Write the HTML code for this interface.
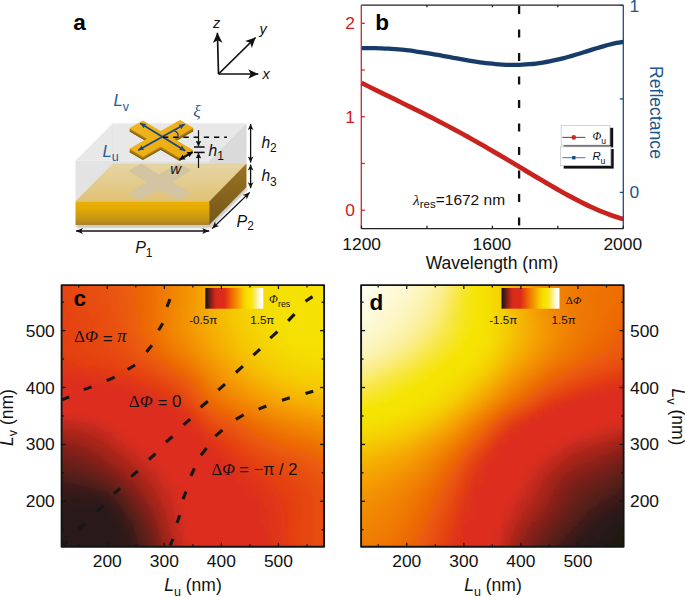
<!DOCTYPE html><html><head><meta charset="utf-8"><style>html,body{margin:0;padding:0;background:#fff;}svg{display:block;}</style></head><body><svg width="685" height="597" viewBox="0 0 685 597"><rect width="685" height="597" fill="#fff"/><defs><filter id="vblur" x="-0.05" y="-0.05" width="1.1" height="1.1"><feGaussianBlur stdDeviation="0.6 1.4"/></filter><linearGradient id="gc0" gradientUnits="userSpaceOnUse" x1="61.6" x2="324.1" y1="0" y2="0"><stop offset="0" stop-color="#e5440d"/><stop offset="0.043" stop-color="#e6470d"/><stop offset="0.087" stop-color="#e74a0c"/><stop offset="0.13" stop-color="#e74d0b"/><stop offset="0.174" stop-color="#e8510a"/><stop offset="0.217" stop-color="#ea5608"/><stop offset="0.261" stop-color="#eb5d07"/><stop offset="0.304" stop-color="#ec6405"/><stop offset="0.348" stop-color="#ee6e03"/><stop offset="0.391" stop-color="#f07901"/><stop offset="0.435" stop-color="#f18500"/><stop offset="0.478" stop-color="#f39100"/><stop offset="0.522" stop-color="#f59f00"/><stop offset="0.565" stop-color="#f5b000"/><stop offset="0.609" stop-color="#f5be00"/><stop offset="0.652" stop-color="#f5ca00"/><stop offset="0.696" stop-color="#f5d300"/><stop offset="0.739" stop-color="#f5da00"/><stop offset="0.783" stop-color="#f5df00"/><stop offset="0.826" stop-color="#f5e000"/><stop offset="0.87" stop-color="#f5e100"/><stop offset="0.913" stop-color="#f5e100"/><stop offset="0.957" stop-color="#f5e100"/><stop offset="1" stop-color="#f5e100"/></linearGradient><linearGradient id="gc1" gradientUnits="userSpaceOnUse" x1="61.6" x2="324.1" y1="0" y2="0"><stop offset="0" stop-color="#e5440d"/><stop offset="0.043" stop-color="#e6470d"/><stop offset="0.087" stop-color="#e74a0c"/><stop offset="0.13" stop-color="#e74d0b"/><stop offset="0.174" stop-color="#e8510a"/><stop offset="0.217" stop-color="#ea5608"/><stop offset="0.261" stop-color="#eb5d07"/><stop offset="0.304" stop-color="#ec6405"/><stop offset="0.348" stop-color="#ee6e03"/><stop offset="0.391" stop-color="#f07901"/><stop offset="0.435" stop-color="#f18500"/><stop offset="0.478" stop-color="#f39100"/><stop offset="0.522" stop-color="#f59f00"/><stop offset="0.565" stop-color="#f5b000"/><stop offset="0.609" stop-color="#f5be00"/><stop offset="0.652" stop-color="#f5ca00"/><stop offset="0.696" stop-color="#f5d300"/><stop offset="0.739" stop-color="#f5da00"/><stop offset="0.783" stop-color="#f5df00"/><stop offset="0.826" stop-color="#f5e000"/><stop offset="0.87" stop-color="#f5e100"/><stop offset="0.913" stop-color="#f5e100"/><stop offset="0.957" stop-color="#f5e100"/><stop offset="1" stop-color="#f5e100"/></linearGradient><linearGradient id="gc2" gradientUnits="userSpaceOnUse" x1="61.6" x2="324.1" y1="0" y2="0"><stop offset="0" stop-color="#e5440e"/><stop offset="0.043" stop-color="#e6470d"/><stop offset="0.087" stop-color="#e74a0c"/><stop offset="0.13" stop-color="#e74d0b"/><stop offset="0.174" stop-color="#e8510a"/><stop offset="0.217" stop-color="#ea5609"/><stop offset="0.261" stop-color="#eb5c07"/><stop offset="0.304" stop-color="#ec6405"/><stop offset="0.348" stop-color="#ee6e03"/><stop offset="0.391" stop-color="#f07901"/><stop offset="0.435" stop-color="#f18500"/><stop offset="0.478" stop-color="#f39100"/><stop offset="0.522" stop-color="#f59f00"/><stop offset="0.565" stop-color="#f5af00"/><stop offset="0.609" stop-color="#f5be00"/><stop offset="0.652" stop-color="#f5ca00"/><stop offset="0.696" stop-color="#f5d300"/><stop offset="0.739" stop-color="#f5da00"/><stop offset="0.783" stop-color="#f5df00"/><stop offset="0.826" stop-color="#f5e000"/><stop offset="0.87" stop-color="#f5e100"/><stop offset="0.913" stop-color="#f5e100"/><stop offset="0.957" stop-color="#f5e100"/><stop offset="1" stop-color="#f5e100"/></linearGradient><linearGradient id="gc3" gradientUnits="userSpaceOnUse" x1="61.6" x2="324.1" y1="0" y2="0"><stop offset="0" stop-color="#e5440e"/><stop offset="0.043" stop-color="#e6460d"/><stop offset="0.087" stop-color="#e6490c"/><stop offset="0.13" stop-color="#e74c0b"/><stop offset="0.174" stop-color="#e8500a"/><stop offset="0.217" stop-color="#e95609"/><stop offset="0.261" stop-color="#eb5c07"/><stop offset="0.304" stop-color="#ec6405"/><stop offset="0.348" stop-color="#ee6e03"/><stop offset="0.391" stop-color="#f07901"/><stop offset="0.435" stop-color="#f18500"/><stop offset="0.478" stop-color="#f39100"/><stop offset="0.522" stop-color="#f59f00"/><stop offset="0.565" stop-color="#f5af00"/><stop offset="0.609" stop-color="#f5bd00"/><stop offset="0.652" stop-color="#f5ca00"/><stop offset="0.696" stop-color="#f5d200"/><stop offset="0.739" stop-color="#f5da00"/><stop offset="0.783" stop-color="#f5df00"/><stop offset="0.826" stop-color="#f5e000"/><stop offset="0.87" stop-color="#f5e100"/><stop offset="0.913" stop-color="#f5e100"/><stop offset="0.957" stop-color="#f5e100"/><stop offset="1" stop-color="#f5e100"/></linearGradient><linearGradient id="gc4" gradientUnits="userSpaceOnUse" x1="61.6" x2="324.1" y1="0" y2="0"><stop offset="0" stop-color="#e5430e"/><stop offset="0.043" stop-color="#e6460d"/><stop offset="0.087" stop-color="#e6490c"/><stop offset="0.13" stop-color="#e74c0b"/><stop offset="0.174" stop-color="#e8500a"/><stop offset="0.217" stop-color="#e95509"/><stop offset="0.261" stop-color="#eb5c07"/><stop offset="0.304" stop-color="#ec6405"/><stop offset="0.348" stop-color="#ee6e03"/><stop offset="0.391" stop-color="#f07901"/><stop offset="0.435" stop-color="#f18500"/><stop offset="0.478" stop-color="#f39100"/><stop offset="0.522" stop-color="#f59f00"/><stop offset="0.565" stop-color="#f5af00"/><stop offset="0.609" stop-color="#f5bd00"/><stop offset="0.652" stop-color="#f5c900"/><stop offset="0.696" stop-color="#f5d200"/><stop offset="0.739" stop-color="#f5d900"/><stop offset="0.783" stop-color="#f5de00"/><stop offset="0.826" stop-color="#f5e000"/><stop offset="0.87" stop-color="#f5e100"/><stop offset="0.913" stop-color="#f5e100"/><stop offset="0.957" stop-color="#f5e100"/><stop offset="1" stop-color="#f5e100"/></linearGradient><linearGradient id="gc5" gradientUnits="userSpaceOnUse" x1="61.6" x2="324.1" y1="0" y2="0"><stop offset="0" stop-color="#e5430e"/><stop offset="0.043" stop-color="#e5450d"/><stop offset="0.087" stop-color="#e6480c"/><stop offset="0.13" stop-color="#e74c0b"/><stop offset="0.174" stop-color="#e84f0a"/><stop offset="0.217" stop-color="#e95509"/><stop offset="0.261" stop-color="#eb5b07"/><stop offset="0.304" stop-color="#ec6405"/><stop offset="0.348" stop-color="#ee6e03"/><stop offset="0.391" stop-color="#f07a01"/><stop offset="0.435" stop-color="#f18600"/><stop offset="0.478" stop-color="#f39100"/><stop offset="0.522" stop-color="#f59e00"/><stop offset="0.565" stop-color="#f5ae00"/><stop offset="0.609" stop-color="#f5bc00"/><stop offset="0.652" stop-color="#f5c900"/><stop offset="0.696" stop-color="#f5d200"/><stop offset="0.739" stop-color="#f5d900"/><stop offset="0.783" stop-color="#f5de00"/><stop offset="0.826" stop-color="#f5e000"/><stop offset="0.87" stop-color="#f5e100"/><stop offset="0.913" stop-color="#f5e100"/><stop offset="0.957" stop-color="#f5e100"/><stop offset="1" stop-color="#f5e100"/></linearGradient><linearGradient id="gc6" gradientUnits="userSpaceOnUse" x1="61.6" x2="324.1" y1="0" y2="0"><stop offset="0" stop-color="#e5420e"/><stop offset="0.043" stop-color="#e5450d"/><stop offset="0.087" stop-color="#e6480c"/><stop offset="0.13" stop-color="#e74b0c"/><stop offset="0.174" stop-color="#e84f0a"/><stop offset="0.217" stop-color="#e95409"/><stop offset="0.261" stop-color="#eb5b07"/><stop offset="0.304" stop-color="#ec6305"/><stop offset="0.348" stop-color="#ee6e03"/><stop offset="0.391" stop-color="#f07a01"/><stop offset="0.435" stop-color="#f18600"/><stop offset="0.478" stop-color="#f39100"/><stop offset="0.522" stop-color="#f59e00"/><stop offset="0.565" stop-color="#f5ae00"/><stop offset="0.609" stop-color="#f5bc00"/><stop offset="0.652" stop-color="#f5c900"/><stop offset="0.696" stop-color="#f5d100"/><stop offset="0.739" stop-color="#f5d900"/><stop offset="0.783" stop-color="#f5de00"/><stop offset="0.826" stop-color="#f5e000"/><stop offset="0.87" stop-color="#f5e100"/><stop offset="0.913" stop-color="#f5e100"/><stop offset="0.957" stop-color="#f5e100"/><stop offset="1" stop-color="#f5e100"/></linearGradient><linearGradient id="gc7" gradientUnits="userSpaceOnUse" x1="61.6" x2="324.1" y1="0" y2="0"><stop offset="0" stop-color="#e5420e"/><stop offset="0.043" stop-color="#e5440d"/><stop offset="0.087" stop-color="#e6470d"/><stop offset="0.13" stop-color="#e74b0c"/><stop offset="0.174" stop-color="#e84f0b"/><stop offset="0.217" stop-color="#e95409"/><stop offset="0.261" stop-color="#ea5b07"/><stop offset="0.304" stop-color="#ec6305"/><stop offset="0.348" stop-color="#ee6e03"/><stop offset="0.391" stop-color="#f07a00"/><stop offset="0.435" stop-color="#f18600"/><stop offset="0.478" stop-color="#f39100"/><stop offset="0.522" stop-color="#f59e00"/><stop offset="0.565" stop-color="#f5ae00"/><stop offset="0.609" stop-color="#f5bc00"/><stop offset="0.652" stop-color="#f5c800"/><stop offset="0.696" stop-color="#f5d100"/><stop offset="0.739" stop-color="#f5d800"/><stop offset="0.783" stop-color="#f5de00"/><stop offset="0.826" stop-color="#f5e000"/><stop offset="0.87" stop-color="#f5e100"/><stop offset="0.913" stop-color="#f5e100"/><stop offset="0.957" stop-color="#f5e100"/><stop offset="1" stop-color="#f5e100"/></linearGradient><linearGradient id="gc8" gradientUnits="userSpaceOnUse" x1="61.6" x2="324.1" y1="0" y2="0"><stop offset="0" stop-color="#e5410e"/><stop offset="0.043" stop-color="#e5440e"/><stop offset="0.087" stop-color="#e6470d"/><stop offset="0.13" stop-color="#e74a0c"/><stop offset="0.174" stop-color="#e84e0b"/><stop offset="0.217" stop-color="#e95409"/><stop offset="0.261" stop-color="#ea5b07"/><stop offset="0.304" stop-color="#ec6305"/><stop offset="0.348" stop-color="#ee6e03"/><stop offset="0.391" stop-color="#f07a00"/><stop offset="0.435" stop-color="#f18600"/><stop offset="0.478" stop-color="#f39100"/><stop offset="0.522" stop-color="#f59f00"/><stop offset="0.565" stop-color="#f5ae00"/><stop offset="0.609" stop-color="#f5bb00"/><stop offset="0.652" stop-color="#f5c800"/><stop offset="0.696" stop-color="#f5d100"/><stop offset="0.739" stop-color="#f5d800"/><stop offset="0.783" stop-color="#f5dd00"/><stop offset="0.826" stop-color="#f5e000"/><stop offset="0.87" stop-color="#f5e100"/><stop offset="0.913" stop-color="#f5e100"/><stop offset="0.957" stop-color="#f5e100"/><stop offset="1" stop-color="#f5e100"/></linearGradient><linearGradient id="gc9" gradientUnits="userSpaceOnUse" x1="61.6" x2="324.1" y1="0" y2="0"><stop offset="0" stop-color="#e4410e"/><stop offset="0.043" stop-color="#e5440e"/><stop offset="0.087" stop-color="#e6470d"/><stop offset="0.13" stop-color="#e74a0c"/><stop offset="0.174" stop-color="#e84e0b"/><stop offset="0.217" stop-color="#e95409"/><stop offset="0.261" stop-color="#ea5b07"/><stop offset="0.304" stop-color="#ec6305"/><stop offset="0.348" stop-color="#ee6e03"/><stop offset="0.391" stop-color="#f07a00"/><stop offset="0.435" stop-color="#f18700"/><stop offset="0.478" stop-color="#f39200"/><stop offset="0.522" stop-color="#f59f00"/><stop offset="0.565" stop-color="#f5ae00"/><stop offset="0.609" stop-color="#f5bb00"/><stop offset="0.652" stop-color="#f5c800"/><stop offset="0.696" stop-color="#f5d000"/><stop offset="0.739" stop-color="#f5d700"/><stop offset="0.783" stop-color="#f5dd00"/><stop offset="0.826" stop-color="#f5e000"/><stop offset="0.87" stop-color="#f5e100"/><stop offset="0.913" stop-color="#f5e100"/><stop offset="0.957" stop-color="#f5e100"/><stop offset="1" stop-color="#f5e100"/></linearGradient><linearGradient id="gc10" gradientUnits="userSpaceOnUse" x1="61.6" x2="324.1" y1="0" y2="0"><stop offset="0" stop-color="#e4410e"/><stop offset="0.043" stop-color="#e5430e"/><stop offset="0.087" stop-color="#e6460d"/><stop offset="0.13" stop-color="#e74a0c"/><stop offset="0.174" stop-color="#e84e0b"/><stop offset="0.217" stop-color="#e95309"/><stop offset="0.261" stop-color="#ea5a07"/><stop offset="0.304" stop-color="#ec6305"/><stop offset="0.348" stop-color="#ee6e03"/><stop offset="0.391" stop-color="#f07b00"/><stop offset="0.435" stop-color="#f28700"/><stop offset="0.478" stop-color="#f39200"/><stop offset="0.522" stop-color="#f59f00"/><stop offset="0.565" stop-color="#f5ae00"/><stop offset="0.609" stop-color="#f5bb00"/><stop offset="0.652" stop-color="#f5c700"/><stop offset="0.696" stop-color="#f5d000"/><stop offset="0.739" stop-color="#f5d700"/><stop offset="0.783" stop-color="#f5dd00"/><stop offset="0.826" stop-color="#f5e000"/><stop offset="0.87" stop-color="#f5e000"/><stop offset="0.913" stop-color="#f5e100"/><stop offset="0.957" stop-color="#f5e100"/><stop offset="1" stop-color="#f5e100"/></linearGradient><linearGradient id="gc11" gradientUnits="userSpaceOnUse" x1="61.6" x2="324.1" y1="0" y2="0"><stop offset="0" stop-color="#e4400f"/><stop offset="0.043" stop-color="#e5430e"/><stop offset="0.087" stop-color="#e6460d"/><stop offset="0.13" stop-color="#e6490c"/><stop offset="0.174" stop-color="#e74d0b"/><stop offset="0.217" stop-color="#e95309"/><stop offset="0.261" stop-color="#ea5a08"/><stop offset="0.304" stop-color="#ec6306"/><stop offset="0.348" stop-color="#ee6e03"/><stop offset="0.391" stop-color="#f07b00"/><stop offset="0.435" stop-color="#f28700"/><stop offset="0.478" stop-color="#f39200"/><stop offset="0.522" stop-color="#f59f00"/><stop offset="0.565" stop-color="#f5ad00"/><stop offset="0.609" stop-color="#f5ba00"/><stop offset="0.652" stop-color="#f5c600"/><stop offset="0.696" stop-color="#f5cf00"/><stop offset="0.739" stop-color="#f5d600"/><stop offset="0.783" stop-color="#f5dc00"/><stop offset="0.826" stop-color="#f5e000"/><stop offset="0.87" stop-color="#f5e000"/><stop offset="0.913" stop-color="#f5e100"/><stop offset="0.957" stop-color="#f5e100"/><stop offset="1" stop-color="#f5e100"/></linearGradient><linearGradient id="gc12" gradientUnits="userSpaceOnUse" x1="61.6" x2="324.1" y1="0" y2="0"><stop offset="0" stop-color="#e4400f"/><stop offset="0.043" stop-color="#e5430e"/><stop offset="0.087" stop-color="#e6460d"/><stop offset="0.13" stop-color="#e6490c"/><stop offset="0.174" stop-color="#e74d0b"/><stop offset="0.217" stop-color="#e95309"/><stop offset="0.261" stop-color="#ea5a08"/><stop offset="0.304" stop-color="#ec6306"/><stop offset="0.348" stop-color="#ee6e03"/><stop offset="0.391" stop-color="#f07b00"/><stop offset="0.435" stop-color="#f28700"/><stop offset="0.478" stop-color="#f39200"/><stop offset="0.522" stop-color="#f59f00"/><stop offset="0.565" stop-color="#f5ad00"/><stop offset="0.609" stop-color="#f5ba00"/><stop offset="0.652" stop-color="#f5c600"/><stop offset="0.696" stop-color="#f5cf00"/><stop offset="0.739" stop-color="#f5d600"/><stop offset="0.783" stop-color="#f5db00"/><stop offset="0.826" stop-color="#f5e000"/><stop offset="0.87" stop-color="#f5e000"/><stop offset="0.913" stop-color="#f5e100"/><stop offset="0.957" stop-color="#f5e100"/><stop offset="1" stop-color="#f5e100"/></linearGradient><linearGradient id="gc13" gradientUnits="userSpaceOnUse" x1="61.6" x2="324.1" y1="0" y2="0"><stop offset="0" stop-color="#e4400f"/><stop offset="0.043" stop-color="#e5420e"/><stop offset="0.087" stop-color="#e6450d"/><stop offset="0.13" stop-color="#e6490c"/><stop offset="0.174" stop-color="#e74d0b"/><stop offset="0.217" stop-color="#e9520a"/><stop offset="0.261" stop-color="#ea5a08"/><stop offset="0.304" stop-color="#ec6306"/><stop offset="0.348" stop-color="#ee6e03"/><stop offset="0.391" stop-color="#f07b00"/><stop offset="0.435" stop-color="#f28800"/><stop offset="0.478" stop-color="#f39200"/><stop offset="0.522" stop-color="#f59f00"/><stop offset="0.565" stop-color="#f5ad00"/><stop offset="0.609" stop-color="#f5b900"/><stop offset="0.652" stop-color="#f5c500"/><stop offset="0.696" stop-color="#f5ce00"/><stop offset="0.739" stop-color="#f5d500"/><stop offset="0.783" stop-color="#f5db00"/><stop offset="0.826" stop-color="#f5df00"/><stop offset="0.87" stop-color="#f5e000"/><stop offset="0.913" stop-color="#f5e100"/><stop offset="0.957" stop-color="#f5e100"/><stop offset="1" stop-color="#f5e100"/></linearGradient><linearGradient id="gc14" gradientUnits="userSpaceOnUse" x1="61.6" x2="324.1" y1="0" y2="0"><stop offset="0" stop-color="#e43f0f"/><stop offset="0.043" stop-color="#e5420e"/><stop offset="0.087" stop-color="#e5450d"/><stop offset="0.13" stop-color="#e6480c"/><stop offset="0.174" stop-color="#e74c0b"/><stop offset="0.217" stop-color="#e9520a"/><stop offset="0.261" stop-color="#ea5908"/><stop offset="0.304" stop-color="#ec6206"/><stop offset="0.348" stop-color="#ee6e03"/><stop offset="0.391" stop-color="#f07b00"/><stop offset="0.435" stop-color="#f28800"/><stop offset="0.478" stop-color="#f39200"/><stop offset="0.522" stop-color="#f59f00"/><stop offset="0.565" stop-color="#f5ac00"/><stop offset="0.609" stop-color="#f5b900"/><stop offset="0.652" stop-color="#f5c400"/><stop offset="0.696" stop-color="#f5cd00"/><stop offset="0.739" stop-color="#f5d400"/><stop offset="0.783" stop-color="#f5da00"/><stop offset="0.826" stop-color="#f5df00"/><stop offset="0.87" stop-color="#f5e000"/><stop offset="0.913" stop-color="#f5e100"/><stop offset="0.957" stop-color="#f5e100"/><stop offset="1" stop-color="#f5e100"/></linearGradient><linearGradient id="gc15" gradientUnits="userSpaceOnUse" x1="61.6" x2="324.1" y1="0" y2="0"><stop offset="0" stop-color="#e43f0f"/><stop offset="0.043" stop-color="#e5420e"/><stop offset="0.087" stop-color="#e5450d"/><stop offset="0.13" stop-color="#e6480c"/><stop offset="0.174" stop-color="#e74c0b"/><stop offset="0.217" stop-color="#e8510a"/><stop offset="0.261" stop-color="#ea5908"/><stop offset="0.304" stop-color="#ec6206"/><stop offset="0.348" stop-color="#ee6d03"/><stop offset="0.391" stop-color="#f07b00"/><stop offset="0.435" stop-color="#f28700"/><stop offset="0.478" stop-color="#f39200"/><stop offset="0.522" stop-color="#f59e00"/><stop offset="0.565" stop-color="#f5ac00"/><stop offset="0.609" stop-color="#f5b800"/><stop offset="0.652" stop-color="#f5c300"/><stop offset="0.696" stop-color="#f5cd00"/><stop offset="0.739" stop-color="#f5d300"/><stop offset="0.783" stop-color="#f5d900"/><stop offset="0.826" stop-color="#f5de00"/><stop offset="0.87" stop-color="#f5e000"/><stop offset="0.913" stop-color="#f5e100"/><stop offset="0.957" stop-color="#f5e100"/><stop offset="1" stop-color="#f5e100"/></linearGradient><linearGradient id="gc16" gradientUnits="userSpaceOnUse" x1="61.6" x2="324.1" y1="0" y2="0"><stop offset="0" stop-color="#e43f0f"/><stop offset="0.043" stop-color="#e5410e"/><stop offset="0.087" stop-color="#e5440d"/><stop offset="0.13" stop-color="#e6480d"/><stop offset="0.174" stop-color="#e74c0b"/><stop offset="0.217" stop-color="#e8510a"/><stop offset="0.261" stop-color="#ea5808"/><stop offset="0.304" stop-color="#ec6106"/><stop offset="0.348" stop-color="#ed6d03"/><stop offset="0.391" stop-color="#f07a00"/><stop offset="0.435" stop-color="#f28700"/><stop offset="0.478" stop-color="#f39200"/><stop offset="0.522" stop-color="#f59e00"/><stop offset="0.565" stop-color="#f5ab00"/><stop offset="0.609" stop-color="#f5b700"/><stop offset="0.652" stop-color="#f5c200"/><stop offset="0.696" stop-color="#f5cc00"/><stop offset="0.739" stop-color="#f5d300"/><stop offset="0.783" stop-color="#f5d900"/><stop offset="0.826" stop-color="#f5de00"/><stop offset="0.87" stop-color="#f5e000"/><stop offset="0.913" stop-color="#f5e100"/><stop offset="0.957" stop-color="#f5e100"/><stop offset="1" stop-color="#f5e100"/></linearGradient><linearGradient id="gc17" gradientUnits="userSpaceOnUse" x1="61.6" x2="324.1" y1="0" y2="0"><stop offset="0" stop-color="#e43e0f"/><stop offset="0.043" stop-color="#e4410e"/><stop offset="0.087" stop-color="#e5440d"/><stop offset="0.13" stop-color="#e6470d"/><stop offset="0.174" stop-color="#e74b0c"/><stop offset="0.217" stop-color="#e8500a"/><stop offset="0.261" stop-color="#ea5808"/><stop offset="0.304" stop-color="#eb6106"/><stop offset="0.348" stop-color="#ed6c04"/><stop offset="0.391" stop-color="#f07a01"/><stop offset="0.435" stop-color="#f18700"/><stop offset="0.478" stop-color="#f39100"/><stop offset="0.522" stop-color="#f59d00"/><stop offset="0.565" stop-color="#f5aa00"/><stop offset="0.609" stop-color="#f5b600"/><stop offset="0.652" stop-color="#f5c100"/><stop offset="0.696" stop-color="#f5cb00"/><stop offset="0.739" stop-color="#f5d200"/><stop offset="0.783" stop-color="#f5d800"/><stop offset="0.826" stop-color="#f5dd00"/><stop offset="0.87" stop-color="#f5e000"/><stop offset="0.913" stop-color="#f5e000"/><stop offset="0.957" stop-color="#f5e100"/><stop offset="1" stop-color="#f5e100"/></linearGradient><linearGradient id="gc18" gradientUnits="userSpaceOnUse" x1="61.6" x2="324.1" y1="0" y2="0"><stop offset="0" stop-color="#e43e0f"/><stop offset="0.043" stop-color="#e4410e"/><stop offset="0.087" stop-color="#e5440e"/><stop offset="0.13" stop-color="#e6470d"/><stop offset="0.174" stop-color="#e74a0c"/><stop offset="0.217" stop-color="#e8500a"/><stop offset="0.261" stop-color="#ea5708"/><stop offset="0.304" stop-color="#eb6006"/><stop offset="0.348" stop-color="#ed6b04"/><stop offset="0.391" stop-color="#ef7901"/><stop offset="0.435" stop-color="#f18600"/><stop offset="0.478" stop-color="#f39000"/><stop offset="0.522" stop-color="#f49c00"/><stop offset="0.565" stop-color="#f5a900"/><stop offset="0.609" stop-color="#f5b500"/><stop offset="0.652" stop-color="#f5c000"/><stop offset="0.696" stop-color="#f5ca00"/><stop offset="0.739" stop-color="#f5d100"/><stop offset="0.783" stop-color="#f5d700"/><stop offset="0.826" stop-color="#f5dc00"/><stop offset="0.87" stop-color="#f5e000"/><stop offset="0.913" stop-color="#f5e000"/><stop offset="0.957" stop-color="#f5e100"/><stop offset="1" stop-color="#f5e100"/></linearGradient><linearGradient id="gc19" gradientUnits="userSpaceOnUse" x1="61.6" x2="324.1" y1="0" y2="0"><stop offset="0" stop-color="#e43d0f"/><stop offset="0.043" stop-color="#e4400f"/><stop offset="0.087" stop-color="#e5430e"/><stop offset="0.13" stop-color="#e6460d"/><stop offset="0.174" stop-color="#e74a0c"/><stop offset="0.217" stop-color="#e84f0b"/><stop offset="0.261" stop-color="#e95609"/><stop offset="0.304" stop-color="#eb5e07"/><stop offset="0.348" stop-color="#ed6a04"/><stop offset="0.391" stop-color="#ef7701"/><stop offset="0.435" stop-color="#f18400"/><stop offset="0.478" stop-color="#f38e00"/><stop offset="0.522" stop-color="#f49a00"/><stop offset="0.565" stop-color="#f5a700"/><stop offset="0.609" stop-color="#f5b300"/><stop offset="0.652" stop-color="#f5be00"/><stop offset="0.696" stop-color="#f5c900"/><stop offset="0.739" stop-color="#f5d000"/><stop offset="0.783" stop-color="#f5d600"/><stop offset="0.826" stop-color="#f5db00"/><stop offset="0.87" stop-color="#f5df00"/><stop offset="0.913" stop-color="#f5e000"/><stop offset="0.957" stop-color="#f5e000"/><stop offset="1" stop-color="#f5e100"/></linearGradient><linearGradient id="gc20" gradientUnits="userSpaceOnUse" x1="61.6" x2="324.1" y1="0" y2="0"><stop offset="0" stop-color="#e43d0f"/><stop offset="0.043" stop-color="#e4400f"/><stop offset="0.087" stop-color="#e5430e"/><stop offset="0.13" stop-color="#e6460d"/><stop offset="0.174" stop-color="#e6490c"/><stop offset="0.217" stop-color="#e84e0b"/><stop offset="0.261" stop-color="#e95509"/><stop offset="0.304" stop-color="#eb5d07"/><stop offset="0.348" stop-color="#ed6804"/><stop offset="0.391" stop-color="#ef7501"/><stop offset="0.435" stop-color="#f18300"/><stop offset="0.478" stop-color="#f28d00"/><stop offset="0.522" stop-color="#f49900"/><stop offset="0.565" stop-color="#f5a600"/><stop offset="0.609" stop-color="#f5b200"/><stop offset="0.652" stop-color="#f5bd00"/><stop offset="0.696" stop-color="#f5c800"/><stop offset="0.739" stop-color="#f5cf00"/><stop offset="0.783" stop-color="#f5d500"/><stop offset="0.826" stop-color="#f5db00"/><stop offset="0.87" stop-color="#f5df00"/><stop offset="0.913" stop-color="#f5e000"/><stop offset="0.957" stop-color="#f5e000"/><stop offset="1" stop-color="#f5e100"/></linearGradient><linearGradient id="gc21" gradientUnits="userSpaceOnUse" x1="61.6" x2="324.1" y1="0" y2="0"><stop offset="0" stop-color="#e33d10"/><stop offset="0.043" stop-color="#e4400f"/><stop offset="0.087" stop-color="#e5420e"/><stop offset="0.13" stop-color="#e5450d"/><stop offset="0.174" stop-color="#e6480c"/><stop offset="0.217" stop-color="#e74d0b"/><stop offset="0.261" stop-color="#e95309"/><stop offset="0.304" stop-color="#eb5c07"/><stop offset="0.348" stop-color="#ec6605"/><stop offset="0.391" stop-color="#ef7302"/><stop offset="0.435" stop-color="#f18000"/><stop offset="0.478" stop-color="#f28b00"/><stop offset="0.522" stop-color="#f49700"/><stop offset="0.565" stop-color="#f5a400"/><stop offset="0.609" stop-color="#f5b000"/><stop offset="0.652" stop-color="#f5bb00"/><stop offset="0.696" stop-color="#f5c600"/><stop offset="0.739" stop-color="#f5ce00"/><stop offset="0.783" stop-color="#f5d400"/><stop offset="0.826" stop-color="#f5da00"/><stop offset="0.87" stop-color="#f5de00"/><stop offset="0.913" stop-color="#f5e000"/><stop offset="0.957" stop-color="#f5e000"/><stop offset="1" stop-color="#f5e000"/></linearGradient><linearGradient id="gc22" gradientUnits="userSpaceOnUse" x1="61.6" x2="324.1" y1="0" y2="0"><stop offset="0" stop-color="#e33c10"/><stop offset="0.043" stop-color="#e43f0f"/><stop offset="0.087" stop-color="#e5420e"/><stop offset="0.13" stop-color="#e5440d"/><stop offset="0.174" stop-color="#e6470d"/><stop offset="0.217" stop-color="#e74c0b"/><stop offset="0.261" stop-color="#e9520a"/><stop offset="0.304" stop-color="#ea5a08"/><stop offset="0.348" stop-color="#ec6405"/><stop offset="0.391" stop-color="#ee7103"/><stop offset="0.435" stop-color="#f07e00"/><stop offset="0.478" stop-color="#f28800"/><stop offset="0.522" stop-color="#f39500"/><stop offset="0.565" stop-color="#f5a200"/><stop offset="0.609" stop-color="#f5ae00"/><stop offset="0.652" stop-color="#f5ba00"/><stop offset="0.696" stop-color="#f5c500"/><stop offset="0.739" stop-color="#f5cd00"/><stop offset="0.783" stop-color="#f5d300"/><stop offset="0.826" stop-color="#f5d800"/><stop offset="0.87" stop-color="#f5dd00"/><stop offset="0.913" stop-color="#f5df00"/><stop offset="0.957" stop-color="#f5e000"/><stop offset="1" stop-color="#f5e000"/></linearGradient><linearGradient id="gc23" gradientUnits="userSpaceOnUse" x1="61.6" x2="324.1" y1="0" y2="0"><stop offset="0" stop-color="#e33c10"/><stop offset="0.043" stop-color="#e43f0f"/><stop offset="0.087" stop-color="#e4410e"/><stop offset="0.13" stop-color="#e5440e"/><stop offset="0.174" stop-color="#e6460d"/><stop offset="0.217" stop-color="#e74b0c"/><stop offset="0.261" stop-color="#e8500a"/><stop offset="0.304" stop-color="#ea5808"/><stop offset="0.348" stop-color="#ec6206"/><stop offset="0.391" stop-color="#ee6e03"/><stop offset="0.435" stop-color="#f07b00"/><stop offset="0.478" stop-color="#f18500"/><stop offset="0.522" stop-color="#f39200"/><stop offset="0.565" stop-color="#f59f00"/><stop offset="0.609" stop-color="#f5ac00"/><stop offset="0.652" stop-color="#f5b800"/><stop offset="0.696" stop-color="#f5c300"/><stop offset="0.739" stop-color="#f5cb00"/><stop offset="0.783" stop-color="#f5d200"/><stop offset="0.826" stop-color="#f5d700"/><stop offset="0.87" stop-color="#f5db00"/><stop offset="0.913" stop-color="#f5de00"/><stop offset="0.957" stop-color="#f5df00"/><stop offset="1" stop-color="#f5e000"/></linearGradient><linearGradient id="gc24" gradientUnits="userSpaceOnUse" x1="61.6" x2="324.1" y1="0" y2="0"><stop offset="0" stop-color="#e33b10"/><stop offset="0.043" stop-color="#e43e0f"/><stop offset="0.087" stop-color="#e4400f"/><stop offset="0.13" stop-color="#e5430e"/><stop offset="0.174" stop-color="#e6450d"/><stop offset="0.217" stop-color="#e6490c"/><stop offset="0.261" stop-color="#e84f0b"/><stop offset="0.304" stop-color="#ea5608"/><stop offset="0.348" stop-color="#eb6006"/><stop offset="0.391" stop-color="#ed6b04"/><stop offset="0.435" stop-color="#ef7701"/><stop offset="0.478" stop-color="#f18200"/><stop offset="0.522" stop-color="#f39000"/><stop offset="0.565" stop-color="#f59d00"/><stop offset="0.609" stop-color="#f5aa00"/><stop offset="0.652" stop-color="#f5b600"/><stop offset="0.696" stop-color="#f5c100"/><stop offset="0.739" stop-color="#f5ca00"/><stop offset="0.783" stop-color="#f5d100"/><stop offset="0.826" stop-color="#f5d600"/><stop offset="0.87" stop-color="#f5da00"/><stop offset="0.913" stop-color="#f5dd00"/><stop offset="0.957" stop-color="#f5de00"/><stop offset="1" stop-color="#f5e000"/></linearGradient><linearGradient id="gc25" gradientUnits="userSpaceOnUse" x1="61.6" x2="324.1" y1="0" y2="0"><stop offset="0" stop-color="#e33a10"/><stop offset="0.043" stop-color="#e33d0f"/><stop offset="0.087" stop-color="#e43f0f"/><stop offset="0.13" stop-color="#e5410e"/><stop offset="0.174" stop-color="#e5440e"/><stop offset="0.217" stop-color="#e6480d"/><stop offset="0.261" stop-color="#e74d0b"/><stop offset="0.304" stop-color="#e95409"/><stop offset="0.348" stop-color="#eb5d07"/><stop offset="0.391" stop-color="#ed6805"/><stop offset="0.435" stop-color="#ef7402"/><stop offset="0.478" stop-color="#f07f00"/><stop offset="0.522" stop-color="#f28d00"/><stop offset="0.565" stop-color="#f49a00"/><stop offset="0.609" stop-color="#f5a700"/><stop offset="0.652" stop-color="#f5b300"/><stop offset="0.696" stop-color="#f5bf00"/><stop offset="0.739" stop-color="#f5c900"/><stop offset="0.783" stop-color="#f5cf00"/><stop offset="0.826" stop-color="#f5d400"/><stop offset="0.87" stop-color="#f5d900"/><stop offset="0.913" stop-color="#f5db00"/><stop offset="0.957" stop-color="#f5dd00"/><stop offset="1" stop-color="#f5de00"/></linearGradient><linearGradient id="gc26" gradientUnits="userSpaceOnUse" x1="61.6" x2="324.1" y1="0" y2="0"><stop offset="0" stop-color="#e23911"/><stop offset="0.043" stop-color="#e33c10"/><stop offset="0.087" stop-color="#e43e0f"/><stop offset="0.13" stop-color="#e4400f"/><stop offset="0.174" stop-color="#e5420e"/><stop offset="0.217" stop-color="#e6460d"/><stop offset="0.261" stop-color="#e74a0c"/><stop offset="0.304" stop-color="#e8510a"/><stop offset="0.348" stop-color="#ea5a08"/><stop offset="0.391" stop-color="#ec6405"/><stop offset="0.435" stop-color="#ee7003"/><stop offset="0.478" stop-color="#f07b00"/><stop offset="0.522" stop-color="#f28900"/><stop offset="0.565" stop-color="#f49800"/><stop offset="0.609" stop-color="#f5a500"/><stop offset="0.652" stop-color="#f5b100"/><stop offset="0.696" stop-color="#f5bc00"/><stop offset="0.739" stop-color="#f5c600"/><stop offset="0.783" stop-color="#f5cd00"/><stop offset="0.826" stop-color="#f5d300"/><stop offset="0.87" stop-color="#f5d700"/><stop offset="0.913" stop-color="#f5da00"/><stop offset="0.957" stop-color="#f5db00"/><stop offset="1" stop-color="#f5dd00"/></linearGradient><linearGradient id="gc27" gradientUnits="userSpaceOnUse" x1="61.6" x2="324.1" y1="0" y2="0"><stop offset="0" stop-color="#e23812"/><stop offset="0.043" stop-color="#e33a10"/><stop offset="0.087" stop-color="#e33c10"/><stop offset="0.13" stop-color="#e43e0f"/><stop offset="0.174" stop-color="#e4400e"/><stop offset="0.217" stop-color="#e5440e"/><stop offset="0.261" stop-color="#e6480c"/><stop offset="0.304" stop-color="#e84e0b"/><stop offset="0.348" stop-color="#ea5708"/><stop offset="0.391" stop-color="#eb6006"/><stop offset="0.435" stop-color="#ed6c04"/><stop offset="0.478" stop-color="#ef7701"/><stop offset="0.522" stop-color="#f18600"/><stop offset="0.565" stop-color="#f39500"/><stop offset="0.609" stop-color="#f5a200"/><stop offset="0.652" stop-color="#f5ae00"/><stop offset="0.696" stop-color="#f5ba00"/><stop offset="0.739" stop-color="#f5c400"/><stop offset="0.783" stop-color="#f5cc00"/><stop offset="0.826" stop-color="#f5d100"/><stop offset="0.87" stop-color="#f5d500"/><stop offset="0.913" stop-color="#f5d800"/><stop offset="0.957" stop-color="#f5da00"/><stop offset="1" stop-color="#f5db00"/></linearGradient><linearGradient id="gc28" gradientUnits="userSpaceOnUse" x1="61.6" x2="324.1" y1="0" y2="0"><stop offset="0" stop-color="#e13712"/><stop offset="0.043" stop-color="#e23911"/><stop offset="0.087" stop-color="#e33b10"/><stop offset="0.13" stop-color="#e33d10"/><stop offset="0.174" stop-color="#e43f0f"/><stop offset="0.217" stop-color="#e5420e"/><stop offset="0.261" stop-color="#e6460d"/><stop offset="0.304" stop-color="#e74c0b"/><stop offset="0.348" stop-color="#e95309"/><stop offset="0.391" stop-color="#eb5d07"/><stop offset="0.435" stop-color="#ed6805"/><stop offset="0.478" stop-color="#ef7302"/><stop offset="0.522" stop-color="#f18300"/><stop offset="0.565" stop-color="#f39200"/><stop offset="0.609" stop-color="#f59f00"/><stop offset="0.652" stop-color="#f5ac00"/><stop offset="0.696" stop-color="#f5b700"/><stop offset="0.739" stop-color="#f5c200"/><stop offset="0.783" stop-color="#f5ca00"/><stop offset="0.826" stop-color="#f5cf00"/><stop offset="0.87" stop-color="#f5d400"/><stop offset="0.913" stop-color="#f5d600"/><stop offset="0.957" stop-color="#f5d800"/><stop offset="1" stop-color="#f5da00"/></linearGradient><linearGradient id="gc29" gradientUnits="userSpaceOnUse" x1="61.6" x2="324.1" y1="0" y2="0"><stop offset="0" stop-color="#e03514"/><stop offset="0.043" stop-color="#e13712"/><stop offset="0.087" stop-color="#e23912"/><stop offset="0.13" stop-color="#e33a11"/><stop offset="0.174" stop-color="#e33c10"/><stop offset="0.217" stop-color="#e43f0f"/><stop offset="0.261" stop-color="#e5430e"/><stop offset="0.304" stop-color="#e6480c"/><stop offset="0.348" stop-color="#e84f0a"/><stop offset="0.391" stop-color="#ea5908"/><stop offset="0.435" stop-color="#ec6305"/><stop offset="0.478" stop-color="#ee6f03"/><stop offset="0.522" stop-color="#f07f00"/><stop offset="0.565" stop-color="#f38f00"/><stop offset="0.609" stop-color="#f49c00"/><stop offset="0.652" stop-color="#f5a800"/><stop offset="0.696" stop-color="#f5b400"/><stop offset="0.739" stop-color="#f5be00"/><stop offset="0.783" stop-color="#f5c700"/><stop offset="0.826" stop-color="#f5cd00"/><stop offset="0.87" stop-color="#f5d200"/><stop offset="0.913" stop-color="#f5d400"/><stop offset="0.957" stop-color="#f5d600"/><stop offset="1" stop-color="#f5d800"/></linearGradient><linearGradient id="gc30" gradientUnits="userSpaceOnUse" x1="61.6" x2="324.1" y1="0" y2="0"><stop offset="0" stop-color="#e03415"/><stop offset="0.043" stop-color="#e03514"/><stop offset="0.087" stop-color="#e13713"/><stop offset="0.13" stop-color="#e23812"/><stop offset="0.174" stop-color="#e23a11"/><stop offset="0.217" stop-color="#e33c10"/><stop offset="0.261" stop-color="#e4400f"/><stop offset="0.304" stop-color="#e5450d"/><stop offset="0.348" stop-color="#e74c0b"/><stop offset="0.391" stop-color="#e95509"/><stop offset="0.435" stop-color="#eb5f06"/><stop offset="0.478" stop-color="#ed6a04"/><stop offset="0.522" stop-color="#f07b00"/><stop offset="0.565" stop-color="#f28b00"/><stop offset="0.609" stop-color="#f49900"/><stop offset="0.652" stop-color="#f5a500"/><stop offset="0.696" stop-color="#f5b100"/><stop offset="0.739" stop-color="#f5bb00"/><stop offset="0.783" stop-color="#f5c400"/><stop offset="0.826" stop-color="#f5cb00"/><stop offset="0.87" stop-color="#f5cf00"/><stop offset="0.913" stop-color="#f5d200"/><stop offset="0.957" stop-color="#f5d400"/><stop offset="1" stop-color="#f5d500"/></linearGradient><linearGradient id="gc31" gradientUnits="userSpaceOnUse" x1="61.6" x2="324.1" y1="0" y2="0"><stop offset="0" stop-color="#de3116"/><stop offset="0.043" stop-color="#df3315"/><stop offset="0.087" stop-color="#e03415"/><stop offset="0.13" stop-color="#e03614"/><stop offset="0.174" stop-color="#e13713"/><stop offset="0.217" stop-color="#e23911"/><stop offset="0.261" stop-color="#e33d10"/><stop offset="0.304" stop-color="#e5420e"/><stop offset="0.348" stop-color="#e6480c"/><stop offset="0.391" stop-color="#e8510a"/><stop offset="0.435" stop-color="#ea5b07"/><stop offset="0.478" stop-color="#ec6605"/><stop offset="0.522" stop-color="#ef7601"/><stop offset="0.565" stop-color="#f28800"/><stop offset="0.609" stop-color="#f49600"/><stop offset="0.652" stop-color="#f5a200"/><stop offset="0.696" stop-color="#f5ad00"/><stop offset="0.739" stop-color="#f5b800"/><stop offset="0.783" stop-color="#f5c100"/><stop offset="0.826" stop-color="#f5c900"/><stop offset="0.87" stop-color="#f5cd00"/><stop offset="0.913" stop-color="#f5d000"/><stop offset="0.957" stop-color="#f5d200"/><stop offset="1" stop-color="#f5d300"/></linearGradient><linearGradient id="gc32" gradientUnits="userSpaceOnUse" x1="61.6" x2="324.1" y1="0" y2="0"><stop offset="0" stop-color="#dd2f18"/><stop offset="0.043" stop-color="#de3017"/><stop offset="0.087" stop-color="#df3116"/><stop offset="0.13" stop-color="#df3315"/><stop offset="0.174" stop-color="#e03514"/><stop offset="0.217" stop-color="#e13713"/><stop offset="0.261" stop-color="#e23a11"/><stop offset="0.304" stop-color="#e43e0f"/><stop offset="0.348" stop-color="#e5440d"/><stop offset="0.391" stop-color="#e74d0b"/><stop offset="0.435" stop-color="#ea5708"/><stop offset="0.478" stop-color="#ec6206"/><stop offset="0.522" stop-color="#ee7202"/><stop offset="0.565" stop-color="#f18500"/><stop offset="0.609" stop-color="#f39300"/><stop offset="0.652" stop-color="#f59e00"/><stop offset="0.696" stop-color="#f5aa00"/><stop offset="0.739" stop-color="#f5b400"/><stop offset="0.783" stop-color="#f5bd00"/><stop offset="0.826" stop-color="#f5c500"/><stop offset="0.87" stop-color="#f5cb00"/><stop offset="0.913" stop-color="#f5ce00"/><stop offset="0.957" stop-color="#f5d000"/><stop offset="1" stop-color="#f5d100"/></linearGradient><linearGradient id="gc33" gradientUnits="userSpaceOnUse" x1="61.6" x2="324.1" y1="0" y2="0"><stop offset="0" stop-color="#dc2c1a"/><stop offset="0.043" stop-color="#dd2d19"/><stop offset="0.087" stop-color="#dd2e19"/><stop offset="0.13" stop-color="#de3017"/><stop offset="0.174" stop-color="#df3216"/><stop offset="0.217" stop-color="#e03415"/><stop offset="0.261" stop-color="#e13713"/><stop offset="0.304" stop-color="#e33b10"/><stop offset="0.348" stop-color="#e4410e"/><stop offset="0.391" stop-color="#e6490c"/><stop offset="0.435" stop-color="#e9520a"/><stop offset="0.478" stop-color="#eb5d07"/><stop offset="0.522" stop-color="#ee6e03"/><stop offset="0.565" stop-color="#f18100"/><stop offset="0.609" stop-color="#f39000"/><stop offset="0.652" stop-color="#f49b00"/><stop offset="0.696" stop-color="#f5a600"/><stop offset="0.739" stop-color="#f5b000"/><stop offset="0.783" stop-color="#f5ba00"/><stop offset="0.826" stop-color="#f5c200"/><stop offset="0.87" stop-color="#f5c800"/><stop offset="0.913" stop-color="#f5cb00"/><stop offset="0.957" stop-color="#f5cd00"/><stop offset="1" stop-color="#f5cf00"/></linearGradient><linearGradient id="gc34" gradientUnits="userSpaceOnUse" x1="61.6" x2="324.1" y1="0" y2="0"><stop offset="0" stop-color="#dc2c1a"/><stop offset="0.043" stop-color="#dc2c1a"/><stop offset="0.087" stop-color="#dc2c1a"/><stop offset="0.13" stop-color="#dc2d1a"/><stop offset="0.174" stop-color="#dd2f18"/><stop offset="0.217" stop-color="#de3117"/><stop offset="0.261" stop-color="#e03415"/><stop offset="0.304" stop-color="#e23812"/><stop offset="0.348" stop-color="#e43d0f"/><stop offset="0.391" stop-color="#e5450d"/><stop offset="0.435" stop-color="#e84e0b"/><stop offset="0.478" stop-color="#ea5908"/><stop offset="0.522" stop-color="#ed6a04"/><stop offset="0.565" stop-color="#f07e00"/><stop offset="0.609" stop-color="#f28c00"/><stop offset="0.652" stop-color="#f49700"/><stop offset="0.696" stop-color="#f5a200"/><stop offset="0.739" stop-color="#f5ac00"/><stop offset="0.783" stop-color="#f5b600"/><stop offset="0.826" stop-color="#f5be00"/><stop offset="0.87" stop-color="#f5c500"/><stop offset="0.913" stop-color="#f5c900"/><stop offset="0.957" stop-color="#f5cb00"/><stop offset="1" stop-color="#f5cc00"/></linearGradient><linearGradient id="gc35" gradientUnits="userSpaceOnUse" x1="61.6" x2="324.1" y1="0" y2="0"><stop offset="0" stop-color="#dc2c1a"/><stop offset="0.043" stop-color="#dc2c1a"/><stop offset="0.087" stop-color="#dc2c1a"/><stop offset="0.13" stop-color="#dc2c1a"/><stop offset="0.174" stop-color="#dc2c1a"/><stop offset="0.217" stop-color="#dd2e19"/><stop offset="0.261" stop-color="#df3216"/><stop offset="0.304" stop-color="#e03614"/><stop offset="0.348" stop-color="#e33a11"/><stop offset="0.391" stop-color="#e4410e"/><stop offset="0.435" stop-color="#e74b0c"/><stop offset="0.478" stop-color="#e95609"/><stop offset="0.522" stop-color="#ec6705"/><stop offset="0.565" stop-color="#f07a00"/><stop offset="0.609" stop-color="#f28900"/><stop offset="0.652" stop-color="#f39400"/><stop offset="0.696" stop-color="#f59e00"/><stop offset="0.739" stop-color="#f5a800"/><stop offset="0.783" stop-color="#f5b200"/><stop offset="0.826" stop-color="#f5ba00"/><stop offset="0.87" stop-color="#f5c100"/><stop offset="0.913" stop-color="#f5c500"/><stop offset="0.957" stop-color="#f5c800"/><stop offset="1" stop-color="#f5ca00"/></linearGradient><linearGradient id="gc36" gradientUnits="userSpaceOnUse" x1="61.6" x2="324.1" y1="0" y2="0"><stop offset="0" stop-color="#dc2c1a"/><stop offset="0.043" stop-color="#dc2c1a"/><stop offset="0.087" stop-color="#dc2c1a"/><stop offset="0.13" stop-color="#dc2c1a"/><stop offset="0.174" stop-color="#dc2c1a"/><stop offset="0.217" stop-color="#dc2c1a"/><stop offset="0.261" stop-color="#dd2f18"/><stop offset="0.304" stop-color="#df3315"/><stop offset="0.348" stop-color="#e13712"/><stop offset="0.391" stop-color="#e43e0f"/><stop offset="0.435" stop-color="#e6470d"/><stop offset="0.478" stop-color="#e9520a"/><stop offset="0.522" stop-color="#ec6305"/><stop offset="0.565" stop-color="#ef7601"/><stop offset="0.609" stop-color="#f18500"/><stop offset="0.652" stop-color="#f39000"/><stop offset="0.696" stop-color="#f49a00"/><stop offset="0.739" stop-color="#f5a400"/><stop offset="0.783" stop-color="#f5ad00"/><stop offset="0.826" stop-color="#f5b600"/><stop offset="0.87" stop-color="#f5bd00"/><stop offset="0.913" stop-color="#f5c100"/><stop offset="0.957" stop-color="#f5c500"/><stop offset="1" stop-color="#f5c800"/></linearGradient><linearGradient id="gc37" gradientUnits="userSpaceOnUse" x1="61.6" x2="324.1" y1="0" y2="0"><stop offset="0" stop-color="#dc2b1b"/><stop offset="0.043" stop-color="#dc2b1b"/><stop offset="0.087" stop-color="#dc2b1b"/><stop offset="0.13" stop-color="#dc2c1a"/><stop offset="0.174" stop-color="#dc2c1a"/><stop offset="0.217" stop-color="#dc2c1a"/><stop offset="0.261" stop-color="#dc2c1a"/><stop offset="0.304" stop-color="#de3017"/><stop offset="0.348" stop-color="#e03514"/><stop offset="0.391" stop-color="#e33a11"/><stop offset="0.435" stop-color="#e5430e"/><stop offset="0.478" stop-color="#e84e0b"/><stop offset="0.522" stop-color="#eb6006"/><stop offset="0.565" stop-color="#ee7302"/><stop offset="0.609" stop-color="#f18100"/><stop offset="0.652" stop-color="#f28c00"/><stop offset="0.696" stop-color="#f49600"/><stop offset="0.739" stop-color="#f5a000"/><stop offset="0.783" stop-color="#f5a900"/><stop offset="0.826" stop-color="#f5b100"/><stop offset="0.87" stop-color="#f5b800"/><stop offset="0.913" stop-color="#f5bd00"/><stop offset="0.957" stop-color="#f5c100"/><stop offset="1" stop-color="#f5c400"/></linearGradient><linearGradient id="gc38" gradientUnits="userSpaceOnUse" x1="61.6" x2="324.1" y1="0" y2="0"><stop offset="0" stop-color="#dc2b1b"/><stop offset="0.043" stop-color="#dc2b1b"/><stop offset="0.087" stop-color="#dc2b1b"/><stop offset="0.13" stop-color="#dc2b1b"/><stop offset="0.174" stop-color="#dc2c1a"/><stop offset="0.217" stop-color="#dc2c1a"/><stop offset="0.261" stop-color="#dc2c1a"/><stop offset="0.304" stop-color="#dd2e19"/><stop offset="0.348" stop-color="#df3216"/><stop offset="0.391" stop-color="#e13712"/><stop offset="0.435" stop-color="#e43f0f"/><stop offset="0.478" stop-color="#e74b0c"/><stop offset="0.522" stop-color="#eb5d07"/><stop offset="0.565" stop-color="#ee6f03"/><stop offset="0.609" stop-color="#f07d00"/><stop offset="0.652" stop-color="#f28800"/><stop offset="0.696" stop-color="#f39200"/><stop offset="0.739" stop-color="#f49b00"/><stop offset="0.783" stop-color="#f5a400"/><stop offset="0.826" stop-color="#f5ad00"/><stop offset="0.87" stop-color="#f5b400"/><stop offset="0.913" stop-color="#f5b900"/><stop offset="0.957" stop-color="#f5bd00"/><stop offset="1" stop-color="#f5c000"/></linearGradient><linearGradient id="gc39" gradientUnits="userSpaceOnUse" x1="61.6" x2="324.1" y1="0" y2="0"><stop offset="0" stop-color="#dc2b1b"/><stop offset="0.043" stop-color="#dc2b1b"/><stop offset="0.087" stop-color="#dc2b1b"/><stop offset="0.13" stop-color="#dc2b1b"/><stop offset="0.174" stop-color="#dc2b1b"/><stop offset="0.217" stop-color="#dc2c1a"/><stop offset="0.261" stop-color="#dc2c1a"/><stop offset="0.304" stop-color="#dc2c1a"/><stop offset="0.348" stop-color="#de2f18"/><stop offset="0.391" stop-color="#e03514"/><stop offset="0.435" stop-color="#e33c10"/><stop offset="0.478" stop-color="#e6480d"/><stop offset="0.522" stop-color="#ea5908"/><stop offset="0.565" stop-color="#ed6b04"/><stop offset="0.609" stop-color="#f07901"/><stop offset="0.652" stop-color="#f18400"/><stop offset="0.696" stop-color="#f38e00"/><stop offset="0.739" stop-color="#f49700"/><stop offset="0.783" stop-color="#f5a000"/><stop offset="0.826" stop-color="#f5a800"/><stop offset="0.87" stop-color="#f5af00"/><stop offset="0.913" stop-color="#f5b500"/><stop offset="0.957" stop-color="#f5b900"/><stop offset="1" stop-color="#f5bd00"/></linearGradient><linearGradient id="gc40" gradientUnits="userSpaceOnUse" x1="61.6" x2="324.1" y1="0" y2="0"><stop offset="0" stop-color="#dc2b1b"/><stop offset="0.043" stop-color="#dc2b1b"/><stop offset="0.087" stop-color="#dc2b1b"/><stop offset="0.13" stop-color="#dc2b1b"/><stop offset="0.174" stop-color="#dc2b1b"/><stop offset="0.217" stop-color="#dc2b1b"/><stop offset="0.261" stop-color="#dc2c1a"/><stop offset="0.304" stop-color="#dc2c1a"/><stop offset="0.348" stop-color="#dc2d1a"/><stop offset="0.391" stop-color="#df3216"/><stop offset="0.435" stop-color="#e23911"/><stop offset="0.478" stop-color="#e5440e"/><stop offset="0.522" stop-color="#e95609"/><stop offset="0.565" stop-color="#ed6705"/><stop offset="0.609" stop-color="#ef7402"/><stop offset="0.652" stop-color="#f07f00"/><stop offset="0.696" stop-color="#f28900"/><stop offset="0.739" stop-color="#f39300"/><stop offset="0.783" stop-color="#f49b00"/><stop offset="0.826" stop-color="#f5a300"/><stop offset="0.87" stop-color="#f5aa00"/><stop offset="0.913" stop-color="#f5b000"/><stop offset="0.957" stop-color="#f5b400"/><stop offset="1" stop-color="#f5b800"/></linearGradient><linearGradient id="gc41" gradientUnits="userSpaceOnUse" x1="61.6" x2="324.1" y1="0" y2="0"><stop offset="0" stop-color="#dc2b1b"/><stop offset="0.043" stop-color="#dc2b1b"/><stop offset="0.087" stop-color="#dc2b1b"/><stop offset="0.13" stop-color="#dc2b1b"/><stop offset="0.174" stop-color="#dc2b1b"/><stop offset="0.217" stop-color="#dc2b1b"/><stop offset="0.261" stop-color="#dc2c1a"/><stop offset="0.304" stop-color="#dc2c1a"/><stop offset="0.348" stop-color="#dc2c1a"/><stop offset="0.391" stop-color="#dd2f18"/><stop offset="0.435" stop-color="#e03514"/><stop offset="0.478" stop-color="#e4400f"/><stop offset="0.522" stop-color="#e8520a"/><stop offset="0.565" stop-color="#ec6306"/><stop offset="0.609" stop-color="#ee7003"/><stop offset="0.652" stop-color="#f07a00"/><stop offset="0.696" stop-color="#f18500"/><stop offset="0.739" stop-color="#f38e00"/><stop offset="0.783" stop-color="#f49700"/><stop offset="0.826" stop-color="#f59e00"/><stop offset="0.87" stop-color="#f5a500"/><stop offset="0.913" stop-color="#f5ab00"/><stop offset="0.957" stop-color="#f5af00"/><stop offset="1" stop-color="#f5b400"/></linearGradient><linearGradient id="gc42" gradientUnits="userSpaceOnUse" x1="61.6" x2="324.1" y1="0" y2="0"><stop offset="0" stop-color="#dc2a1c"/><stop offset="0.043" stop-color="#dc2a1c"/><stop offset="0.087" stop-color="#dc2b1b"/><stop offset="0.13" stop-color="#dc2b1b"/><stop offset="0.174" stop-color="#dc2b1b"/><stop offset="0.217" stop-color="#dc2b1b"/><stop offset="0.261" stop-color="#dc2b1b"/><stop offset="0.304" stop-color="#dc2c1a"/><stop offset="0.348" stop-color="#dc2c1a"/><stop offset="0.391" stop-color="#dc2c1a"/><stop offset="0.435" stop-color="#df3216"/><stop offset="0.478" stop-color="#e33c10"/><stop offset="0.522" stop-color="#e84e0b"/><stop offset="0.565" stop-color="#eb5f06"/><stop offset="0.609" stop-color="#ed6b04"/><stop offset="0.652" stop-color="#ef7502"/><stop offset="0.696" stop-color="#f18000"/><stop offset="0.739" stop-color="#f28900"/><stop offset="0.783" stop-color="#f39200"/><stop offset="0.826" stop-color="#f49900"/><stop offset="0.87" stop-color="#f5a000"/><stop offset="0.913" stop-color="#f5a500"/><stop offset="0.957" stop-color="#f5ab00"/><stop offset="1" stop-color="#f5af00"/></linearGradient><linearGradient id="gc43" gradientUnits="userSpaceOnUse" x1="61.6" x2="324.1" y1="0" y2="0"><stop offset="0" stop-color="#dc2a1c"/><stop offset="0.043" stop-color="#dc2a1c"/><stop offset="0.087" stop-color="#dc2a1c"/><stop offset="0.13" stop-color="#dc2a1c"/><stop offset="0.174" stop-color="#dc2b1b"/><stop offset="0.217" stop-color="#dc2b1b"/><stop offset="0.261" stop-color="#dc2b1b"/><stop offset="0.304" stop-color="#dc2c1a"/><stop offset="0.348" stop-color="#dc2c1a"/><stop offset="0.391" stop-color="#dc2c1a"/><stop offset="0.435" stop-color="#dd2f18"/><stop offset="0.478" stop-color="#e23812"/><stop offset="0.522" stop-color="#e74a0c"/><stop offset="0.565" stop-color="#ea5b07"/><stop offset="0.609" stop-color="#ec6605"/><stop offset="0.652" stop-color="#ee7003"/><stop offset="0.696" stop-color="#f07b00"/><stop offset="0.739" stop-color="#f18500"/><stop offset="0.783" stop-color="#f28d00"/><stop offset="0.826" stop-color="#f39400"/><stop offset="0.87" stop-color="#f49b00"/><stop offset="0.913" stop-color="#f5a000"/><stop offset="0.957" stop-color="#f5a600"/><stop offset="1" stop-color="#f5aa00"/></linearGradient><linearGradient id="gc44" gradientUnits="userSpaceOnUse" x1="61.6" x2="324.1" y1="0" y2="0"><stop offset="0" stop-color="#dc2a1c"/><stop offset="0.043" stop-color="#dc2a1c"/><stop offset="0.087" stop-color="#dc2a1c"/><stop offset="0.13" stop-color="#dc2a1c"/><stop offset="0.174" stop-color="#dc2a1c"/><stop offset="0.217" stop-color="#dc2b1b"/><stop offset="0.261" stop-color="#dc2b1b"/><stop offset="0.304" stop-color="#dc2b1b"/><stop offset="0.348" stop-color="#dc2c1a"/><stop offset="0.391" stop-color="#dc2c1a"/><stop offset="0.435" stop-color="#dc2c1a"/><stop offset="0.478" stop-color="#e03514"/><stop offset="0.522" stop-color="#e6460d"/><stop offset="0.565" stop-color="#ea5708"/><stop offset="0.609" stop-color="#ec6106"/><stop offset="0.652" stop-color="#ed6b04"/><stop offset="0.696" stop-color="#ef7501"/><stop offset="0.739" stop-color="#f18000"/><stop offset="0.783" stop-color="#f28800"/><stop offset="0.826" stop-color="#f39000"/><stop offset="0.87" stop-color="#f49600"/><stop offset="0.913" stop-color="#f49b00"/><stop offset="0.957" stop-color="#f5a000"/><stop offset="1" stop-color="#f5a500"/></linearGradient><linearGradient id="gc45" gradientUnits="userSpaceOnUse" x1="61.6" x2="324.1" y1="0" y2="0"><stop offset="0" stop-color="#d52a1c"/><stop offset="0.043" stop-color="#d72a1c"/><stop offset="0.087" stop-color="#da2a1c"/><stop offset="0.13" stop-color="#dc2a1c"/><stop offset="0.174" stop-color="#dc2a1c"/><stop offset="0.217" stop-color="#dc2b1b"/><stop offset="0.261" stop-color="#dc2b1b"/><stop offset="0.304" stop-color="#dc2b1b"/><stop offset="0.348" stop-color="#dc2b1b"/><stop offset="0.391" stop-color="#dc2c1a"/><stop offset="0.435" stop-color="#dc2c1a"/><stop offset="0.478" stop-color="#df3116"/><stop offset="0.522" stop-color="#e5420e"/><stop offset="0.565" stop-color="#e9520a"/><stop offset="0.609" stop-color="#eb5d07"/><stop offset="0.652" stop-color="#ec6505"/><stop offset="0.696" stop-color="#ee7003"/><stop offset="0.739" stop-color="#f07b00"/><stop offset="0.783" stop-color="#f18300"/><stop offset="0.826" stop-color="#f28b00"/><stop offset="0.87" stop-color="#f39100"/><stop offset="0.913" stop-color="#f49600"/><stop offset="0.957" stop-color="#f49c00"/><stop offset="1" stop-color="#f5a000"/></linearGradient><linearGradient id="gc46" gradientUnits="userSpaceOnUse" x1="61.6" x2="324.1" y1="0" y2="0"><stop offset="0" stop-color="#cf2a1c"/><stop offset="0.043" stop-color="#d12a1c"/><stop offset="0.087" stop-color="#d42a1c"/><stop offset="0.13" stop-color="#d72a1c"/><stop offset="0.174" stop-color="#dc2a1c"/><stop offset="0.217" stop-color="#dc2a1c"/><stop offset="0.261" stop-color="#dc2b1b"/><stop offset="0.304" stop-color="#dc2b1b"/><stop offset="0.348" stop-color="#dc2b1b"/><stop offset="0.391" stop-color="#dc2b1b"/><stop offset="0.435" stop-color="#dc2c1a"/><stop offset="0.478" stop-color="#dd2e19"/><stop offset="0.522" stop-color="#e43d0f"/><stop offset="0.565" stop-color="#e84e0b"/><stop offset="0.609" stop-color="#ea5808"/><stop offset="0.652" stop-color="#eb6006"/><stop offset="0.696" stop-color="#ed6b04"/><stop offset="0.739" stop-color="#ef7501"/><stop offset="0.783" stop-color="#f07e00"/><stop offset="0.826" stop-color="#f18600"/><stop offset="0.87" stop-color="#f28c00"/><stop offset="0.913" stop-color="#f39100"/><stop offset="0.957" stop-color="#f49700"/><stop offset="1" stop-color="#f49b00"/></linearGradient><linearGradient id="gc47" gradientUnits="userSpaceOnUse" x1="61.6" x2="324.1" y1="0" y2="0"><stop offset="0" stop-color="#c5281b"/><stop offset="0.043" stop-color="#c8281b"/><stop offset="0.087" stop-color="#cc291c"/><stop offset="0.13" stop-color="#d22a1c"/><stop offset="0.174" stop-color="#da2a1c"/><stop offset="0.217" stop-color="#dc2a1c"/><stop offset="0.261" stop-color="#dc2b1b"/><stop offset="0.304" stop-color="#dc2b1b"/><stop offset="0.348" stop-color="#dc2b1b"/><stop offset="0.391" stop-color="#dc2b1b"/><stop offset="0.435" stop-color="#dc2c1a"/><stop offset="0.478" stop-color="#dc2c1a"/><stop offset="0.522" stop-color="#e23a11"/><stop offset="0.565" stop-color="#e74a0c"/><stop offset="0.609" stop-color="#e95309"/><stop offset="0.652" stop-color="#eb5b07"/><stop offset="0.696" stop-color="#ec6605"/><stop offset="0.739" stop-color="#ee7003"/><stop offset="0.783" stop-color="#f07901"/><stop offset="0.826" stop-color="#f18100"/><stop offset="0.87" stop-color="#f18700"/><stop offset="0.913" stop-color="#f28c00"/><stop offset="0.957" stop-color="#f39200"/><stop offset="1" stop-color="#f49700"/></linearGradient><linearGradient id="gc48" gradientUnits="userSpaceOnUse" x1="61.6" x2="324.1" y1="0" y2="0"><stop offset="0" stop-color="#bd261a"/><stop offset="0.043" stop-color="#c0271a"/><stop offset="0.087" stop-color="#c5281b"/><stop offset="0.13" stop-color="#cc291b"/><stop offset="0.174" stop-color="#d62a1c"/><stop offset="0.217" stop-color="#dc2a1c"/><stop offset="0.261" stop-color="#dc2b1b"/><stop offset="0.304" stop-color="#dc2b1b"/><stop offset="0.348" stop-color="#dc2b1b"/><stop offset="0.391" stop-color="#dc2b1b"/><stop offset="0.435" stop-color="#dc2c1a"/><stop offset="0.478" stop-color="#dc2c1a"/><stop offset="0.522" stop-color="#e13713"/><stop offset="0.565" stop-color="#e6460d"/><stop offset="0.609" stop-color="#e84f0a"/><stop offset="0.652" stop-color="#ea5708"/><stop offset="0.696" stop-color="#ec6206"/><stop offset="0.739" stop-color="#ed6c04"/><stop offset="0.783" stop-color="#ef7502"/><stop offset="0.826" stop-color="#f07c00"/><stop offset="0.87" stop-color="#f18200"/><stop offset="0.913" stop-color="#f28800"/><stop offset="0.957" stop-color="#f28d00"/><stop offset="1" stop-color="#f39200"/></linearGradient><linearGradient id="gc49" gradientUnits="userSpaceOnUse" x1="61.6" x2="324.1" y1="0" y2="0"><stop offset="0" stop-color="#b62519"/><stop offset="0.043" stop-color="#b92619"/><stop offset="0.087" stop-color="#be271a"/><stop offset="0.13" stop-color="#c5281b"/><stop offset="0.174" stop-color="#d22a1c"/><stop offset="0.217" stop-color="#dc2a1c"/><stop offset="0.261" stop-color="#dc2a1c"/><stop offset="0.304" stop-color="#dc2b1b"/><stop offset="0.348" stop-color="#dc2b1b"/><stop offset="0.391" stop-color="#dc2b1b"/><stop offset="0.435" stop-color="#dc2b1b"/><stop offset="0.478" stop-color="#dc2c1a"/><stop offset="0.522" stop-color="#e03415"/><stop offset="0.565" stop-color="#e5420e"/><stop offset="0.609" stop-color="#e74b0c"/><stop offset="0.652" stop-color="#e95309"/><stop offset="0.696" stop-color="#eb5e07"/><stop offset="0.739" stop-color="#ed6705"/><stop offset="0.783" stop-color="#ee7003"/><stop offset="0.826" stop-color="#ef7801"/><stop offset="0.87" stop-color="#f07e00"/><stop offset="0.913" stop-color="#f18400"/><stop offset="0.957" stop-color="#f28900"/><stop offset="1" stop-color="#f38e00"/></linearGradient><linearGradient id="gc50" gradientUnits="userSpaceOnUse" x1="61.6" x2="324.1" y1="0" y2="0"><stop offset="0" stop-color="#af2418"/><stop offset="0.043" stop-color="#b22418"/><stop offset="0.087" stop-color="#b72519"/><stop offset="0.13" stop-color="#bf271a"/><stop offset="0.174" stop-color="#cc291c"/><stop offset="0.217" stop-color="#d92a1c"/><stop offset="0.261" stop-color="#dc2a1c"/><stop offset="0.304" stop-color="#dc2b1b"/><stop offset="0.348" stop-color="#dc2b1b"/><stop offset="0.391" stop-color="#dc2b1b"/><stop offset="0.435" stop-color="#dc2b1b"/><stop offset="0.478" stop-color="#dc2c1a"/><stop offset="0.522" stop-color="#de3117"/><stop offset="0.565" stop-color="#e43e0f"/><stop offset="0.609" stop-color="#e6470d"/><stop offset="0.652" stop-color="#e8500a"/><stop offset="0.696" stop-color="#ea5a08"/><stop offset="0.739" stop-color="#ec6306"/><stop offset="0.783" stop-color="#ed6c04"/><stop offset="0.826" stop-color="#ee7302"/><stop offset="0.87" stop-color="#f07901"/><stop offset="0.913" stop-color="#f07f00"/><stop offset="0.957" stop-color="#f18500"/><stop offset="1" stop-color="#f28a00"/></linearGradient><linearGradient id="gc51" gradientUnits="userSpaceOnUse" x1="61.6" x2="324.1" y1="0" y2="0"><stop offset="0" stop-color="#a72318"/><stop offset="0.043" stop-color="#aa2318"/><stop offset="0.087" stop-color="#b02418"/><stop offset="0.13" stop-color="#b92619"/><stop offset="0.174" stop-color="#c6281b"/><stop offset="0.217" stop-color="#d52a1c"/><stop offset="0.261" stop-color="#dc2a1c"/><stop offset="0.304" stop-color="#dc2a1c"/><stop offset="0.348" stop-color="#dc2b1b"/><stop offset="0.391" stop-color="#dc2b1b"/><stop offset="0.435" stop-color="#dc2b1b"/><stop offset="0.478" stop-color="#dc2c1a"/><stop offset="0.522" stop-color="#dd2e19"/><stop offset="0.565" stop-color="#e33a11"/><stop offset="0.609" stop-color="#e5430e"/><stop offset="0.652" stop-color="#e74c0b"/><stop offset="0.696" stop-color="#e95609"/><stop offset="0.739" stop-color="#eb5f06"/><stop offset="0.783" stop-color="#ed6705"/><stop offset="0.826" stop-color="#ee6e03"/><stop offset="0.87" stop-color="#ef7502"/><stop offset="0.913" stop-color="#f07b00"/><stop offset="0.957" stop-color="#f18000"/><stop offset="1" stop-color="#f18500"/></linearGradient><linearGradient id="gc52" gradientUnits="userSpaceOnUse" x1="61.6" x2="324.1" y1="0" y2="0"><stop offset="0" stop-color="#a02117"/><stop offset="0.043" stop-color="#a32217"/><stop offset="0.087" stop-color="#aa2318"/><stop offset="0.13" stop-color="#b42518"/><stop offset="0.174" stop-color="#c1271a"/><stop offset="0.217" stop-color="#d22a1c"/><stop offset="0.261" stop-color="#dc2a1c"/><stop offset="0.304" stop-color="#dc2a1c"/><stop offset="0.348" stop-color="#dc2b1b"/><stop offset="0.391" stop-color="#dc2b1b"/><stop offset="0.435" stop-color="#dc2b1b"/><stop offset="0.478" stop-color="#dc2b1b"/><stop offset="0.522" stop-color="#dc2c1a"/><stop offset="0.565" stop-color="#e13713"/><stop offset="0.609" stop-color="#e4400f"/><stop offset="0.652" stop-color="#e6490c"/><stop offset="0.696" stop-color="#e9520a"/><stop offset="0.739" stop-color="#eb5b07"/><stop offset="0.783" stop-color="#ec6306"/><stop offset="0.826" stop-color="#ed6a04"/><stop offset="0.87" stop-color="#ee7003"/><stop offset="0.913" stop-color="#ef7601"/><stop offset="0.957" stop-color="#f07c00"/><stop offset="1" stop-color="#f18100"/></linearGradient><linearGradient id="gc53" gradientUnits="userSpaceOnUse" x1="61.6" x2="324.1" y1="0" y2="0"><stop offset="0" stop-color="#982017"/><stop offset="0.043" stop-color="#9c2117"/><stop offset="0.087" stop-color="#a32217"/><stop offset="0.13" stop-color="#ae2418"/><stop offset="0.174" stop-color="#bb2619"/><stop offset="0.217" stop-color="#cd291c"/><stop offset="0.261" stop-color="#d92a1c"/><stop offset="0.304" stop-color="#dc2a1c"/><stop offset="0.348" stop-color="#dc2a1c"/><stop offset="0.391" stop-color="#dc2b1b"/><stop offset="0.435" stop-color="#dc2b1b"/><stop offset="0.478" stop-color="#dc2b1b"/><stop offset="0.522" stop-color="#dc2c1a"/><stop offset="0.565" stop-color="#e03415"/><stop offset="0.609" stop-color="#e33c10"/><stop offset="0.652" stop-color="#e5450d"/><stop offset="0.696" stop-color="#e84f0b"/><stop offset="0.739" stop-color="#ea5708"/><stop offset="0.783" stop-color="#eb5f06"/><stop offset="0.826" stop-color="#ec6605"/><stop offset="0.87" stop-color="#ed6c04"/><stop offset="0.913" stop-color="#ee7102"/><stop offset="0.957" stop-color="#ef7701"/><stop offset="1" stop-color="#f07d00"/></linearGradient><linearGradient id="gc54" gradientUnits="userSpaceOnUse" x1="61.6" x2="324.1" y1="0" y2="0"><stop offset="0" stop-color="#921f16"/><stop offset="0.043" stop-color="#962017"/><stop offset="0.087" stop-color="#9d2117"/><stop offset="0.13" stop-color="#a82318"/><stop offset="0.174" stop-color="#b62519"/><stop offset="0.217" stop-color="#c7281b"/><stop offset="0.261" stop-color="#d52a1c"/><stop offset="0.304" stop-color="#dc2a1c"/><stop offset="0.348" stop-color="#dc2a1c"/><stop offset="0.391" stop-color="#dc2b1b"/><stop offset="0.435" stop-color="#dc2b1b"/><stop offset="0.478" stop-color="#dc2b1b"/><stop offset="0.522" stop-color="#dc2c1a"/><stop offset="0.565" stop-color="#de3117"/><stop offset="0.609" stop-color="#e23911"/><stop offset="0.652" stop-color="#e5420e"/><stop offset="0.696" stop-color="#e74b0c"/><stop offset="0.739" stop-color="#e95409"/><stop offset="0.783" stop-color="#ea5b07"/><stop offset="0.826" stop-color="#ec6106"/><stop offset="0.87" stop-color="#ed6705"/><stop offset="0.913" stop-color="#ed6d03"/><stop offset="0.957" stop-color="#ee7202"/><stop offset="1" stop-color="#ef7801"/></linearGradient><linearGradient id="gc55" gradientUnits="userSpaceOnUse" x1="61.6" x2="324.1" y1="0" y2="0"><stop offset="0" stop-color="#8b1e16"/><stop offset="0.043" stop-color="#8f1f16"/><stop offset="0.087" stop-color="#972017"/><stop offset="0.13" stop-color="#a22217"/><stop offset="0.174" stop-color="#b12418"/><stop offset="0.217" stop-color="#c1271a"/><stop offset="0.261" stop-color="#d12a1c"/><stop offset="0.304" stop-color="#dc2a1c"/><stop offset="0.348" stop-color="#dc2a1c"/><stop offset="0.391" stop-color="#dc2b1b"/><stop offset="0.435" stop-color="#dc2b1b"/><stop offset="0.478" stop-color="#dc2b1b"/><stop offset="0.522" stop-color="#dc2c1a"/><stop offset="0.565" stop-color="#dd2e18"/><stop offset="0.609" stop-color="#e13713"/><stop offset="0.652" stop-color="#e43e0f"/><stop offset="0.696" stop-color="#e6480d"/><stop offset="0.739" stop-color="#e8500a"/><stop offset="0.783" stop-color="#ea5708"/><stop offset="0.826" stop-color="#eb5d07"/><stop offset="0.87" stop-color="#ec6306"/><stop offset="0.913" stop-color="#ed6804"/><stop offset="0.957" stop-color="#ee6e03"/><stop offset="1" stop-color="#ef7402"/></linearGradient><linearGradient id="gc56" gradientUnits="userSpaceOnUse" x1="61.6" x2="324.1" y1="0" y2="0"><stop offset="0" stop-color="#851e16"/><stop offset="0.043" stop-color="#8a1e16"/><stop offset="0.087" stop-color="#911f16"/><stop offset="0.13" stop-color="#9d2117"/><stop offset="0.174" stop-color="#ab2318"/><stop offset="0.217" stop-color="#bc2619"/><stop offset="0.261" stop-color="#cd291c"/><stop offset="0.304" stop-color="#d82a1c"/><stop offset="0.348" stop-color="#dc2a1c"/><stop offset="0.391" stop-color="#dc2a1c"/><stop offset="0.435" stop-color="#dc2b1b"/><stop offset="0.478" stop-color="#dc2b1b"/><stop offset="0.522" stop-color="#dc2c1a"/><stop offset="0.565" stop-color="#dc2c1a"/><stop offset="0.609" stop-color="#e03414"/><stop offset="0.652" stop-color="#e33c10"/><stop offset="0.696" stop-color="#e5450d"/><stop offset="0.739" stop-color="#e74d0b"/><stop offset="0.783" stop-color="#e95409"/><stop offset="0.826" stop-color="#ea5a08"/><stop offset="0.87" stop-color="#eb5f06"/><stop offset="0.913" stop-color="#ec6405"/><stop offset="0.957" stop-color="#ed6a04"/><stop offset="1" stop-color="#ee7003"/></linearGradient><linearGradient id="gc57" gradientUnits="userSpaceOnUse" x1="61.6" x2="324.1" y1="0" y2="0"><stop offset="0" stop-color="#7e1d16"/><stop offset="0.043" stop-color="#831e16"/><stop offset="0.087" stop-color="#8c1e16"/><stop offset="0.13" stop-color="#972017"/><stop offset="0.174" stop-color="#a62217"/><stop offset="0.217" stop-color="#b62519"/><stop offset="0.261" stop-color="#c7281b"/><stop offset="0.304" stop-color="#d52a1c"/><stop offset="0.348" stop-color="#dc2a1c"/><stop offset="0.391" stop-color="#dc2a1c"/><stop offset="0.435" stop-color="#dc2b1b"/><stop offset="0.478" stop-color="#dc2b1b"/><stop offset="0.522" stop-color="#dc2b1b"/><stop offset="0.565" stop-color="#dc2c1a"/><stop offset="0.609" stop-color="#df3216"/><stop offset="0.652" stop-color="#e23911"/><stop offset="0.696" stop-color="#e5420e"/><stop offset="0.739" stop-color="#e74a0c"/><stop offset="0.783" stop-color="#e8500a"/><stop offset="0.826" stop-color="#ea5609"/><stop offset="0.87" stop-color="#eb5b07"/><stop offset="0.913" stop-color="#eb6006"/><stop offset="0.957" stop-color="#ec6605"/><stop offset="1" stop-color="#ed6c04"/></linearGradient><linearGradient id="gc58" gradientUnits="userSpaceOnUse" x1="61.6" x2="324.1" y1="0" y2="0"><stop offset="0" stop-color="#771d16"/><stop offset="0.043" stop-color="#7c1d16"/><stop offset="0.087" stop-color="#861e16"/><stop offset="0.13" stop-color="#921f16"/><stop offset="0.174" stop-color="#a02117"/><stop offset="0.217" stop-color="#b12418"/><stop offset="0.261" stop-color="#c1271a"/><stop offset="0.304" stop-color="#d12a1c"/><stop offset="0.348" stop-color="#da2a1c"/><stop offset="0.391" stop-color="#dc2a1c"/><stop offset="0.435" stop-color="#dc2b1b"/><stop offset="0.478" stop-color="#dc2b1b"/><stop offset="0.522" stop-color="#dc2b1b"/><stop offset="0.565" stop-color="#dc2c1a"/><stop offset="0.609" stop-color="#de3018"/><stop offset="0.652" stop-color="#e13713"/><stop offset="0.696" stop-color="#e43f0f"/><stop offset="0.739" stop-color="#e6460d"/><stop offset="0.783" stop-color="#e74d0b"/><stop offset="0.826" stop-color="#e9520a"/><stop offset="0.87" stop-color="#ea5808"/><stop offset="0.913" stop-color="#eb5d07"/><stop offset="0.957" stop-color="#ec6206"/><stop offset="1" stop-color="#ed6805"/></linearGradient><linearGradient id="gc59" gradientUnits="userSpaceOnUse" x1="61.6" x2="324.1" y1="0" y2="0"><stop offset="0" stop-color="#711d16"/><stop offset="0.043" stop-color="#761d16"/><stop offset="0.087" stop-color="#7f1e16"/><stop offset="0.13" stop-color="#8d1e16"/><stop offset="0.174" stop-color="#9a2117"/><stop offset="0.217" stop-color="#ab2318"/><stop offset="0.261" stop-color="#bc2619"/><stop offset="0.304" stop-color="#cd291c"/><stop offset="0.348" stop-color="#d82a1c"/><stop offset="0.391" stop-color="#dc2a1c"/><stop offset="0.435" stop-color="#dc2b1b"/><stop offset="0.478" stop-color="#dc2b1b"/><stop offset="0.522" stop-color="#dc2b1b"/><stop offset="0.565" stop-color="#dc2c1a"/><stop offset="0.609" stop-color="#dd2e19"/><stop offset="0.652" stop-color="#e03514"/><stop offset="0.696" stop-color="#e33c10"/><stop offset="0.739" stop-color="#e5440e"/><stop offset="0.783" stop-color="#e74a0c"/><stop offset="0.826" stop-color="#e84f0a"/><stop offset="0.87" stop-color="#e95409"/><stop offset="0.913" stop-color="#ea5908"/><stop offset="0.957" stop-color="#eb5f07"/><stop offset="1" stop-color="#ec6405"/></linearGradient><linearGradient id="gc60" gradientUnits="userSpaceOnUse" x1="61.6" x2="324.1" y1="0" y2="0"><stop offset="0" stop-color="#6b1d16"/><stop offset="0.043" stop-color="#701d16"/><stop offset="0.087" stop-color="#791d16"/><stop offset="0.13" stop-color="#871e16"/><stop offset="0.174" stop-color="#952017"/><stop offset="0.217" stop-color="#a52217"/><stop offset="0.261" stop-color="#b72519"/><stop offset="0.304" stop-color="#c8281b"/><stop offset="0.348" stop-color="#d52a1c"/><stop offset="0.391" stop-color="#dc2a1c"/><stop offset="0.435" stop-color="#dc2a1c"/><stop offset="0.478" stop-color="#dc2b1b"/><stop offset="0.522" stop-color="#dc2b1b"/><stop offset="0.565" stop-color="#dc2c1a"/><stop offset="0.609" stop-color="#dc2c1a"/><stop offset="0.652" stop-color="#df3315"/><stop offset="0.696" stop-color="#e33a11"/><stop offset="0.739" stop-color="#e4410e"/><stop offset="0.783" stop-color="#e6470d"/><stop offset="0.826" stop-color="#e74c0b"/><stop offset="0.87" stop-color="#e8510a"/><stop offset="0.913" stop-color="#ea5708"/><stop offset="0.957" stop-color="#eb5c07"/><stop offset="1" stop-color="#ec6106"/></linearGradient><linearGradient id="gc61" gradientUnits="userSpaceOnUse" x1="61.6" x2="324.1" y1="0" y2="0"><stop offset="0" stop-color="#661c16"/><stop offset="0.043" stop-color="#6a1d16"/><stop offset="0.087" stop-color="#731d16"/><stop offset="0.13" stop-color="#801e16"/><stop offset="0.174" stop-color="#8f1f16"/><stop offset="0.217" stop-color="#9f2117"/><stop offset="0.261" stop-color="#b22418"/><stop offset="0.304" stop-color="#c3281a"/><stop offset="0.348" stop-color="#d22a1c"/><stop offset="0.391" stop-color="#dc2a1c"/><stop offset="0.435" stop-color="#dc2a1c"/><stop offset="0.478" stop-color="#dc2b1b"/><stop offset="0.522" stop-color="#dc2b1b"/><stop offset="0.565" stop-color="#dc2c1a"/><stop offset="0.609" stop-color="#dc2c1a"/><stop offset="0.652" stop-color="#de3117"/><stop offset="0.696" stop-color="#e23812"/><stop offset="0.739" stop-color="#e43f0f"/><stop offset="0.783" stop-color="#e5440d"/><stop offset="0.826" stop-color="#e74a0c"/><stop offset="0.87" stop-color="#e84f0b"/><stop offset="0.913" stop-color="#e95409"/><stop offset="0.957" stop-color="#ea5908"/><stop offset="1" stop-color="#eb5f07"/></linearGradient><linearGradient id="gc62" gradientUnits="userSpaceOnUse" x1="61.6" x2="324.1" y1="0" y2="0"><stop offset="0" stop-color="#601c16"/><stop offset="0.043" stop-color="#651c16"/><stop offset="0.087" stop-color="#6d1d16"/><stop offset="0.13" stop-color="#791d16"/><stop offset="0.174" stop-color="#891e16"/><stop offset="0.217" stop-color="#992017"/><stop offset="0.261" stop-color="#ac2318"/><stop offset="0.304" stop-color="#be271a"/><stop offset="0.348" stop-color="#cf2a1c"/><stop offset="0.391" stop-color="#da2a1c"/><stop offset="0.435" stop-color="#dc2a1c"/><stop offset="0.478" stop-color="#dc2b1b"/><stop offset="0.522" stop-color="#dc2b1b"/><stop offset="0.565" stop-color="#dc2c1a"/><stop offset="0.609" stop-color="#dc2c1a"/><stop offset="0.652" stop-color="#de2f18"/><stop offset="0.696" stop-color="#e13613"/><stop offset="0.739" stop-color="#e33c10"/><stop offset="0.783" stop-color="#e5420e"/><stop offset="0.826" stop-color="#e6470d"/><stop offset="0.87" stop-color="#e74c0b"/><stop offset="0.913" stop-color="#e8510a"/><stop offset="0.957" stop-color="#ea5608"/><stop offset="1" stop-color="#eb5c07"/></linearGradient><linearGradient id="gc63" gradientUnits="userSpaceOnUse" x1="61.6" x2="324.1" y1="0" y2="0"><stop offset="0" stop-color="#5b1c16"/><stop offset="0.043" stop-color="#5f1c16"/><stop offset="0.087" stop-color="#671d16"/><stop offset="0.13" stop-color="#721d16"/><stop offset="0.174" stop-color="#821e16"/><stop offset="0.217" stop-color="#931f16"/><stop offset="0.261" stop-color="#a62217"/><stop offset="0.304" stop-color="#b92619"/><stop offset="0.348" stop-color="#ca291b"/><stop offset="0.391" stop-color="#d82a1c"/><stop offset="0.435" stop-color="#dc2a1c"/><stop offset="0.478" stop-color="#dc2b1b"/><stop offset="0.522" stop-color="#dc2b1b"/><stop offset="0.565" stop-color="#dc2b1b"/><stop offset="0.609" stop-color="#dc2c1a"/><stop offset="0.652" stop-color="#dd2e19"/><stop offset="0.696" stop-color="#e03414"/><stop offset="0.739" stop-color="#e33a11"/><stop offset="0.783" stop-color="#e4400f"/><stop offset="0.826" stop-color="#e5450d"/><stop offset="0.87" stop-color="#e74a0c"/><stop offset="0.913" stop-color="#e84f0b"/><stop offset="0.957" stop-color="#e95409"/><stop offset="1" stop-color="#ea5a08"/></linearGradient><linearGradient id="gc64" gradientUnits="userSpaceOnUse" x1="61.6" x2="324.1" y1="0" y2="0"><stop offset="0" stop-color="#551b16"/><stop offset="0.043" stop-color="#5a1c16"/><stop offset="0.087" stop-color="#611c16"/><stop offset="0.13" stop-color="#6c1d16"/><stop offset="0.174" stop-color="#7a1d16"/><stop offset="0.217" stop-color="#8d1e16"/><stop offset="0.261" stop-color="#a02117"/><stop offset="0.304" stop-color="#b42519"/><stop offset="0.348" stop-color="#c6281b"/><stop offset="0.391" stop-color="#d62a1c"/><stop offset="0.435" stop-color="#dc2a1c"/><stop offset="0.478" stop-color="#dc2b1b"/><stop offset="0.522" stop-color="#dc2b1b"/><stop offset="0.565" stop-color="#dc2b1b"/><stop offset="0.609" stop-color="#dc2c1a"/><stop offset="0.652" stop-color="#dc2c1a"/><stop offset="0.696" stop-color="#df3315"/><stop offset="0.739" stop-color="#e23812"/><stop offset="0.783" stop-color="#e43e0f"/><stop offset="0.826" stop-color="#e5430e"/><stop offset="0.87" stop-color="#e6480d"/><stop offset="0.913" stop-color="#e74d0b"/><stop offset="0.957" stop-color="#e9520a"/><stop offset="1" stop-color="#ea5808"/></linearGradient><linearGradient id="gc65" gradientUnits="userSpaceOnUse" x1="61.6" x2="324.1" y1="0" y2="0"><stop offset="0" stop-color="#501b16"/><stop offset="0.043" stop-color="#541b16"/><stop offset="0.087" stop-color="#5b1c16"/><stop offset="0.13" stop-color="#651c16"/><stop offset="0.174" stop-color="#731d16"/><stop offset="0.217" stop-color="#861e16"/><stop offset="0.261" stop-color="#9a2117"/><stop offset="0.304" stop-color="#af2418"/><stop offset="0.348" stop-color="#c2271a"/><stop offset="0.391" stop-color="#d42a1c"/><stop offset="0.435" stop-color="#dc2a1c"/><stop offset="0.478" stop-color="#dc2b1b"/><stop offset="0.522" stop-color="#dc2b1b"/><stop offset="0.565" stop-color="#dc2b1b"/><stop offset="0.609" stop-color="#dc2c1a"/><stop offset="0.652" stop-color="#dc2c1a"/><stop offset="0.696" stop-color="#de3117"/><stop offset="0.739" stop-color="#e13713"/><stop offset="0.783" stop-color="#e33c10"/><stop offset="0.826" stop-color="#e4410e"/><stop offset="0.87" stop-color="#e6460d"/><stop offset="0.913" stop-color="#e74b0c"/><stop offset="0.957" stop-color="#e8500a"/><stop offset="1" stop-color="#ea5609"/></linearGradient><linearGradient id="gc66" gradientUnits="userSpaceOnUse" x1="61.6" x2="324.1" y1="0" y2="0"><stop offset="0" stop-color="#4a1a16"/><stop offset="0.043" stop-color="#4d1a16"/><stop offset="0.087" stop-color="#541b16"/><stop offset="0.13" stop-color="#5e1c16"/><stop offset="0.174" stop-color="#6b1d16"/><stop offset="0.217" stop-color="#7e1e16"/><stop offset="0.261" stop-color="#942017"/><stop offset="0.304" stop-color="#aa2318"/><stop offset="0.348" stop-color="#be271a"/><stop offset="0.391" stop-color="#d12a1c"/><stop offset="0.435" stop-color="#dc2a1c"/><stop offset="0.478" stop-color="#dc2a1c"/><stop offset="0.522" stop-color="#dc2b1b"/><stop offset="0.565" stop-color="#dc2b1b"/><stop offset="0.609" stop-color="#dc2c1a"/><stop offset="0.652" stop-color="#dc2c1a"/><stop offset="0.696" stop-color="#de2f18"/><stop offset="0.739" stop-color="#e03514"/><stop offset="0.783" stop-color="#e23a11"/><stop offset="0.826" stop-color="#e43f0f"/><stop offset="0.87" stop-color="#e5440e"/><stop offset="0.913" stop-color="#e6490c"/><stop offset="0.957" stop-color="#e84e0b"/><stop offset="1" stop-color="#e95409"/></linearGradient><linearGradient id="gc67" gradientUnits="userSpaceOnUse" x1="61.6" x2="324.1" y1="0" y2="0"><stop offset="0" stop-color="#451916"/><stop offset="0.043" stop-color="#481a16"/><stop offset="0.087" stop-color="#4d1a16"/><stop offset="0.13" stop-color="#571c16"/><stop offset="0.174" stop-color="#641c16"/><stop offset="0.217" stop-color="#771d16"/><stop offset="0.261" stop-color="#8e1f16"/><stop offset="0.304" stop-color="#a52217"/><stop offset="0.348" stop-color="#ba2619"/><stop offset="0.391" stop-color="#cf2a1c"/><stop offset="0.435" stop-color="#dc2a1c"/><stop offset="0.478" stop-color="#dc2a1c"/><stop offset="0.522" stop-color="#dc2b1b"/><stop offset="0.565" stop-color="#dc2b1b"/><stop offset="0.609" stop-color="#dc2c1a"/><stop offset="0.652" stop-color="#dc2c1a"/><stop offset="0.696" stop-color="#dd2e19"/><stop offset="0.739" stop-color="#e03415"/><stop offset="0.783" stop-color="#e23812"/><stop offset="0.826" stop-color="#e43d0f"/><stop offset="0.87" stop-color="#e5420e"/><stop offset="0.913" stop-color="#e6480d"/><stop offset="0.957" stop-color="#e74d0b"/><stop offset="1" stop-color="#e95309"/></linearGradient><linearGradient id="gc68" gradientUnits="userSpaceOnUse" x1="61.6" x2="324.1" y1="0" y2="0"><stop offset="0" stop-color="#401916"/><stop offset="0.043" stop-color="#421916"/><stop offset="0.087" stop-color="#461a16"/><stop offset="0.13" stop-color="#4f1b16"/><stop offset="0.174" stop-color="#5d1c16"/><stop offset="0.217" stop-color="#6f1d16"/><stop offset="0.261" stop-color="#891e16"/><stop offset="0.304" stop-color="#a02117"/><stop offset="0.348" stop-color="#b62519"/><stop offset="0.391" stop-color="#cc291b"/><stop offset="0.435" stop-color="#db2a1c"/><stop offset="0.478" stop-color="#dc2a1c"/><stop offset="0.522" stop-color="#dc2b1b"/><stop offset="0.565" stop-color="#dc2b1b"/><stop offset="0.609" stop-color="#dc2c1a"/><stop offset="0.652" stop-color="#dc2c1a"/><stop offset="0.696" stop-color="#dc2d1a"/><stop offset="0.739" stop-color="#df3216"/><stop offset="0.783" stop-color="#e13713"/><stop offset="0.826" stop-color="#e33c10"/><stop offset="0.87" stop-color="#e4410e"/><stop offset="0.913" stop-color="#e6460d"/><stop offset="0.957" stop-color="#e74c0b"/><stop offset="1" stop-color="#e8520a"/></linearGradient><linearGradient id="gc69" gradientUnits="userSpaceOnUse" x1="61.6" x2="324.1" y1="0" y2="0"><stop offset="0" stop-color="#3c1816"/><stop offset="0.043" stop-color="#3d1816"/><stop offset="0.087" stop-color="#401916"/><stop offset="0.13" stop-color="#471a16"/><stop offset="0.174" stop-color="#551b16"/><stop offset="0.217" stop-color="#681d16"/><stop offset="0.261" stop-color="#811e16"/><stop offset="0.304" stop-color="#9a2117"/><stop offset="0.348" stop-color="#b32418"/><stop offset="0.391" stop-color="#c9291b"/><stop offset="0.435" stop-color="#d92a1c"/><stop offset="0.478" stop-color="#dc2a1c"/><stop offset="0.522" stop-color="#dc2b1b"/><stop offset="0.565" stop-color="#dc2b1b"/><stop offset="0.609" stop-color="#dc2b1b"/><stop offset="0.652" stop-color="#dc2c1a"/><stop offset="0.696" stop-color="#dc2c1a"/><stop offset="0.739" stop-color="#de3117"/><stop offset="0.783" stop-color="#e13613"/><stop offset="0.826" stop-color="#e33b10"/><stop offset="0.87" stop-color="#e4400f"/><stop offset="0.913" stop-color="#e5450d"/><stop offset="0.957" stop-color="#e74a0c"/><stop offset="1" stop-color="#e8500a"/></linearGradient><linearGradient id="gc70" gradientUnits="userSpaceOnUse" x1="61.6" x2="324.1" y1="0" y2="0"><stop offset="0" stop-color="#371816"/><stop offset="0.043" stop-color="#381816"/><stop offset="0.087" stop-color="#3a1816"/><stop offset="0.13" stop-color="#3f1916"/><stop offset="0.174" stop-color="#4c1a16"/><stop offset="0.217" stop-color="#611c16"/><stop offset="0.261" stop-color="#7b1d16"/><stop offset="0.304" stop-color="#952017"/><stop offset="0.348" stop-color="#af2418"/><stop offset="0.391" stop-color="#c6281b"/><stop offset="0.435" stop-color="#d82a1c"/><stop offset="0.478" stop-color="#dc2a1c"/><stop offset="0.522" stop-color="#dc2b1b"/><stop offset="0.565" stop-color="#dc2b1b"/><stop offset="0.609" stop-color="#dc2b1b"/><stop offset="0.652" stop-color="#dc2c1a"/><stop offset="0.696" stop-color="#dc2c1a"/><stop offset="0.739" stop-color="#de3018"/><stop offset="0.783" stop-color="#e03514"/><stop offset="0.826" stop-color="#e23a11"/><stop offset="0.87" stop-color="#e43f0f"/><stop offset="0.913" stop-color="#e5440e"/><stop offset="0.957" stop-color="#e6490c"/><stop offset="1" stop-color="#e84f0a"/></linearGradient><linearGradient id="gc71" gradientUnits="userSpaceOnUse" x1="61.6" x2="324.1" y1="0" y2="0"><stop offset="0" stop-color="#341716"/><stop offset="0.043" stop-color="#341716"/><stop offset="0.087" stop-color="#351716"/><stop offset="0.13" stop-color="#391816"/><stop offset="0.174" stop-color="#451916"/><stop offset="0.217" stop-color="#5b1c16"/><stop offset="0.261" stop-color="#741d16"/><stop offset="0.304" stop-color="#911f16"/><stop offset="0.348" stop-color="#ab2318"/><stop offset="0.391" stop-color="#c3281a"/><stop offset="0.435" stop-color="#d62a1c"/><stop offset="0.478" stop-color="#dc2a1c"/><stop offset="0.522" stop-color="#dc2b1b"/><stop offset="0.565" stop-color="#dc2b1b"/><stop offset="0.609" stop-color="#dc2b1b"/><stop offset="0.652" stop-color="#dc2c1a"/><stop offset="0.696" stop-color="#dc2c1a"/><stop offset="0.739" stop-color="#dd2f18"/><stop offset="0.783" stop-color="#e03415"/><stop offset="0.826" stop-color="#e23911"/><stop offset="0.87" stop-color="#e43e0f"/><stop offset="0.913" stop-color="#e5430e"/><stop offset="0.957" stop-color="#e6490c"/><stop offset="1" stop-color="#e84f0b"/></linearGradient><linearGradient id="gc72" gradientUnits="userSpaceOnUse" x1="61.6" x2="324.1" y1="0" y2="0"><stop offset="0" stop-color="#311716"/><stop offset="0.043" stop-color="#301716"/><stop offset="0.087" stop-color="#301716"/><stop offset="0.13" stop-color="#331716"/><stop offset="0.174" stop-color="#3e1816"/><stop offset="0.217" stop-color="#531b16"/><stop offset="0.261" stop-color="#6e1d16"/><stop offset="0.304" stop-color="#8c1e16"/><stop offset="0.348" stop-color="#a72318"/><stop offset="0.391" stop-color="#c0271a"/><stop offset="0.435" stop-color="#d52a1c"/><stop offset="0.478" stop-color="#dc2a1c"/><stop offset="0.522" stop-color="#dc2b1b"/><stop offset="0.565" stop-color="#dc2b1b"/><stop offset="0.609" stop-color="#dc2b1b"/><stop offset="0.652" stop-color="#dc2c1a"/><stop offset="0.696" stop-color="#dc2c1a"/><stop offset="0.739" stop-color="#dd2e19"/><stop offset="0.783" stop-color="#df3315"/><stop offset="0.826" stop-color="#e23812"/><stop offset="0.87" stop-color="#e43d0f"/><stop offset="0.913" stop-color="#e5430e"/><stop offset="0.957" stop-color="#e6480c"/><stop offset="1" stop-color="#e84e0b"/></linearGradient><linearGradient id="gc73" gradientUnits="userSpaceOnUse" x1="61.6" x2="324.1" y1="0" y2="0"><stop offset="0" stop-color="#2e1616"/><stop offset="0.043" stop-color="#2c1616"/><stop offset="0.087" stop-color="#2c1616"/><stop offset="0.13" stop-color="#2e1616"/><stop offset="0.174" stop-color="#381816"/><stop offset="0.217" stop-color="#4c1a16"/><stop offset="0.261" stop-color="#681d16"/><stop offset="0.304" stop-color="#871e16"/><stop offset="0.348" stop-color="#a32217"/><stop offset="0.391" stop-color="#bd261a"/><stop offset="0.435" stop-color="#d32a1c"/><stop offset="0.478" stop-color="#dc2a1c"/><stop offset="0.522" stop-color="#dc2b1b"/><stop offset="0.565" stop-color="#dc2b1b"/><stop offset="0.609" stop-color="#dc2b1b"/><stop offset="0.652" stop-color="#dc2c1a"/><stop offset="0.696" stop-color="#dc2c1a"/><stop offset="0.739" stop-color="#dc2c1a"/><stop offset="0.783" stop-color="#df3216"/><stop offset="0.826" stop-color="#e13712"/><stop offset="0.87" stop-color="#e33d10"/><stop offset="0.913" stop-color="#e5420e"/><stop offset="0.957" stop-color="#e6470d"/><stop offset="1" stop-color="#e74d0b"/></linearGradient><linearGradient id="gc74" gradientUnits="userSpaceOnUse" x1="61.6" x2="324.1" y1="0" y2="0"><stop offset="0" stop-color="#2b1616"/><stop offset="0.043" stop-color="#2a1616"/><stop offset="0.087" stop-color="#291616"/><stop offset="0.13" stop-color="#2a1616"/><stop offset="0.174" stop-color="#321716"/><stop offset="0.217" stop-color="#461a16"/><stop offset="0.261" stop-color="#631c16"/><stop offset="0.304" stop-color="#821e16"/><stop offset="0.348" stop-color="#9f2117"/><stop offset="0.391" stop-color="#ba2619"/><stop offset="0.435" stop-color="#d22a1c"/><stop offset="0.478" stop-color="#dc2a1c"/><stop offset="0.522" stop-color="#dc2b1b"/><stop offset="0.565" stop-color="#dc2b1b"/><stop offset="0.609" stop-color="#dc2b1b"/><stop offset="0.652" stop-color="#dc2b1b"/><stop offset="0.696" stop-color="#dc2c1a"/><stop offset="0.739" stop-color="#dc2c1a"/><stop offset="0.783" stop-color="#de3117"/><stop offset="0.826" stop-color="#e13713"/><stop offset="0.87" stop-color="#e33c10"/><stop offset="0.913" stop-color="#e5420e"/><stop offset="0.957" stop-color="#e6470d"/><stop offset="1" stop-color="#e74d0b"/></linearGradient><linearGradient id="gc75" gradientUnits="userSpaceOnUse" x1="61.6" x2="324.1" y1="0" y2="0"><stop offset="0" stop-color="#2a1616"/><stop offset="0.043" stop-color="#291616"/><stop offset="0.087" stop-color="#291615"/><stop offset="0.13" stop-color="#291615"/><stop offset="0.174" stop-color="#2e1716"/><stop offset="0.217" stop-color="#411916"/><stop offset="0.261" stop-color="#5e1c16"/><stop offset="0.304" stop-color="#7d1d16"/><stop offset="0.348" stop-color="#9b2117"/><stop offset="0.391" stop-color="#b72519"/><stop offset="0.435" stop-color="#d12a1c"/><stop offset="0.478" stop-color="#dc2a1c"/><stop offset="0.522" stop-color="#dc2b1b"/><stop offset="0.565" stop-color="#dc2b1b"/><stop offset="0.609" stop-color="#dc2b1b"/><stop offset="0.652" stop-color="#dc2b1b"/><stop offset="0.696" stop-color="#dc2c1a"/><stop offset="0.739" stop-color="#dc2c1a"/><stop offset="0.783" stop-color="#de3117"/><stop offset="0.826" stop-color="#e13613"/><stop offset="0.87" stop-color="#e33c10"/><stop offset="0.913" stop-color="#e5420e"/><stop offset="0.957" stop-color="#e6470d"/><stop offset="1" stop-color="#e74d0b"/></linearGradient><linearGradient id="gc76" gradientUnits="userSpaceOnUse" x1="61.6" x2="324.1" y1="0" y2="0"><stop offset="0" stop-color="#291616"/><stop offset="0.043" stop-color="#291615"/><stop offset="0.087" stop-color="#281515"/><stop offset="0.13" stop-color="#281515"/><stop offset="0.174" stop-color="#2b1616"/><stop offset="0.217" stop-color="#3c1816"/><stop offset="0.261" stop-color="#591c16"/><stop offset="0.304" stop-color="#781d16"/><stop offset="0.348" stop-color="#972017"/><stop offset="0.391" stop-color="#b52519"/><stop offset="0.435" stop-color="#cf2a1c"/><stop offset="0.478" stop-color="#dc2a1c"/><stop offset="0.522" stop-color="#dc2b1b"/><stop offset="0.565" stop-color="#dc2b1b"/><stop offset="0.609" stop-color="#dc2b1b"/><stop offset="0.652" stop-color="#dc2b1b"/><stop offset="0.696" stop-color="#dc2c1a"/><stop offset="0.739" stop-color="#dc2c1a"/><stop offset="0.783" stop-color="#de3017"/><stop offset="0.826" stop-color="#e13613"/><stop offset="0.87" stop-color="#e33c10"/><stop offset="0.913" stop-color="#e5410e"/><stop offset="0.957" stop-color="#e6470d"/><stop offset="1" stop-color="#e74d0b"/></linearGradient><linearGradient id="gc77" gradientUnits="userSpaceOnUse" x1="61.6" x2="324.1" y1="0" y2="0"><stop offset="0" stop-color="#291615"/><stop offset="0.043" stop-color="#281515"/><stop offset="0.087" stop-color="#281515"/><stop offset="0.13" stop-color="#281515"/><stop offset="0.174" stop-color="#291616"/><stop offset="0.217" stop-color="#381816"/><stop offset="0.261" stop-color="#541b16"/><stop offset="0.304" stop-color="#731d16"/><stop offset="0.348" stop-color="#931f16"/><stop offset="0.391" stop-color="#b22418"/><stop offset="0.435" stop-color="#cd291c"/><stop offset="0.478" stop-color="#dc2a1c"/><stop offset="0.522" stop-color="#dc2b1b"/><stop offset="0.565" stop-color="#dc2b1b"/><stop offset="0.609" stop-color="#dc2b1b"/><stop offset="0.652" stop-color="#dc2b1b"/><stop offset="0.696" stop-color="#dc2c1a"/><stop offset="0.739" stop-color="#dc2c1a"/><stop offset="0.783" stop-color="#de2f18"/><stop offset="0.826" stop-color="#e03614"/><stop offset="0.87" stop-color="#e33b10"/><stop offset="0.913" stop-color="#e5410e"/><stop offset="0.957" stop-color="#e6470d"/><stop offset="1" stop-color="#e74c0b"/></linearGradient><linearGradient id="gc78" gradientUnits="userSpaceOnUse" x1="61.6" x2="324.1" y1="0" y2="0"><stop offset="0" stop-color="#281515"/><stop offset="0.043" stop-color="#281515"/><stop offset="0.087" stop-color="#271515"/><stop offset="0.13" stop-color="#271515"/><stop offset="0.174" stop-color="#291615"/><stop offset="0.217" stop-color="#341716"/><stop offset="0.261" stop-color="#4f1b16"/><stop offset="0.304" stop-color="#6e1d16"/><stop offset="0.348" stop-color="#8f1f16"/><stop offset="0.391" stop-color="#af2418"/><stop offset="0.435" stop-color="#cc291b"/><stop offset="0.478" stop-color="#dc2a1c"/><stop offset="0.522" stop-color="#dc2b1b"/><stop offset="0.565" stop-color="#dc2b1b"/><stop offset="0.609" stop-color="#dc2b1b"/><stop offset="0.652" stop-color="#dc2b1b"/><stop offset="0.696" stop-color="#dc2c1a"/><stop offset="0.739" stop-color="#dc2c1a"/><stop offset="0.783" stop-color="#dd2f18"/><stop offset="0.826" stop-color="#e03514"/><stop offset="0.87" stop-color="#e33b10"/><stop offset="0.913" stop-color="#e5410e"/><stop offset="0.957" stop-color="#e6470d"/><stop offset="1" stop-color="#e74c0b"/></linearGradient><linearGradient id="gc79" gradientUnits="userSpaceOnUse" x1="61.6" x2="324.1" y1="0" y2="0"><stop offset="0" stop-color="#281515"/><stop offset="0.043" stop-color="#271515"/><stop offset="0.087" stop-color="#271514"/><stop offset="0.13" stop-color="#271514"/><stop offset="0.174" stop-color="#281515"/><stop offset="0.217" stop-color="#301716"/><stop offset="0.261" stop-color="#4a1a16"/><stop offset="0.304" stop-color="#691d16"/><stop offset="0.348" stop-color="#8c1e16"/><stop offset="0.391" stop-color="#ac2318"/><stop offset="0.435" stop-color="#ca291b"/><stop offset="0.478" stop-color="#dc2a1c"/><stop offset="0.522" stop-color="#dc2a1c"/><stop offset="0.565" stop-color="#dc2b1b"/><stop offset="0.609" stop-color="#dc2b1b"/><stop offset="0.652" stop-color="#dc2b1b"/><stop offset="0.696" stop-color="#dc2c1a"/><stop offset="0.739" stop-color="#dc2c1a"/><stop offset="0.783" stop-color="#dd2e18"/><stop offset="0.826" stop-color="#e03514"/><stop offset="0.87" stop-color="#e33b10"/><stop offset="0.913" stop-color="#e5420e"/><stop offset="0.957" stop-color="#e6470d"/><stop offset="1" stop-color="#e74d0b"/></linearGradient><linearGradient id="gc80" gradientUnits="userSpaceOnUse" x1="61.6" x2="324.1" y1="0" y2="0"><stop offset="0" stop-color="#281515"/><stop offset="0.043" stop-color="#271515"/><stop offset="0.087" stop-color="#271514"/><stop offset="0.13" stop-color="#261514"/><stop offset="0.174" stop-color="#271515"/><stop offset="0.217" stop-color="#2d1616"/><stop offset="0.261" stop-color="#461916"/><stop offset="0.304" stop-color="#651c16"/><stop offset="0.348" stop-color="#881e16"/><stop offset="0.391" stop-color="#a92318"/><stop offset="0.435" stop-color="#c8291b"/><stop offset="0.478" stop-color="#db2a1c"/><stop offset="0.522" stop-color="#dc2a1c"/><stop offset="0.565" stop-color="#dc2b1b"/><stop offset="0.609" stop-color="#dc2b1b"/><stop offset="0.652" stop-color="#dc2b1b"/><stop offset="0.696" stop-color="#dc2c1a"/><stop offset="0.739" stop-color="#dc2c1a"/><stop offset="0.783" stop-color="#dd2e19"/><stop offset="0.826" stop-color="#e03514"/><stop offset="0.87" stop-color="#e33b10"/><stop offset="0.913" stop-color="#e5420e"/><stop offset="0.957" stop-color="#e6470d"/><stop offset="1" stop-color="#e74d0b"/></linearGradient><linearGradient id="gc81" gradientUnits="userSpaceOnUse" x1="61.6" x2="324.1" y1="0" y2="0"><stop offset="0" stop-color="#271515"/><stop offset="0.043" stop-color="#271514"/><stop offset="0.087" stop-color="#261514"/><stop offset="0.13" stop-color="#261514"/><stop offset="0.174" stop-color="#271514"/><stop offset="0.217" stop-color="#2a1616"/><stop offset="0.261" stop-color="#411916"/><stop offset="0.304" stop-color="#611c16"/><stop offset="0.348" stop-color="#831e16"/><stop offset="0.391" stop-color="#a62217"/><stop offset="0.435" stop-color="#c7281b"/><stop offset="0.478" stop-color="#db2a1c"/><stop offset="0.522" stop-color="#dc2a1c"/><stop offset="0.565" stop-color="#dc2b1b"/><stop offset="0.609" stop-color="#dc2b1b"/><stop offset="0.652" stop-color="#dc2b1b"/><stop offset="0.696" stop-color="#dc2c1a"/><stop offset="0.739" stop-color="#dc2c1a"/><stop offset="0.783" stop-color="#dd2e19"/><stop offset="0.826" stop-color="#e03514"/><stop offset="0.87" stop-color="#e33b10"/><stop offset="0.913" stop-color="#e5420e"/><stop offset="0.957" stop-color="#e6470d"/><stop offset="1" stop-color="#e74d0b"/></linearGradient><linearGradient id="gc82" gradientUnits="userSpaceOnUse" x1="61.6" x2="324.1" y1="0" y2="0"><stop offset="0" stop-color="#271515"/><stop offset="0.043" stop-color="#271514"/><stop offset="0.087" stop-color="#261514"/><stop offset="0.13" stop-color="#261514"/><stop offset="0.174" stop-color="#271514"/><stop offset="0.217" stop-color="#291616"/><stop offset="0.261" stop-color="#3e1816"/><stop offset="0.304" stop-color="#5e1c16"/><stop offset="0.348" stop-color="#7f1e16"/><stop offset="0.391" stop-color="#a32217"/><stop offset="0.435" stop-color="#c6281b"/><stop offset="0.478" stop-color="#da2a1c"/><stop offset="0.522" stop-color="#dc2a1c"/><stop offset="0.565" stop-color="#dc2b1b"/><stop offset="0.609" stop-color="#dc2b1b"/><stop offset="0.652" stop-color="#dc2b1b"/><stop offset="0.696" stop-color="#dc2c1a"/><stop offset="0.739" stop-color="#dc2c1a"/><stop offset="0.783" stop-color="#dd2d19"/><stop offset="0.826" stop-color="#e03514"/><stop offset="0.87" stop-color="#e33b10"/><stop offset="0.913" stop-color="#e5420e"/><stop offset="0.957" stop-color="#e6470d"/><stop offset="1" stop-color="#e74d0b"/></linearGradient><linearGradient id="gc83" gradientUnits="userSpaceOnUse" x1="61.6" x2="324.1" y1="0" y2="0"><stop offset="0" stop-color="#271514"/><stop offset="0.043" stop-color="#271514"/><stop offset="0.087" stop-color="#261514"/><stop offset="0.13" stop-color="#261514"/><stop offset="0.174" stop-color="#261514"/><stop offset="0.217" stop-color="#291615"/><stop offset="0.261" stop-color="#3a1816"/><stop offset="0.304" stop-color="#5a1c16"/><stop offset="0.348" stop-color="#7a1d16"/><stop offset="0.391" stop-color="#a12217"/><stop offset="0.435" stop-color="#c5281b"/><stop offset="0.478" stop-color="#d92a1c"/><stop offset="0.522" stop-color="#dc2a1c"/><stop offset="0.565" stop-color="#dc2b1b"/><stop offset="0.609" stop-color="#dc2b1b"/><stop offset="0.652" stop-color="#dc2b1b"/><stop offset="0.696" stop-color="#dc2b1b"/><stop offset="0.739" stop-color="#dc2c1a"/><stop offset="0.783" stop-color="#dc2d19"/><stop offset="0.826" stop-color="#e03514"/><stop offset="0.87" stop-color="#e33c10"/><stop offset="0.913" stop-color="#e5420e"/><stop offset="0.957" stop-color="#e6470d"/><stop offset="1" stop-color="#e74d0b"/></linearGradient><linearGradient id="gc84" gradientUnits="userSpaceOnUse" x1="61.6" x2="324.1" y1="0" y2="0"><stop offset="0" stop-color="#271514"/><stop offset="0.043" stop-color="#261514"/><stop offset="0.087" stop-color="#261514"/><stop offset="0.13" stop-color="#261514"/><stop offset="0.174" stop-color="#261514"/><stop offset="0.217" stop-color="#281515"/><stop offset="0.261" stop-color="#381816"/><stop offset="0.304" stop-color="#571c16"/><stop offset="0.348" stop-color="#771d16"/><stop offset="0.391" stop-color="#9e2117"/><stop offset="0.435" stop-color="#c3281a"/><stop offset="0.478" stop-color="#d92a1c"/><stop offset="0.522" stop-color="#dc2a1c"/><stop offset="0.565" stop-color="#dc2b1b"/><stop offset="0.609" stop-color="#dc2b1b"/><stop offset="0.652" stop-color="#dc2b1b"/><stop offset="0.696" stop-color="#dc2b1b"/><stop offset="0.739" stop-color="#dc2c1a"/><stop offset="0.783" stop-color="#dc2d1a"/><stop offset="0.826" stop-color="#e03414"/><stop offset="0.87" stop-color="#e33c10"/><stop offset="0.913" stop-color="#e5420e"/><stop offset="0.957" stop-color="#e6470d"/><stop offset="1" stop-color="#e74d0b"/></linearGradient><linearGradient id="gc85" gradientUnits="userSpaceOnUse" x1="61.6" x2="324.1" y1="0" y2="0"><stop offset="0" stop-color="#261514"/><stop offset="0.043" stop-color="#261514"/><stop offset="0.087" stop-color="#261514"/><stop offset="0.13" stop-color="#261514"/><stop offset="0.174" stop-color="#261514"/><stop offset="0.217" stop-color="#271515"/><stop offset="0.261" stop-color="#351716"/><stop offset="0.304" stop-color="#531b16"/><stop offset="0.348" stop-color="#731d16"/><stop offset="0.391" stop-color="#9c2117"/><stop offset="0.435" stop-color="#c2271a"/><stop offset="0.478" stop-color="#d82a1c"/><stop offset="0.522" stop-color="#dc2a1c"/><stop offset="0.565" stop-color="#dc2b1b"/><stop offset="0.609" stop-color="#dc2b1b"/><stop offset="0.652" stop-color="#dc2b1b"/><stop offset="0.696" stop-color="#dc2b1b"/><stop offset="0.739" stop-color="#dc2c1a"/><stop offset="0.783" stop-color="#dc2c1a"/><stop offset="0.826" stop-color="#e03414"/><stop offset="0.87" stop-color="#e33c10"/><stop offset="0.913" stop-color="#e5420e"/><stop offset="0.957" stop-color="#e6470d"/><stop offset="1" stop-color="#e74d0b"/></linearGradient><linearGradient id="gc86" gradientUnits="userSpaceOnUse" x1="61.6" x2="324.1" y1="0" y2="0"><stop offset="0" stop-color="#261514"/><stop offset="0.043" stop-color="#261514"/><stop offset="0.087" stop-color="#261514"/><stop offset="0.13" stop-color="#261514"/><stop offset="0.174" stop-color="#261514"/><stop offset="0.217" stop-color="#271515"/><stop offset="0.261" stop-color="#331716"/><stop offset="0.304" stop-color="#511b16"/><stop offset="0.348" stop-color="#711d16"/><stop offset="0.391" stop-color="#9a2017"/><stop offset="0.435" stop-color="#c0271a"/><stop offset="0.478" stop-color="#d72a1c"/><stop offset="0.522" stop-color="#dc2a1c"/><stop offset="0.565" stop-color="#dc2b1b"/><stop offset="0.609" stop-color="#dc2b1b"/><stop offset="0.652" stop-color="#dc2b1b"/><stop offset="0.696" stop-color="#dc2b1b"/><stop offset="0.739" stop-color="#dc2c1a"/><stop offset="0.783" stop-color="#dc2c1a"/><stop offset="0.826" stop-color="#e03415"/><stop offset="0.87" stop-color="#e33b10"/><stop offset="0.913" stop-color="#e5420e"/><stop offset="0.957" stop-color="#e6470d"/><stop offset="1" stop-color="#e74d0b"/></linearGradient><linearGradient id="gc87" gradientUnits="userSpaceOnUse" x1="61.6" x2="324.1" y1="0" y2="0"><stop offset="0" stop-color="#261514"/><stop offset="0.043" stop-color="#261514"/><stop offset="0.087" stop-color="#261514"/><stop offset="0.13" stop-color="#261514"/><stop offset="0.174" stop-color="#251414"/><stop offset="0.217" stop-color="#271514"/><stop offset="0.261" stop-color="#321716"/><stop offset="0.304" stop-color="#4f1b16"/><stop offset="0.348" stop-color="#6f1d16"/><stop offset="0.391" stop-color="#982017"/><stop offset="0.435" stop-color="#be271a"/><stop offset="0.478" stop-color="#d62a1c"/><stop offset="0.522" stop-color="#dc2a1c"/><stop offset="0.565" stop-color="#dc2b1b"/><stop offset="0.609" stop-color="#dc2b1b"/><stop offset="0.652" stop-color="#dc2b1b"/><stop offset="0.696" stop-color="#dc2b1b"/><stop offset="0.739" stop-color="#dc2c1a"/><stop offset="0.783" stop-color="#dc2c1a"/><stop offset="0.826" stop-color="#e03415"/><stop offset="0.87" stop-color="#e33b10"/><stop offset="0.913" stop-color="#e5420e"/><stop offset="0.957" stop-color="#e6470d"/><stop offset="1" stop-color="#e74d0b"/></linearGradient><linearGradient id="gc88" gradientUnits="userSpaceOnUse" x1="61.6" x2="324.1" y1="0" y2="0"><stop offset="0" stop-color="#251414"/><stop offset="0.043" stop-color="#251414"/><stop offset="0.087" stop-color="#251414"/><stop offset="0.13" stop-color="#251414"/><stop offset="0.174" stop-color="#251414"/><stop offset="0.217" stop-color="#271514"/><stop offset="0.261" stop-color="#311716"/><stop offset="0.304" stop-color="#4d1a16"/><stop offset="0.348" stop-color="#6e1d16"/><stop offset="0.391" stop-color="#962017"/><stop offset="0.435" stop-color="#bc2619"/><stop offset="0.478" stop-color="#d42a1c"/><stop offset="0.522" stop-color="#dc2a1c"/><stop offset="0.565" stop-color="#dc2b1b"/><stop offset="0.609" stop-color="#dc2b1b"/><stop offset="0.652" stop-color="#dc2b1b"/><stop offset="0.696" stop-color="#dc2b1b"/><stop offset="0.739" stop-color="#dc2c1a"/><stop offset="0.783" stop-color="#dc2c1a"/><stop offset="0.826" stop-color="#e03415"/><stop offset="0.87" stop-color="#e33b10"/><stop offset="0.913" stop-color="#e5410e"/><stop offset="0.957" stop-color="#e6470d"/><stop offset="1" stop-color="#e74c0b"/></linearGradient><linearGradient id="gc89" gradientUnits="userSpaceOnUse" x1="61.6" x2="324.1" y1="0" y2="0"><stop offset="0" stop-color="#251414"/><stop offset="0.043" stop-color="#251414"/><stop offset="0.087" stop-color="#251414"/><stop offset="0.13" stop-color="#251414"/><stop offset="0.174" stop-color="#251414"/><stop offset="0.217" stop-color="#271514"/><stop offset="0.261" stop-color="#301716"/><stop offset="0.304" stop-color="#4c1a16"/><stop offset="0.348" stop-color="#6d1d16"/><stop offset="0.391" stop-color="#952017"/><stop offset="0.435" stop-color="#ba2619"/><stop offset="0.478" stop-color="#d32a1c"/><stop offset="0.522" stop-color="#dc2a1c"/><stop offset="0.565" stop-color="#dc2b1b"/><stop offset="0.609" stop-color="#dc2b1b"/><stop offset="0.652" stop-color="#dc2b1b"/><stop offset="0.696" stop-color="#dc2b1b"/><stop offset="0.739" stop-color="#dc2c1a"/><stop offset="0.783" stop-color="#dc2c1a"/><stop offset="0.826" stop-color="#e03415"/><stop offset="0.87" stop-color="#e33b10"/><stop offset="0.913" stop-color="#e5410e"/><stop offset="0.957" stop-color="#e6470d"/><stop offset="1" stop-color="#e74c0b"/></linearGradient><linearGradient id="gc90" gradientUnits="userSpaceOnUse" x1="61.6" x2="324.1" y1="0" y2="0"><stop offset="0" stop-color="#251414"/><stop offset="0.043" stop-color="#251414"/><stop offset="0.087" stop-color="#251414"/><stop offset="0.13" stop-color="#251414"/><stop offset="0.174" stop-color="#251414"/><stop offset="0.217" stop-color="#271514"/><stop offset="0.261" stop-color="#301716"/><stop offset="0.304" stop-color="#4c1a16"/><stop offset="0.348" stop-color="#6d1d16"/><stop offset="0.391" stop-color="#952017"/><stop offset="0.435" stop-color="#ba2619"/><stop offset="0.478" stop-color="#d32a1c"/><stop offset="0.522" stop-color="#dc2a1c"/><stop offset="0.565" stop-color="#dc2b1b"/><stop offset="0.609" stop-color="#dc2b1b"/><stop offset="0.652" stop-color="#dc2b1b"/><stop offset="0.696" stop-color="#dc2b1b"/><stop offset="0.739" stop-color="#dc2c1a"/><stop offset="0.783" stop-color="#dc2c1a"/><stop offset="0.826" stop-color="#e03415"/><stop offset="0.87" stop-color="#e33b10"/><stop offset="0.913" stop-color="#e5410e"/><stop offset="0.957" stop-color="#e6470d"/><stop offset="1" stop-color="#e74c0b"/></linearGradient><linearGradient id="gc91" gradientUnits="userSpaceOnUse" x1="61.6" x2="324.1" y1="0" y2="0"><stop offset="0" stop-color="#251414"/><stop offset="0.043" stop-color="#251414"/><stop offset="0.087" stop-color="#251414"/><stop offset="0.13" stop-color="#251414"/><stop offset="0.174" stop-color="#251414"/><stop offset="0.217" stop-color="#271514"/><stop offset="0.261" stop-color="#301716"/><stop offset="0.304" stop-color="#4c1a16"/><stop offset="0.348" stop-color="#6d1d16"/><stop offset="0.391" stop-color="#952017"/><stop offset="0.435" stop-color="#ba2619"/><stop offset="0.478" stop-color="#d32a1c"/><stop offset="0.522" stop-color="#dc2a1c"/><stop offset="0.565" stop-color="#dc2b1b"/><stop offset="0.609" stop-color="#dc2b1b"/><stop offset="0.652" stop-color="#dc2b1b"/><stop offset="0.696" stop-color="#dc2b1b"/><stop offset="0.739" stop-color="#dc2c1a"/><stop offset="0.783" stop-color="#dc2c1a"/><stop offset="0.826" stop-color="#e03415"/><stop offset="0.87" stop-color="#e33b10"/><stop offset="0.913" stop-color="#e5410e"/><stop offset="0.957" stop-color="#e6470d"/><stop offset="1" stop-color="#e74c0b"/></linearGradient><clipPath id="gcclip"><rect x="61.60" y="285.10" width="262.50" height="261.70"/></clipPath><linearGradient id="gd0" gradientUnits="userSpaceOnUse" x1="361.1" x2="623.6" y1="0" y2="0"><stop offset="0" stop-color="#fffdf4"/><stop offset="0.043" stop-color="#fefcec"/><stop offset="0.087" stop-color="#fefbe4"/><stop offset="0.13" stop-color="#fdfadb"/><stop offset="0.174" stop-color="#fdf8d1"/><stop offset="0.217" stop-color="#fdf6c2"/><stop offset="0.261" stop-color="#fcf3af"/><stop offset="0.304" stop-color="#fbef94"/><stop offset="0.348" stop-color="#f9ea65"/><stop offset="0.391" stop-color="#f7e52d"/><stop offset="0.435" stop-color="#f5e400"/><stop offset="0.478" stop-color="#f5e100"/><stop offset="0.522" stop-color="#f5d300"/><stop offset="0.565" stop-color="#f5c100"/><stop offset="0.609" stop-color="#f5ae00"/><stop offset="0.652" stop-color="#f59d00"/><stop offset="0.696" stop-color="#f38e00"/><stop offset="0.739" stop-color="#f18300"/><stop offset="0.783" stop-color="#f07c00"/><stop offset="0.826" stop-color="#ef7701"/><stop offset="0.87" stop-color="#ef7402"/><stop offset="0.913" stop-color="#ee7202"/><stop offset="0.957" stop-color="#ee6f03"/><stop offset="1" stop-color="#ed6c04"/></linearGradient><linearGradient id="gd1" gradientUnits="userSpaceOnUse" x1="361.1" x2="623.6" y1="0" y2="0"><stop offset="0" stop-color="#fffdf4"/><stop offset="0.043" stop-color="#fefcec"/><stop offset="0.087" stop-color="#fefbe4"/><stop offset="0.13" stop-color="#fdfadb"/><stop offset="0.174" stop-color="#fdf8d1"/><stop offset="0.217" stop-color="#fdf6c2"/><stop offset="0.261" stop-color="#fcf3af"/><stop offset="0.304" stop-color="#fbef94"/><stop offset="0.348" stop-color="#f9ea65"/><stop offset="0.391" stop-color="#f7e52d"/><stop offset="0.435" stop-color="#f5e400"/><stop offset="0.478" stop-color="#f5e100"/><stop offset="0.522" stop-color="#f5d300"/><stop offset="0.565" stop-color="#f5c100"/><stop offset="0.609" stop-color="#f5ae00"/><stop offset="0.652" stop-color="#f59d00"/><stop offset="0.696" stop-color="#f38e00"/><stop offset="0.739" stop-color="#f18300"/><stop offset="0.783" stop-color="#f07c00"/><stop offset="0.826" stop-color="#ef7701"/><stop offset="0.87" stop-color="#ef7402"/><stop offset="0.913" stop-color="#ee7202"/><stop offset="0.957" stop-color="#ee6f03"/><stop offset="1" stop-color="#ed6c04"/></linearGradient><linearGradient id="gd2" gradientUnits="userSpaceOnUse" x1="361.1" x2="623.6" y1="0" y2="0"><stop offset="0" stop-color="#fefdf3"/><stop offset="0.043" stop-color="#fefceb"/><stop offset="0.087" stop-color="#fefbe3"/><stop offset="0.13" stop-color="#fdfada"/><stop offset="0.174" stop-color="#fdf8d0"/><stop offset="0.217" stop-color="#fdf6c1"/><stop offset="0.261" stop-color="#fcf3ae"/><stop offset="0.304" stop-color="#fbef93"/><stop offset="0.348" stop-color="#f9ea63"/><stop offset="0.391" stop-color="#f7e52c"/><stop offset="0.435" stop-color="#f5e400"/><stop offset="0.478" stop-color="#f5e100"/><stop offset="0.522" stop-color="#f5d300"/><stop offset="0.565" stop-color="#f5c100"/><stop offset="0.609" stop-color="#f5ae00"/><stop offset="0.652" stop-color="#f59d00"/><stop offset="0.696" stop-color="#f38e00"/><stop offset="0.739" stop-color="#f18300"/><stop offset="0.783" stop-color="#f07c00"/><stop offset="0.826" stop-color="#ef7701"/><stop offset="0.87" stop-color="#ef7402"/><stop offset="0.913" stop-color="#ee7202"/><stop offset="0.957" stop-color="#ee6f03"/><stop offset="1" stop-color="#ed6b04"/></linearGradient><linearGradient id="gd3" gradientUnits="userSpaceOnUse" x1="361.1" x2="623.6" y1="0" y2="0"><stop offset="0" stop-color="#fefdf1"/><stop offset="0.043" stop-color="#fefce9"/><stop offset="0.087" stop-color="#fefae1"/><stop offset="0.13" stop-color="#fdf9d8"/><stop offset="0.174" stop-color="#fdf8ce"/><stop offset="0.217" stop-color="#fcf5bf"/><stop offset="0.261" stop-color="#fcf2ab"/><stop offset="0.304" stop-color="#fbee91"/><stop offset="0.348" stop-color="#f9e960"/><stop offset="0.391" stop-color="#f7e529"/><stop offset="0.435" stop-color="#f5e400"/><stop offset="0.478" stop-color="#f5e100"/><stop offset="0.522" stop-color="#f5d300"/><stop offset="0.565" stop-color="#f5c100"/><stop offset="0.609" stop-color="#f5ae00"/><stop offset="0.652" stop-color="#f59d00"/><stop offset="0.696" stop-color="#f38e00"/><stop offset="0.739" stop-color="#f18300"/><stop offset="0.783" stop-color="#f07c00"/><stop offset="0.826" stop-color="#ef7701"/><stop offset="0.87" stop-color="#ef7402"/><stop offset="0.913" stop-color="#ee7102"/><stop offset="0.957" stop-color="#ee6e03"/><stop offset="1" stop-color="#ed6b04"/></linearGradient><linearGradient id="gd4" gradientUnits="userSpaceOnUse" x1="361.1" x2="623.6" y1="0" y2="0"><stop offset="0" stop-color="#fefdef"/><stop offset="0.043" stop-color="#fefbe6"/><stop offset="0.087" stop-color="#fefadf"/><stop offset="0.13" stop-color="#fdf9d6"/><stop offset="0.174" stop-color="#fdf7cc"/><stop offset="0.217" stop-color="#fcf5bd"/><stop offset="0.261" stop-color="#fcf2a9"/><stop offset="0.304" stop-color="#fbee8e"/><stop offset="0.348" stop-color="#f9e95d"/><stop offset="0.391" stop-color="#f7e527"/><stop offset="0.435" stop-color="#f5e300"/><stop offset="0.478" stop-color="#f5e100"/><stop offset="0.522" stop-color="#f5d300"/><stop offset="0.565" stop-color="#f5c100"/><stop offset="0.609" stop-color="#f5ae00"/><stop offset="0.652" stop-color="#f59d00"/><stop offset="0.696" stop-color="#f38f00"/><stop offset="0.739" stop-color="#f18300"/><stop offset="0.783" stop-color="#f07b00"/><stop offset="0.826" stop-color="#ef7601"/><stop offset="0.87" stop-color="#ef7302"/><stop offset="0.913" stop-color="#ee7103"/><stop offset="0.957" stop-color="#ee6e03"/><stop offset="1" stop-color="#ed6a04"/></linearGradient><linearGradient id="gd5" gradientUnits="userSpaceOnUse" x1="361.1" x2="623.6" y1="0" y2="0"><stop offset="0" stop-color="#fefcec"/><stop offset="0.043" stop-color="#fefbe4"/><stop offset="0.087" stop-color="#fefadd"/><stop offset="0.13" stop-color="#fdf9d4"/><stop offset="0.174" stop-color="#fdf7c9"/><stop offset="0.217" stop-color="#fcf5ba"/><stop offset="0.261" stop-color="#fcf1a6"/><stop offset="0.304" stop-color="#fbed8a"/><stop offset="0.348" stop-color="#f9e859"/><stop offset="0.391" stop-color="#f7e525"/><stop offset="0.435" stop-color="#f5e300"/><stop offset="0.478" stop-color="#f5e100"/><stop offset="0.522" stop-color="#f5d200"/><stop offset="0.565" stop-color="#f5c100"/><stop offset="0.609" stop-color="#f5ae00"/><stop offset="0.652" stop-color="#f59d00"/><stop offset="0.696" stop-color="#f38f00"/><stop offset="0.739" stop-color="#f18300"/><stop offset="0.783" stop-color="#f07b00"/><stop offset="0.826" stop-color="#ef7601"/><stop offset="0.87" stop-color="#ee7302"/><stop offset="0.913" stop-color="#ee7003"/><stop offset="0.957" stop-color="#ee6d03"/><stop offset="1" stop-color="#ed6a04"/></linearGradient><linearGradient id="gd6" gradientUnits="userSpaceOnUse" x1="361.1" x2="623.6" y1="0" y2="0"><stop offset="0" stop-color="#fefcea"/><stop offset="0.043" stop-color="#fefbe2"/><stop offset="0.087" stop-color="#fdfadb"/><stop offset="0.13" stop-color="#fdf8d2"/><stop offset="0.174" stop-color="#fdf7c7"/><stop offset="0.217" stop-color="#fcf4b8"/><stop offset="0.261" stop-color="#fcf1a3"/><stop offset="0.304" stop-color="#fbed86"/><stop offset="0.348" stop-color="#f9e855"/><stop offset="0.391" stop-color="#f7e523"/><stop offset="0.435" stop-color="#f5e300"/><stop offset="0.478" stop-color="#f5e100"/><stop offset="0.522" stop-color="#f5d300"/><stop offset="0.565" stop-color="#f5c100"/><stop offset="0.609" stop-color="#f5af00"/><stop offset="0.652" stop-color="#f59e00"/><stop offset="0.696" stop-color="#f38f00"/><stop offset="0.739" stop-color="#f18300"/><stop offset="0.783" stop-color="#f07b00"/><stop offset="0.826" stop-color="#ef7601"/><stop offset="0.87" stop-color="#ee7302"/><stop offset="0.913" stop-color="#ee7003"/><stop offset="0.957" stop-color="#ed6d03"/><stop offset="1" stop-color="#ed6904"/></linearGradient><linearGradient id="gd7" gradientUnits="userSpaceOnUse" x1="361.1" x2="623.6" y1="0" y2="0"><stop offset="0" stop-color="#fefce9"/><stop offset="0.043" stop-color="#fefae1"/><stop offset="0.087" stop-color="#fdf9d9"/><stop offset="0.13" stop-color="#fdf8d0"/><stop offset="0.174" stop-color="#fdf6c5"/><stop offset="0.217" stop-color="#fcf4b5"/><stop offset="0.261" stop-color="#fcf1a1"/><stop offset="0.304" stop-color="#faed82"/><stop offset="0.348" stop-color="#f9e852"/><stop offset="0.391" stop-color="#f7e521"/><stop offset="0.435" stop-color="#f5e300"/><stop offset="0.478" stop-color="#f5e100"/><stop offset="0.522" stop-color="#f5d300"/><stop offset="0.565" stop-color="#f5c200"/><stop offset="0.609" stop-color="#f5af00"/><stop offset="0.652" stop-color="#f59e00"/><stop offset="0.696" stop-color="#f39000"/><stop offset="0.739" stop-color="#f18400"/><stop offset="0.783" stop-color="#f07c00"/><stop offset="0.826" stop-color="#ef7601"/><stop offset="0.87" stop-color="#ee7302"/><stop offset="0.913" stop-color="#ee7003"/><stop offset="0.957" stop-color="#ed6d03"/><stop offset="1" stop-color="#ed6804"/></linearGradient><linearGradient id="gd8" gradientUnits="userSpaceOnUse" x1="361.1" x2="623.6" y1="0" y2="0"><stop offset="0" stop-color="#fefbe7"/><stop offset="0.043" stop-color="#fefadf"/><stop offset="0.087" stop-color="#fdf9d7"/><stop offset="0.13" stop-color="#fdf8ce"/><stop offset="0.174" stop-color="#fdf6c2"/><stop offset="0.217" stop-color="#fcf3b2"/><stop offset="0.261" stop-color="#fbf09e"/><stop offset="0.304" stop-color="#faec7e"/><stop offset="0.348" stop-color="#f9e74f"/><stop offset="0.391" stop-color="#f6e520"/><stop offset="0.435" stop-color="#f5e300"/><stop offset="0.478" stop-color="#f5e100"/><stop offset="0.522" stop-color="#f5d300"/><stop offset="0.565" stop-color="#f5c200"/><stop offset="0.609" stop-color="#f5b000"/><stop offset="0.652" stop-color="#f59f00"/><stop offset="0.696" stop-color="#f39100"/><stop offset="0.739" stop-color="#f18500"/><stop offset="0.783" stop-color="#f07c00"/><stop offset="0.826" stop-color="#ef7701"/><stop offset="0.87" stop-color="#ee7302"/><stop offset="0.913" stop-color="#ee6f03"/><stop offset="0.957" stop-color="#ed6c04"/><stop offset="1" stop-color="#ed6804"/></linearGradient><linearGradient id="gd9" gradientUnits="userSpaceOnUse" x1="361.1" x2="623.6" y1="0" y2="0"><stop offset="0" stop-color="#fefbe5"/><stop offset="0.043" stop-color="#fefadd"/><stop offset="0.087" stop-color="#fdf9d5"/><stop offset="0.13" stop-color="#fdf7cc"/><stop offset="0.174" stop-color="#fcf5c0"/><stop offset="0.217" stop-color="#fcf3b0"/><stop offset="0.261" stop-color="#fbf09b"/><stop offset="0.304" stop-color="#faec7a"/><stop offset="0.348" stop-color="#f8e74b"/><stop offset="0.391" stop-color="#f6e51f"/><stop offset="0.435" stop-color="#f5e300"/><stop offset="0.478" stop-color="#f5e100"/><stop offset="0.522" stop-color="#f5d300"/><stop offset="0.565" stop-color="#f5c300"/><stop offset="0.609" stop-color="#f5b100"/><stop offset="0.652" stop-color="#f5a000"/><stop offset="0.696" stop-color="#f39100"/><stop offset="0.739" stop-color="#f18500"/><stop offset="0.783" stop-color="#f07d00"/><stop offset="0.826" stop-color="#ef7701"/><stop offset="0.87" stop-color="#ee7302"/><stop offset="0.913" stop-color="#ee6f03"/><stop offset="0.957" stop-color="#ed6c04"/><stop offset="1" stop-color="#ed6705"/></linearGradient><linearGradient id="gd10" gradientUnits="userSpaceOnUse" x1="361.1" x2="623.6" y1="0" y2="0"><stop offset="0" stop-color="#fefbe4"/><stop offset="0.043" stop-color="#fdfadb"/><stop offset="0.087" stop-color="#fdf8d3"/><stop offset="0.13" stop-color="#fdf7c9"/><stop offset="0.174" stop-color="#fcf5bd"/><stop offset="0.217" stop-color="#fcf2ad"/><stop offset="0.261" stop-color="#fbef97"/><stop offset="0.304" stop-color="#faeb76"/><stop offset="0.348" stop-color="#f8e748"/><stop offset="0.391" stop-color="#f6e51d"/><stop offset="0.435" stop-color="#f5e300"/><stop offset="0.478" stop-color="#f5e100"/><stop offset="0.522" stop-color="#f5d400"/><stop offset="0.565" stop-color="#f5c300"/><stop offset="0.609" stop-color="#f5b200"/><stop offset="0.652" stop-color="#f5a100"/><stop offset="0.696" stop-color="#f39200"/><stop offset="0.739" stop-color="#f18600"/><stop offset="0.783" stop-color="#f07e00"/><stop offset="0.826" stop-color="#ef7701"/><stop offset="0.87" stop-color="#ee7302"/><stop offset="0.913" stop-color="#ee6f03"/><stop offset="0.957" stop-color="#ed6b04"/><stop offset="1" stop-color="#ec6605"/></linearGradient><linearGradient id="gd11" gradientUnits="userSpaceOnUse" x1="361.1" x2="623.6" y1="0" y2="0"><stop offset="0" stop-color="#fefbe2"/><stop offset="0.043" stop-color="#fdf9da"/><stop offset="0.087" stop-color="#fdf8d1"/><stop offset="0.13" stop-color="#fdf7c7"/><stop offset="0.174" stop-color="#fcf5ba"/><stop offset="0.217" stop-color="#fcf2aa"/><stop offset="0.261" stop-color="#fbef94"/><stop offset="0.304" stop-color="#faeb72"/><stop offset="0.348" stop-color="#f8e645"/><stop offset="0.391" stop-color="#f6e51c"/><stop offset="0.435" stop-color="#f5e300"/><stop offset="0.478" stop-color="#f5e100"/><stop offset="0.522" stop-color="#f5d400"/><stop offset="0.565" stop-color="#f5c400"/><stop offset="0.609" stop-color="#f5b300"/><stop offset="0.652" stop-color="#f5a200"/><stop offset="0.696" stop-color="#f39300"/><stop offset="0.739" stop-color="#f28700"/><stop offset="0.783" stop-color="#f07e00"/><stop offset="0.826" stop-color="#ef7801"/><stop offset="0.87" stop-color="#ee7302"/><stop offset="0.913" stop-color="#ee6f03"/><stop offset="0.957" stop-color="#ed6a04"/><stop offset="1" stop-color="#ec6505"/></linearGradient><linearGradient id="gd12" gradientUnits="userSpaceOnUse" x1="361.1" x2="623.6" y1="0" y2="0"><stop offset="0" stop-color="#fefae0"/><stop offset="0.043" stop-color="#fdf9d8"/><stop offset="0.087" stop-color="#fdf8cf"/><stop offset="0.13" stop-color="#fdf6c4"/><stop offset="0.174" stop-color="#fcf4b7"/><stop offset="0.217" stop-color="#fcf1a6"/><stop offset="0.261" stop-color="#fbee91"/><stop offset="0.304" stop-color="#faeb6d"/><stop offset="0.348" stop-color="#f8e641"/><stop offset="0.391" stop-color="#f6e51b"/><stop offset="0.435" stop-color="#f5e300"/><stop offset="0.478" stop-color="#f5e100"/><stop offset="0.522" stop-color="#f5d400"/><stop offset="0.565" stop-color="#f5c500"/><stop offset="0.609" stop-color="#f5b300"/><stop offset="0.652" stop-color="#f5a300"/><stop offset="0.696" stop-color="#f39400"/><stop offset="0.739" stop-color="#f28800"/><stop offset="0.783" stop-color="#f07f00"/><stop offset="0.826" stop-color="#ef7801"/><stop offset="0.87" stop-color="#ee7302"/><stop offset="0.913" stop-color="#ee6e03"/><stop offset="0.957" stop-color="#ed6a04"/><stop offset="1" stop-color="#ec6505"/></linearGradient><linearGradient id="gd13" gradientUnits="userSpaceOnUse" x1="361.1" x2="623.6" y1="0" y2="0"><stop offset="0" stop-color="#fefadf"/><stop offset="0.043" stop-color="#fdf9d6"/><stop offset="0.087" stop-color="#fdf7cc"/><stop offset="0.13" stop-color="#fdf6c1"/><stop offset="0.174" stop-color="#fcf4b4"/><stop offset="0.217" stop-color="#fcf1a3"/><stop offset="0.261" stop-color="#fbee8c"/><stop offset="0.304" stop-color="#faea69"/><stop offset="0.348" stop-color="#f8e63e"/><stop offset="0.391" stop-color="#f6e519"/><stop offset="0.435" stop-color="#f5e300"/><stop offset="0.478" stop-color="#f5e100"/><stop offset="0.522" stop-color="#f5d400"/><stop offset="0.565" stop-color="#f5c500"/><stop offset="0.609" stop-color="#f5b400"/><stop offset="0.652" stop-color="#f5a400"/><stop offset="0.696" stop-color="#f39500"/><stop offset="0.739" stop-color="#f28900"/><stop offset="0.783" stop-color="#f18000"/><stop offset="0.826" stop-color="#ef7801"/><stop offset="0.87" stop-color="#ee7302"/><stop offset="0.913" stop-color="#ee6e03"/><stop offset="0.957" stop-color="#ed6904"/><stop offset="1" stop-color="#ec6405"/></linearGradient><linearGradient id="gd14" gradientUnits="userSpaceOnUse" x1="361.1" x2="623.6" y1="0" y2="0"><stop offset="0" stop-color="#fefadd"/><stop offset="0.043" stop-color="#fdf9d4"/><stop offset="0.087" stop-color="#fdf7ca"/><stop offset="0.13" stop-color="#fcf5be"/><stop offset="0.174" stop-color="#fcf3b1"/><stop offset="0.217" stop-color="#fbf09f"/><stop offset="0.261" stop-color="#fbed87"/><stop offset="0.304" stop-color="#f9ea64"/><stop offset="0.348" stop-color="#f8e63c"/><stop offset="0.391" stop-color="#f6e517"/><stop offset="0.435" stop-color="#f5e300"/><stop offset="0.478" stop-color="#f5e100"/><stop offset="0.522" stop-color="#f5d500"/><stop offset="0.565" stop-color="#f5c600"/><stop offset="0.609" stop-color="#f5b500"/><stop offset="0.652" stop-color="#f5a400"/><stop offset="0.696" stop-color="#f49600"/><stop offset="0.739" stop-color="#f28a00"/><stop offset="0.783" stop-color="#f18000"/><stop offset="0.826" stop-color="#ef7901"/><stop offset="0.87" stop-color="#ee7202"/><stop offset="0.913" stop-color="#ee6d03"/><stop offset="0.957" stop-color="#ed6804"/><stop offset="1" stop-color="#ec6306"/></linearGradient><linearGradient id="gd15" gradientUnits="userSpaceOnUse" x1="361.1" x2="623.6" y1="0" y2="0"><stop offset="0" stop-color="#fdfadb"/><stop offset="0.043" stop-color="#fdf8d2"/><stop offset="0.087" stop-color="#fdf7c7"/><stop offset="0.13" stop-color="#fcf5bb"/><stop offset="0.174" stop-color="#fcf3ad"/><stop offset="0.217" stop-color="#fbf09b"/><stop offset="0.261" stop-color="#faed81"/><stop offset="0.304" stop-color="#f9e95f"/><stop offset="0.348" stop-color="#f8e639"/><stop offset="0.391" stop-color="#f6e515"/><stop offset="0.435" stop-color="#f5e300"/><stop offset="0.478" stop-color="#f5e100"/><stop offset="0.522" stop-color="#f5d500"/><stop offset="0.565" stop-color="#f5c600"/><stop offset="0.609" stop-color="#f5b500"/><stop offset="0.652" stop-color="#f5a500"/><stop offset="0.696" stop-color="#f49600"/><stop offset="0.739" stop-color="#f28a00"/><stop offset="0.783" stop-color="#f18000"/><stop offset="0.826" stop-color="#ef7901"/><stop offset="0.87" stop-color="#ee7202"/><stop offset="0.913" stop-color="#ed6d03"/><stop offset="0.957" stop-color="#ed6705"/><stop offset="1" stop-color="#ec6206"/></linearGradient><linearGradient id="gd16" gradientUnits="userSpaceOnUse" x1="361.1" x2="623.6" y1="0" y2="0"><stop offset="0" stop-color="#fdf9d9"/><stop offset="0.043" stop-color="#fdf8cf"/><stop offset="0.087" stop-color="#fdf6c4"/><stop offset="0.13" stop-color="#fcf4b8"/><stop offset="0.174" stop-color="#fcf2a9"/><stop offset="0.217" stop-color="#fbef97"/><stop offset="0.261" stop-color="#faec7c"/><stop offset="0.304" stop-color="#f9e959"/><stop offset="0.348" stop-color="#f8e635"/><stop offset="0.391" stop-color="#f6e513"/><stop offset="0.435" stop-color="#f5e300"/><stop offset="0.478" stop-color="#f5e100"/><stop offset="0.522" stop-color="#f5d500"/><stop offset="0.565" stop-color="#f5c600"/><stop offset="0.609" stop-color="#f5b500"/><stop offset="0.652" stop-color="#f5a500"/><stop offset="0.696" stop-color="#f49700"/><stop offset="0.739" stop-color="#f28a00"/><stop offset="0.783" stop-color="#f18000"/><stop offset="0.826" stop-color="#ef7801"/><stop offset="0.87" stop-color="#ee7202"/><stop offset="0.913" stop-color="#ed6c04"/><stop offset="0.957" stop-color="#ec6605"/><stop offset="1" stop-color="#eb6006"/></linearGradient><linearGradient id="gd17" gradientUnits="userSpaceOnUse" x1="361.1" x2="623.6" y1="0" y2="0"><stop offset="0" stop-color="#fdf9d7"/><stop offset="0.043" stop-color="#fdf7cd"/><stop offset="0.087" stop-color="#fdf6c1"/><stop offset="0.13" stop-color="#fcf4b4"/><stop offset="0.174" stop-color="#fcf1a5"/><stop offset="0.217" stop-color="#fbee92"/><stop offset="0.261" stop-color="#faeb75"/><stop offset="0.304" stop-color="#f9e853"/><stop offset="0.348" stop-color="#f7e632"/><stop offset="0.391" stop-color="#f6e410"/><stop offset="0.435" stop-color="#f5e300"/><stop offset="0.478" stop-color="#f5e100"/><stop offset="0.522" stop-color="#f5d400"/><stop offset="0.565" stop-color="#f5c600"/><stop offset="0.609" stop-color="#f5b500"/><stop offset="0.652" stop-color="#f5a500"/><stop offset="0.696" stop-color="#f49700"/><stop offset="0.739" stop-color="#f28b00"/><stop offset="0.783" stop-color="#f18000"/><stop offset="0.826" stop-color="#ef7801"/><stop offset="0.87" stop-color="#ee7102"/><stop offset="0.913" stop-color="#ed6b04"/><stop offset="0.957" stop-color="#ec6505"/><stop offset="1" stop-color="#eb5f06"/></linearGradient><linearGradient id="gd18" gradientUnits="userSpaceOnUse" x1="361.1" x2="623.6" y1="0" y2="0"><stop offset="0" stop-color="#fdf9d5"/><stop offset="0.043" stop-color="#fdf7ca"/><stop offset="0.087" stop-color="#fcf5bd"/><stop offset="0.13" stop-color="#fcf3b0"/><stop offset="0.174" stop-color="#fcf1a1"/><stop offset="0.217" stop-color="#fbee8d"/><stop offset="0.261" stop-color="#faeb6e"/><stop offset="0.304" stop-color="#f8e74c"/><stop offset="0.348" stop-color="#f7e52e"/><stop offset="0.391" stop-color="#f6e40d"/><stop offset="0.435" stop-color="#f5e300"/><stop offset="0.478" stop-color="#f5e000"/><stop offset="0.522" stop-color="#f5d400"/><stop offset="0.565" stop-color="#f5c500"/><stop offset="0.609" stop-color="#f5b500"/><stop offset="0.652" stop-color="#f5a500"/><stop offset="0.696" stop-color="#f49600"/><stop offset="0.739" stop-color="#f28a00"/><stop offset="0.783" stop-color="#f18000"/><stop offset="0.826" stop-color="#ef7701"/><stop offset="0.87" stop-color="#ee7003"/><stop offset="0.913" stop-color="#ed6a04"/><stop offset="0.957" stop-color="#ec6405"/><stop offset="1" stop-color="#eb5e07"/></linearGradient><linearGradient id="gd19" gradientUnits="userSpaceOnUse" x1="361.1" x2="623.6" y1="0" y2="0"><stop offset="0" stop-color="#fdf8d2"/><stop offset="0.043" stop-color="#fdf6c6"/><stop offset="0.087" stop-color="#fcf4b9"/><stop offset="0.13" stop-color="#fcf2ac"/><stop offset="0.174" stop-color="#fbf09c"/><stop offset="0.217" stop-color="#fbed86"/><stop offset="0.261" stop-color="#f9ea67"/><stop offset="0.304" stop-color="#f8e745"/><stop offset="0.348" stop-color="#f7e529"/><stop offset="0.391" stop-color="#f5e409"/><stop offset="0.435" stop-color="#f5e200"/><stop offset="0.478" stop-color="#f5e000"/><stop offset="0.522" stop-color="#f5d300"/><stop offset="0.565" stop-color="#f5c500"/><stop offset="0.609" stop-color="#f5b400"/><stop offset="0.652" stop-color="#f5a400"/><stop offset="0.696" stop-color="#f49600"/><stop offset="0.739" stop-color="#f28a00"/><stop offset="0.783" stop-color="#f07f00"/><stop offset="0.826" stop-color="#ef7601"/><stop offset="0.87" stop-color="#ee6f03"/><stop offset="0.913" stop-color="#ed6904"/><stop offset="0.957" stop-color="#ec6206"/><stop offset="1" stop-color="#eb5c07"/></linearGradient><linearGradient id="gd20" gradientUnits="userSpaceOnUse" x1="361.1" x2="623.6" y1="0" y2="0"><stop offset="0" stop-color="#fdf8cf"/><stop offset="0.043" stop-color="#fdf6c3"/><stop offset="0.087" stop-color="#fcf4b5"/><stop offset="0.13" stop-color="#fcf2a8"/><stop offset="0.174" stop-color="#fbef97"/><stop offset="0.217" stop-color="#faec7f"/><stop offset="0.261" stop-color="#f9e960"/><stop offset="0.304" stop-color="#f8e63f"/><stop offset="0.348" stop-color="#f7e525"/><stop offset="0.391" stop-color="#f5e405"/><stop offset="0.435" stop-color="#f5e200"/><stop offset="0.478" stop-color="#f5e000"/><stop offset="0.522" stop-color="#f5d300"/><stop offset="0.565" stop-color="#f5c400"/><stop offset="0.609" stop-color="#f5b300"/><stop offset="0.652" stop-color="#f5a300"/><stop offset="0.696" stop-color="#f39500"/><stop offset="0.739" stop-color="#f28900"/><stop offset="0.783" stop-color="#f07e00"/><stop offset="0.826" stop-color="#ef7502"/><stop offset="0.87" stop-color="#ee6e03"/><stop offset="0.913" stop-color="#ed6705"/><stop offset="0.957" stop-color="#ec6106"/><stop offset="1" stop-color="#ea5b07"/></linearGradient><linearGradient id="gd21" gradientUnits="userSpaceOnUse" x1="361.1" x2="623.6" y1="0" y2="0"><stop offset="0" stop-color="#fdf7cb"/><stop offset="0.043" stop-color="#fcf5be"/><stop offset="0.087" stop-color="#fcf3b1"/><stop offset="0.13" stop-color="#fcf1a2"/><stop offset="0.174" stop-color="#fbee92"/><stop offset="0.217" stop-color="#faec77"/><stop offset="0.261" stop-color="#f9e858"/><stop offset="0.304" stop-color="#f8e639"/><stop offset="0.348" stop-color="#f6e51f"/><stop offset="0.391" stop-color="#f5e401"/><stop offset="0.435" stop-color="#f5e200"/><stop offset="0.478" stop-color="#f5e000"/><stop offset="0.522" stop-color="#f5d100"/><stop offset="0.565" stop-color="#f5c200"/><stop offset="0.609" stop-color="#f5b100"/><stop offset="0.652" stop-color="#f5a200"/><stop offset="0.696" stop-color="#f39300"/><stop offset="0.739" stop-color="#f28700"/><stop offset="0.783" stop-color="#f07d00"/><stop offset="0.826" stop-color="#ef7402"/><stop offset="0.87" stop-color="#ed6c04"/><stop offset="0.913" stop-color="#ec6605"/><stop offset="0.957" stop-color="#eb5f06"/><stop offset="1" stop-color="#ea5908"/></linearGradient><linearGradient id="gd22" gradientUnits="userSpaceOnUse" x1="361.1" x2="623.6" y1="0" y2="0"><stop offset="0" stop-color="#fdf6c6"/><stop offset="0.043" stop-color="#fcf4b9"/><stop offset="0.087" stop-color="#fcf2ac"/><stop offset="0.13" stop-color="#fbf09d"/><stop offset="0.174" stop-color="#fbed8b"/><stop offset="0.217" stop-color="#faeb6f"/><stop offset="0.261" stop-color="#f9e84f"/><stop offset="0.304" stop-color="#f7e633"/><stop offset="0.348" stop-color="#f6e51a"/><stop offset="0.391" stop-color="#f5e400"/><stop offset="0.435" stop-color="#f5e200"/><stop offset="0.478" stop-color="#f5de00"/><stop offset="0.522" stop-color="#f5d000"/><stop offset="0.565" stop-color="#f5c000"/><stop offset="0.609" stop-color="#f5af00"/><stop offset="0.652" stop-color="#f5a000"/><stop offset="0.696" stop-color="#f39200"/><stop offset="0.739" stop-color="#f18600"/><stop offset="0.783" stop-color="#f07b00"/><stop offset="0.826" stop-color="#ee7202"/><stop offset="0.87" stop-color="#ed6a04"/><stop offset="0.913" stop-color="#ec6405"/><stop offset="0.957" stop-color="#eb5d07"/><stop offset="1" stop-color="#ea5708"/></linearGradient><linearGradient id="gd23" gradientUnits="userSpaceOnUse" x1="361.1" x2="623.6" y1="0" y2="0"><stop offset="0" stop-color="#fdf6c1"/><stop offset="0.043" stop-color="#fcf4b4"/><stop offset="0.087" stop-color="#fcf1a6"/><stop offset="0.13" stop-color="#fbef97"/><stop offset="0.174" stop-color="#faed83"/><stop offset="0.217" stop-color="#f9ea66"/><stop offset="0.261" stop-color="#f8e746"/><stop offset="0.304" stop-color="#f7e52d"/><stop offset="0.348" stop-color="#f6e514"/><stop offset="0.391" stop-color="#f5e300"/><stop offset="0.435" stop-color="#f5e100"/><stop offset="0.478" stop-color="#f5dd00"/><stop offset="0.522" stop-color="#f5cf00"/><stop offset="0.565" stop-color="#f5be00"/><stop offset="0.609" stop-color="#f5ad00"/><stop offset="0.652" stop-color="#f59d00"/><stop offset="0.696" stop-color="#f39000"/><stop offset="0.739" stop-color="#f18400"/><stop offset="0.783" stop-color="#f07901"/><stop offset="0.826" stop-color="#ee7003"/><stop offset="0.87" stop-color="#ed6804"/><stop offset="0.913" stop-color="#ec6206"/><stop offset="0.957" stop-color="#eb5b07"/><stop offset="1" stop-color="#e95509"/></linearGradient><linearGradient id="gd24" gradientUnits="userSpaceOnUse" x1="361.1" x2="623.6" y1="0" y2="0"><stop offset="0" stop-color="#fcf5bc"/><stop offset="0.043" stop-color="#fcf3af"/><stop offset="0.087" stop-color="#fcf1a1"/><stop offset="0.13" stop-color="#fbee91"/><stop offset="0.174" stop-color="#faec7b"/><stop offset="0.217" stop-color="#f9e95e"/><stop offset="0.261" stop-color="#f8e63e"/><stop offset="0.304" stop-color="#f7e527"/><stop offset="0.348" stop-color="#f6e40e"/><stop offset="0.391" stop-color="#f5e300"/><stop offset="0.435" stop-color="#f5e100"/><stop offset="0.478" stop-color="#f5db00"/><stop offset="0.522" stop-color="#f5cd00"/><stop offset="0.565" stop-color="#f5bb00"/><stop offset="0.609" stop-color="#f5ab00"/><stop offset="0.652" stop-color="#f49b00"/><stop offset="0.696" stop-color="#f28d00"/><stop offset="0.739" stop-color="#f18100"/><stop offset="0.783" stop-color="#ef7701"/><stop offset="0.826" stop-color="#ee6e03"/><stop offset="0.87" stop-color="#ec6605"/><stop offset="0.913" stop-color="#eb5f06"/><stop offset="0.957" stop-color="#ea5908"/><stop offset="1" stop-color="#e95309"/></linearGradient><linearGradient id="gd25" gradientUnits="userSpaceOnUse" x1="361.1" x2="623.6" y1="0" y2="0"><stop offset="0" stop-color="#fcf4b6"/><stop offset="0.043" stop-color="#fcf2a9"/><stop offset="0.087" stop-color="#fbf09a"/><stop offset="0.13" stop-color="#fbed88"/><stop offset="0.174" stop-color="#faeb71"/><stop offset="0.217" stop-color="#f9e854"/><stop offset="0.261" stop-color="#f8e637"/><stop offset="0.304" stop-color="#f6e51f"/><stop offset="0.348" stop-color="#f5e406"/><stop offset="0.391" stop-color="#f5e300"/><stop offset="0.435" stop-color="#f5e100"/><stop offset="0.478" stop-color="#f5d900"/><stop offset="0.522" stop-color="#f5cb00"/><stop offset="0.565" stop-color="#f5b800"/><stop offset="0.609" stop-color="#f5a700"/><stop offset="0.652" stop-color="#f49800"/><stop offset="0.696" stop-color="#f28a00"/><stop offset="0.739" stop-color="#f07e00"/><stop offset="0.783" stop-color="#ef7402"/><stop offset="0.826" stop-color="#ed6b04"/><stop offset="0.87" stop-color="#ec6306"/><stop offset="0.913" stop-color="#eb5d07"/><stop offset="0.957" stop-color="#ea5708"/><stop offset="1" stop-color="#e8500a"/></linearGradient><linearGradient id="gd26" gradientUnits="userSpaceOnUse" x1="361.1" x2="623.6" y1="0" y2="0"><stop offset="0" stop-color="#fcf3af"/><stop offset="0.043" stop-color="#fcf1a2"/><stop offset="0.087" stop-color="#fbee93"/><stop offset="0.13" stop-color="#faec7e"/><stop offset="0.174" stop-color="#f9ea67"/><stop offset="0.217" stop-color="#f8e749"/><stop offset="0.261" stop-color="#f7e52f"/><stop offset="0.304" stop-color="#f6e517"/><stop offset="0.348" stop-color="#f5e400"/><stop offset="0.391" stop-color="#f5e200"/><stop offset="0.435" stop-color="#f5e000"/><stop offset="0.478" stop-color="#f5d700"/><stop offset="0.522" stop-color="#f5c800"/><stop offset="0.565" stop-color="#f5b500"/><stop offset="0.609" stop-color="#f5a400"/><stop offset="0.652" stop-color="#f39500"/><stop offset="0.696" stop-color="#f28700"/><stop offset="0.739" stop-color="#f07b00"/><stop offset="0.783" stop-color="#ee7103"/><stop offset="0.826" stop-color="#ed6805"/><stop offset="0.87" stop-color="#eb6006"/><stop offset="0.913" stop-color="#ea5a08"/><stop offset="0.957" stop-color="#e95409"/><stop offset="1" stop-color="#e74d0b"/></linearGradient><linearGradient id="gd27" gradientUnits="userSpaceOnUse" x1="361.1" x2="623.6" y1="0" y2="0"><stop offset="0" stop-color="#fcf2a9"/><stop offset="0.043" stop-color="#fbf09b"/><stop offset="0.087" stop-color="#fbed8a"/><stop offset="0.13" stop-color="#faeb75"/><stop offset="0.174" stop-color="#f9e95d"/><stop offset="0.217" stop-color="#f8e63f"/><stop offset="0.261" stop-color="#f7e528"/><stop offset="0.304" stop-color="#f6e410"/><stop offset="0.348" stop-color="#f5e300"/><stop offset="0.391" stop-color="#f5e200"/><stop offset="0.435" stop-color="#f5df00"/><stop offset="0.478" stop-color="#f5d400"/><stop offset="0.522" stop-color="#f5c500"/><stop offset="0.565" stop-color="#f5b200"/><stop offset="0.609" stop-color="#f5a000"/><stop offset="0.652" stop-color="#f39200"/><stop offset="0.696" stop-color="#f18400"/><stop offset="0.739" stop-color="#ef7801"/><stop offset="0.783" stop-color="#ee6d03"/><stop offset="0.826" stop-color="#ec6405"/><stop offset="0.87" stop-color="#eb5d07"/><stop offset="0.913" stop-color="#ea5708"/><stop offset="0.957" stop-color="#e8510a"/><stop offset="1" stop-color="#e74a0c"/></linearGradient><linearGradient id="gd28" gradientUnits="userSpaceOnUse" x1="361.1" x2="623.6" y1="0" y2="0"><stop offset="0" stop-color="#fcf1a2"/><stop offset="0.043" stop-color="#fbef94"/><stop offset="0.087" stop-color="#faec81"/><stop offset="0.13" stop-color="#faea6b"/><stop offset="0.174" stop-color="#f9e853"/><stop offset="0.217" stop-color="#f8e638"/><stop offset="0.261" stop-color="#f7e520"/><stop offset="0.304" stop-color="#f5e408"/><stop offset="0.348" stop-color="#f5e300"/><stop offset="0.391" stop-color="#f5e100"/><stop offset="0.435" stop-color="#f5dd00"/><stop offset="0.478" stop-color="#f5d200"/><stop offset="0.522" stop-color="#f5c200"/><stop offset="0.565" stop-color="#f5ae00"/><stop offset="0.609" stop-color="#f59d00"/><stop offset="0.652" stop-color="#f38e00"/><stop offset="0.696" stop-color="#f18100"/><stop offset="0.739" stop-color="#ef7402"/><stop offset="0.783" stop-color="#ed6a04"/><stop offset="0.826" stop-color="#ec6106"/><stop offset="0.87" stop-color="#ea5a08"/><stop offset="0.913" stop-color="#e95309"/><stop offset="0.957" stop-color="#e74d0b"/><stop offset="1" stop-color="#e6470d"/></linearGradient><linearGradient id="gd29" gradientUnits="userSpaceOnUse" x1="361.1" x2="623.6" y1="0" y2="0"><stop offset="0" stop-color="#fbef99"/><stop offset="0.043" stop-color="#fbed8a"/><stop offset="0.087" stop-color="#faeb75"/><stop offset="0.13" stop-color="#f9e95e"/><stop offset="0.174" stop-color="#f8e746"/><stop offset="0.217" stop-color="#f7e530"/><stop offset="0.261" stop-color="#f6e518"/><stop offset="0.304" stop-color="#f5e400"/><stop offset="0.348" stop-color="#f5e200"/><stop offset="0.391" stop-color="#f5e100"/><stop offset="0.435" stop-color="#f5da00"/><stop offset="0.478" stop-color="#f5cf00"/><stop offset="0.522" stop-color="#f5be00"/><stop offset="0.565" stop-color="#f5aa00"/><stop offset="0.609" stop-color="#f49900"/><stop offset="0.652" stop-color="#f28a00"/><stop offset="0.696" stop-color="#f07c00"/><stop offset="0.739" stop-color="#ee7003"/><stop offset="0.783" stop-color="#ec6505"/><stop offset="0.826" stop-color="#eb5d07"/><stop offset="0.87" stop-color="#e95609"/><stop offset="0.913" stop-color="#e84f0a"/><stop offset="0.957" stop-color="#e74a0c"/><stop offset="1" stop-color="#e5430e"/></linearGradient><linearGradient id="gd30" gradientUnits="userSpaceOnUse" x1="361.1" x2="623.6" y1="0" y2="0"><stop offset="0" stop-color="#fbee91"/><stop offset="0.043" stop-color="#faec7e"/><stop offset="0.087" stop-color="#faea69"/><stop offset="0.13" stop-color="#f9e852"/><stop offset="0.174" stop-color="#f8e63c"/><stop offset="0.217" stop-color="#f7e527"/><stop offset="0.261" stop-color="#f6e40f"/><stop offset="0.304" stop-color="#f5e300"/><stop offset="0.348" stop-color="#f5e200"/><stop offset="0.391" stop-color="#f5e000"/><stop offset="0.435" stop-color="#f5d700"/><stop offset="0.478" stop-color="#f5cc00"/><stop offset="0.522" stop-color="#f5b900"/><stop offset="0.565" stop-color="#f5a500"/><stop offset="0.609" stop-color="#f39500"/><stop offset="0.652" stop-color="#f18600"/><stop offset="0.696" stop-color="#ef7801"/><stop offset="0.739" stop-color="#ed6b04"/><stop offset="0.783" stop-color="#ec6106"/><stop offset="0.826" stop-color="#ea5908"/><stop offset="0.87" stop-color="#e8510a"/><stop offset="0.913" stop-color="#e74b0c"/><stop offset="0.957" stop-color="#e6460d"/><stop offset="1" stop-color="#e4400f"/></linearGradient><linearGradient id="gd31" gradientUnits="userSpaceOnUse" x1="361.1" x2="623.6" y1="0" y2="0"><stop offset="0" stop-color="#fbed86"/><stop offset="0.043" stop-color="#faeb73"/><stop offset="0.087" stop-color="#f9e95e"/><stop offset="0.13" stop-color="#f8e746"/><stop offset="0.174" stop-color="#f7e634"/><stop offset="0.217" stop-color="#f6e51f"/><stop offset="0.261" stop-color="#f5e406"/><stop offset="0.304" stop-color="#f5e300"/><stop offset="0.348" stop-color="#f5e100"/><stop offset="0.391" stop-color="#f5de00"/><stop offset="0.435" stop-color="#f5d400"/><stop offset="0.478" stop-color="#f5c900"/><stop offset="0.522" stop-color="#f5b500"/><stop offset="0.565" stop-color="#f5a000"/><stop offset="0.609" stop-color="#f39100"/><stop offset="0.652" stop-color="#f18200"/><stop offset="0.696" stop-color="#ef7302"/><stop offset="0.739" stop-color="#ec6605"/><stop offset="0.783" stop-color="#eb5d07"/><stop offset="0.826" stop-color="#e95409"/><stop offset="0.87" stop-color="#e74d0b"/><stop offset="0.913" stop-color="#e6470d"/><stop offset="0.957" stop-color="#e5410e"/><stop offset="1" stop-color="#e33c10"/></linearGradient><linearGradient id="gd32" gradientUnits="userSpaceOnUse" x1="361.1" x2="623.6" y1="0" y2="0"><stop offset="0" stop-color="#faec7c"/><stop offset="0.043" stop-color="#faea68"/><stop offset="0.087" stop-color="#f9e852"/><stop offset="0.13" stop-color="#f8e63c"/><stop offset="0.174" stop-color="#f7e52b"/><stop offset="0.217" stop-color="#f6e516"/><stop offset="0.261" stop-color="#f5e400"/><stop offset="0.304" stop-color="#f5e200"/><stop offset="0.348" stop-color="#f5e100"/><stop offset="0.391" stop-color="#f5db00"/><stop offset="0.435" stop-color="#f5d100"/><stop offset="0.478" stop-color="#f5c400"/><stop offset="0.522" stop-color="#f5b000"/><stop offset="0.565" stop-color="#f49c00"/><stop offset="0.609" stop-color="#f28c00"/><stop offset="0.652" stop-color="#f07d00"/><stop offset="0.696" stop-color="#ee6e03"/><stop offset="0.739" stop-color="#ec6206"/><stop offset="0.783" stop-color="#ea5808"/><stop offset="0.826" stop-color="#e8500a"/><stop offset="0.87" stop-color="#e6490c"/><stop offset="0.913" stop-color="#e5430e"/><stop offset="0.957" stop-color="#e43d0f"/><stop offset="1" stop-color="#e23812"/></linearGradient><linearGradient id="gd33" gradientUnits="userSpaceOnUse" x1="361.1" x2="623.6" y1="0" y2="0"><stop offset="0" stop-color="#faeb70"/><stop offset="0.043" stop-color="#f9e95c"/><stop offset="0.087" stop-color="#f8e746"/><stop offset="0.13" stop-color="#f7e633"/><stop offset="0.174" stop-color="#f7e522"/><stop offset="0.217" stop-color="#f6e40e"/><stop offset="0.261" stop-color="#f5e300"/><stop offset="0.304" stop-color="#f5e200"/><stop offset="0.348" stop-color="#f5e000"/><stop offset="0.391" stop-color="#f5d800"/><stop offset="0.435" stop-color="#f5cd00"/><stop offset="0.478" stop-color="#f5bf00"/><stop offset="0.522" stop-color="#f5ab00"/><stop offset="0.565" stop-color="#f49800"/><stop offset="0.609" stop-color="#f28800"/><stop offset="0.652" stop-color="#ef7901"/><stop offset="0.696" stop-color="#ed6904"/><stop offset="0.739" stop-color="#eb5d07"/><stop offset="0.783" stop-color="#e95309"/><stop offset="0.826" stop-color="#e74b0c"/><stop offset="0.87" stop-color="#e5440e"/><stop offset="0.913" stop-color="#e43e0f"/><stop offset="0.957" stop-color="#e23911"/><stop offset="1" stop-color="#e03514"/></linearGradient><linearGradient id="gd34" gradientUnits="userSpaceOnUse" x1="361.1" x2="623.6" y1="0" y2="0"><stop offset="0" stop-color="#f9ea64"/><stop offset="0.043" stop-color="#f9e850"/><stop offset="0.087" stop-color="#f8e63c"/><stop offset="0.13" stop-color="#f7e52b"/><stop offset="0.174" stop-color="#f6e51a"/><stop offset="0.217" stop-color="#f5e405"/><stop offset="0.261" stop-color="#f5e300"/><stop offset="0.304" stop-color="#f5e100"/><stop offset="0.348" stop-color="#f5df00"/><stop offset="0.391" stop-color="#f5d500"/><stop offset="0.435" stop-color="#f5ca00"/><stop offset="0.478" stop-color="#f5ba00"/><stop offset="0.522" stop-color="#f5a600"/><stop offset="0.565" stop-color="#f39300"/><stop offset="0.609" stop-color="#f18300"/><stop offset="0.652" stop-color="#ef7302"/><stop offset="0.696" stop-color="#ec6405"/><stop offset="0.739" stop-color="#ea5808"/><stop offset="0.783" stop-color="#e84e0b"/><stop offset="0.826" stop-color="#e6460d"/><stop offset="0.87" stop-color="#e43f0f"/><stop offset="0.913" stop-color="#e23a11"/><stop offset="0.957" stop-color="#e03514"/><stop offset="1" stop-color="#de3117"/></linearGradient><linearGradient id="gd35" gradientUnits="userSpaceOnUse" x1="361.1" x2="623.6" y1="0" y2="0"><stop offset="0" stop-color="#f9e859"/><stop offset="0.043" stop-color="#f8e745"/><stop offset="0.087" stop-color="#f7e634"/><stop offset="0.13" stop-color="#f7e523"/><stop offset="0.174" stop-color="#f6e512"/><stop offset="0.217" stop-color="#f5e400"/><stop offset="0.261" stop-color="#f5e200"/><stop offset="0.304" stop-color="#f5e100"/><stop offset="0.348" stop-color="#f5dc00"/><stop offset="0.391" stop-color="#f5d200"/><stop offset="0.435" stop-color="#f5c600"/><stop offset="0.478" stop-color="#f5b500"/><stop offset="0.522" stop-color="#f5a100"/><stop offset="0.565" stop-color="#f38e00"/><stop offset="0.609" stop-color="#f07e00"/><stop offset="0.652" stop-color="#ee6e03"/><stop offset="0.696" stop-color="#eb5f06"/><stop offset="0.739" stop-color="#e95309"/><stop offset="0.783" stop-color="#e6490c"/><stop offset="0.826" stop-color="#e5410e"/><stop offset="0.87" stop-color="#e33a10"/><stop offset="0.913" stop-color="#e13613"/><stop offset="0.957" stop-color="#df3216"/><stop offset="1" stop-color="#dd2d19"/></linearGradient><linearGradient id="gd36" gradientUnits="userSpaceOnUse" x1="361.1" x2="623.6" y1="0" y2="0"><stop offset="0" stop-color="#f8e74d"/><stop offset="0.043" stop-color="#f8e63b"/><stop offset="0.087" stop-color="#f7e52c"/><stop offset="0.13" stop-color="#f6e51b"/><stop offset="0.174" stop-color="#f5e40a"/><stop offset="0.217" stop-color="#f5e300"/><stop offset="0.261" stop-color="#f5e200"/><stop offset="0.304" stop-color="#f5e000"/><stop offset="0.348" stop-color="#f5d900"/><stop offset="0.391" stop-color="#f5cf00"/><stop offset="0.435" stop-color="#f5c100"/><stop offset="0.478" stop-color="#f5b000"/><stop offset="0.522" stop-color="#f49c00"/><stop offset="0.565" stop-color="#f28900"/><stop offset="0.609" stop-color="#f07901"/><stop offset="0.652" stop-color="#ed6904"/><stop offset="0.696" stop-color="#ea5a07"/><stop offset="0.739" stop-color="#e84e0b"/><stop offset="0.783" stop-color="#e5440d"/><stop offset="0.826" stop-color="#e33c10"/><stop offset="0.87" stop-color="#e13613"/><stop offset="0.913" stop-color="#df3216"/><stop offset="0.957" stop-color="#dd2e19"/><stop offset="1" stop-color="#dc2c1a"/></linearGradient><linearGradient id="gd37" gradientUnits="userSpaceOnUse" x1="361.1" x2="623.6" y1="0" y2="0"><stop offset="0" stop-color="#f8e640"/><stop offset="0.043" stop-color="#f7e632"/><stop offset="0.087" stop-color="#f7e523"/><stop offset="0.13" stop-color="#f6e513"/><stop offset="0.174" stop-color="#f5e401"/><stop offset="0.217" stop-color="#f5e300"/><stop offset="0.261" stop-color="#f5e100"/><stop offset="0.304" stop-color="#f5df00"/><stop offset="0.348" stop-color="#f5d600"/><stop offset="0.391" stop-color="#f5cb00"/><stop offset="0.435" stop-color="#f5bc00"/><stop offset="0.478" stop-color="#f5aa00"/><stop offset="0.522" stop-color="#f49600"/><stop offset="0.565" stop-color="#f18400"/><stop offset="0.609" stop-color="#ef7402"/><stop offset="0.652" stop-color="#ec6405"/><stop offset="0.696" stop-color="#e95509"/><stop offset="0.739" stop-color="#e6490c"/><stop offset="0.783" stop-color="#e43f0f"/><stop offset="0.826" stop-color="#e13812"/><stop offset="0.87" stop-color="#df3216"/><stop offset="0.913" stop-color="#dd2e19"/><stop offset="0.957" stop-color="#dc2c1a"/><stop offset="1" stop-color="#dc2c1a"/></linearGradient><linearGradient id="gd38" gradientUnits="userSpaceOnUse" x1="361.1" x2="623.6" y1="0" y2="0"><stop offset="0" stop-color="#f8e637"/><stop offset="0.043" stop-color="#f7e52a"/><stop offset="0.087" stop-color="#f6e51b"/><stop offset="0.13" stop-color="#f5e40a"/><stop offset="0.174" stop-color="#f5e400"/><stop offset="0.217" stop-color="#f5e200"/><stop offset="0.261" stop-color="#f5e100"/><stop offset="0.304" stop-color="#f5dc00"/><stop offset="0.348" stop-color="#f5d300"/><stop offset="0.391" stop-color="#f5c800"/><stop offset="0.435" stop-color="#f5b600"/><stop offset="0.478" stop-color="#f5a500"/><stop offset="0.522" stop-color="#f39100"/><stop offset="0.565" stop-color="#f07f00"/><stop offset="0.609" stop-color="#ee6e03"/><stop offset="0.652" stop-color="#eb5f07"/><stop offset="0.696" stop-color="#e8500a"/><stop offset="0.739" stop-color="#e5430e"/><stop offset="0.783" stop-color="#e23a11"/><stop offset="0.826" stop-color="#df3315"/><stop offset="0.87" stop-color="#dd2e19"/><stop offset="0.913" stop-color="#dc2c1a"/><stop offset="0.957" stop-color="#dc2c1a"/><stop offset="1" stop-color="#dc2c1a"/></linearGradient><linearGradient id="gd39" gradientUnits="userSpaceOnUse" x1="361.1" x2="623.6" y1="0" y2="0"><stop offset="0" stop-color="#f7e52d"/><stop offset="0.043" stop-color="#f7e521"/><stop offset="0.087" stop-color="#f6e512"/><stop offset="0.13" stop-color="#f5e402"/><stop offset="0.174" stop-color="#f5e300"/><stop offset="0.217" stop-color="#f5e200"/><stop offset="0.261" stop-color="#f5e000"/><stop offset="0.304" stop-color="#f5da00"/><stop offset="0.348" stop-color="#f5d000"/><stop offset="0.391" stop-color="#f5c300"/><stop offset="0.435" stop-color="#f5b100"/><stop offset="0.478" stop-color="#f59f00"/><stop offset="0.522" stop-color="#f28c00"/><stop offset="0.565" stop-color="#f07901"/><stop offset="0.609" stop-color="#ed6904"/><stop offset="0.652" stop-color="#ea5908"/><stop offset="0.696" stop-color="#e74a0c"/><stop offset="0.739" stop-color="#e43e0f"/><stop offset="0.783" stop-color="#e13614"/><stop offset="0.826" stop-color="#de2f18"/><stop offset="0.87" stop-color="#dc2c1a"/><stop offset="0.913" stop-color="#dc2c1a"/><stop offset="0.957" stop-color="#dc2c1a"/><stop offset="1" stop-color="#dc2b1b"/></linearGradient><linearGradient id="gd40" gradientUnits="userSpaceOnUse" x1="361.1" x2="623.6" y1="0" y2="0"><stop offset="0" stop-color="#f7e523"/><stop offset="0.043" stop-color="#f6e517"/><stop offset="0.087" stop-color="#f5e409"/><stop offset="0.13" stop-color="#f5e400"/><stop offset="0.174" stop-color="#f5e300"/><stop offset="0.217" stop-color="#f5e100"/><stop offset="0.261" stop-color="#f5df00"/><stop offset="0.304" stop-color="#f5d700"/><stop offset="0.348" stop-color="#f5cd00"/><stop offset="0.391" stop-color="#f5be00"/><stop offset="0.435" stop-color="#f5ab00"/><stop offset="0.478" stop-color="#f49900"/><stop offset="0.522" stop-color="#f18600"/><stop offset="0.565" stop-color="#ef7302"/><stop offset="0.609" stop-color="#ec6306"/><stop offset="0.652" stop-color="#e95309"/><stop offset="0.696" stop-color="#e5440d"/><stop offset="0.739" stop-color="#e23912"/><stop offset="0.783" stop-color="#de3117"/><stop offset="0.826" stop-color="#dc2c1a"/><stop offset="0.87" stop-color="#dc2c1a"/><stop offset="0.913" stop-color="#dc2c1a"/><stop offset="0.957" stop-color="#dc2b1b"/><stop offset="1" stop-color="#dc2b1b"/></linearGradient><linearGradient id="gd41" gradientUnits="userSpaceOnUse" x1="361.1" x2="623.6" y1="0" y2="0"><stop offset="0" stop-color="#f6e518"/><stop offset="0.043" stop-color="#f6e40c"/><stop offset="0.087" stop-color="#f5e400"/><stop offset="0.13" stop-color="#f5e300"/><stop offset="0.174" stop-color="#f5e200"/><stop offset="0.217" stop-color="#f5e100"/><stop offset="0.261" stop-color="#f5dc00"/><stop offset="0.304" stop-color="#f5d300"/><stop offset="0.348" stop-color="#f5c900"/><stop offset="0.391" stop-color="#f5b800"/><stop offset="0.435" stop-color="#f5a500"/><stop offset="0.478" stop-color="#f39300"/><stop offset="0.522" stop-color="#f18000"/><stop offset="0.565" stop-color="#ed6c03"/><stop offset="0.609" stop-color="#eb5c07"/><stop offset="0.652" stop-color="#e74d0b"/><stop offset="0.696" stop-color="#e43e0f"/><stop offset="0.739" stop-color="#e03415"/><stop offset="0.783" stop-color="#dc2c1a"/><stop offset="0.826" stop-color="#dc2c1a"/><stop offset="0.87" stop-color="#dc2c1a"/><stop offset="0.913" stop-color="#dc2b1b"/><stop offset="0.957" stop-color="#dc2b1b"/><stop offset="1" stop-color="#dc2b1b"/></linearGradient><linearGradient id="gd42" gradientUnits="userSpaceOnUse" x1="361.1" x2="623.6" y1="0" y2="0"><stop offset="0" stop-color="#f6e40c"/><stop offset="0.043" stop-color="#f5e400"/><stop offset="0.087" stop-color="#f5e300"/><stop offset="0.13" stop-color="#f5e200"/><stop offset="0.174" stop-color="#f5e100"/><stop offset="0.217" stop-color="#f5e000"/><stop offset="0.261" stop-color="#f5d900"/><stop offset="0.304" stop-color="#f5d000"/><stop offset="0.348" stop-color="#f5c400"/><stop offset="0.391" stop-color="#f5b300"/><stop offset="0.435" stop-color="#f59f00"/><stop offset="0.478" stop-color="#f28d00"/><stop offset="0.522" stop-color="#f07901"/><stop offset="0.565" stop-color="#ec6605"/><stop offset="0.609" stop-color="#e95609"/><stop offset="0.652" stop-color="#e6460d"/><stop offset="0.696" stop-color="#e23812"/><stop offset="0.739" stop-color="#dd2f18"/><stop offset="0.783" stop-color="#dc2c1a"/><stop offset="0.826" stop-color="#dc2c1a"/><stop offset="0.87" stop-color="#dc2b1b"/><stop offset="0.913" stop-color="#dc2b1b"/><stop offset="0.957" stop-color="#dc2b1b"/><stop offset="1" stop-color="#dc2b1b"/></linearGradient><linearGradient id="gd43" gradientUnits="userSpaceOnUse" x1="361.1" x2="623.6" y1="0" y2="0"><stop offset="0" stop-color="#f5e401"/><stop offset="0.043" stop-color="#f5e300"/><stop offset="0.087" stop-color="#f5e300"/><stop offset="0.13" stop-color="#f5e200"/><stop offset="0.174" stop-color="#f5e100"/><stop offset="0.217" stop-color="#f5dd00"/><stop offset="0.261" stop-color="#f5d500"/><stop offset="0.304" stop-color="#f5cc00"/><stop offset="0.348" stop-color="#f5bf00"/><stop offset="0.391" stop-color="#f5ad00"/><stop offset="0.435" stop-color="#f49900"/><stop offset="0.478" stop-color="#f28700"/><stop offset="0.522" stop-color="#ee7302"/><stop offset="0.565" stop-color="#eb5f06"/><stop offset="0.609" stop-color="#e84f0b"/><stop offset="0.652" stop-color="#e4400f"/><stop offset="0.696" stop-color="#df3315"/><stop offset="0.739" stop-color="#dc2c1a"/><stop offset="0.783" stop-color="#dc2c1a"/><stop offset="0.826" stop-color="#dc2b1b"/><stop offset="0.87" stop-color="#dc2b1b"/><stop offset="0.913" stop-color="#dc2b1b"/><stop offset="0.957" stop-color="#dc2b1b"/><stop offset="1" stop-color="#dc2b1b"/></linearGradient><linearGradient id="gd44" gradientUnits="userSpaceOnUse" x1="361.1" x2="623.6" y1="0" y2="0"><stop offset="0" stop-color="#f5e300"/><stop offset="0.043" stop-color="#f5e300"/><stop offset="0.087" stop-color="#f5e200"/><stop offset="0.13" stop-color="#f5e100"/><stop offset="0.174" stop-color="#f5e000"/><stop offset="0.217" stop-color="#f5d900"/><stop offset="0.261" stop-color="#f5d200"/><stop offset="0.304" stop-color="#f5c800"/><stop offset="0.348" stop-color="#f5ba00"/><stop offset="0.391" stop-color="#f5a700"/><stop offset="0.435" stop-color="#f39300"/><stop offset="0.478" stop-color="#f18100"/><stop offset="0.522" stop-color="#ed6c04"/><stop offset="0.565" stop-color="#ea5808"/><stop offset="0.609" stop-color="#e6480c"/><stop offset="0.652" stop-color="#e23911"/><stop offset="0.696" stop-color="#dd2e19"/><stop offset="0.739" stop-color="#dc2c1a"/><stop offset="0.783" stop-color="#dc2b1b"/><stop offset="0.826" stop-color="#dc2b1b"/><stop offset="0.87" stop-color="#dc2b1b"/><stop offset="0.913" stop-color="#dc2b1b"/><stop offset="0.957" stop-color="#dc2b1b"/><stop offset="1" stop-color="#dc2a1c"/></linearGradient><linearGradient id="gd45" gradientUnits="userSpaceOnUse" x1="361.1" x2="623.6" y1="0" y2="0"><stop offset="0" stop-color="#f5e300"/><stop offset="0.043" stop-color="#f5e200"/><stop offset="0.087" stop-color="#f5e100"/><stop offset="0.13" stop-color="#f5e000"/><stop offset="0.174" stop-color="#f5dd00"/><stop offset="0.217" stop-color="#f5d600"/><stop offset="0.261" stop-color="#f5ce00"/><stop offset="0.304" stop-color="#f5c300"/><stop offset="0.348" stop-color="#f5b400"/><stop offset="0.391" stop-color="#f5a000"/><stop offset="0.435" stop-color="#f28d00"/><stop offset="0.478" stop-color="#f07b00"/><stop offset="0.522" stop-color="#ec6505"/><stop offset="0.565" stop-color="#e8510a"/><stop offset="0.609" stop-color="#e4410e"/><stop offset="0.652" stop-color="#e03415"/><stop offset="0.696" stop-color="#dc2c1a"/><stop offset="0.739" stop-color="#dc2c1a"/><stop offset="0.783" stop-color="#dc2b1b"/><stop offset="0.826" stop-color="#dc2b1b"/><stop offset="0.87" stop-color="#dc2b1b"/><stop offset="0.913" stop-color="#dc2b1b"/><stop offset="0.957" stop-color="#dc2a1c"/><stop offset="1" stop-color="#dc2a1c"/></linearGradient><linearGradient id="gd46" gradientUnits="userSpaceOnUse" x1="361.1" x2="623.6" y1="0" y2="0"><stop offset="0" stop-color="#f5e200"/><stop offset="0.043" stop-color="#f5e100"/><stop offset="0.087" stop-color="#f5e000"/><stop offset="0.13" stop-color="#f5de00"/><stop offset="0.174" stop-color="#f5d900"/><stop offset="0.217" stop-color="#f5d200"/><stop offset="0.261" stop-color="#f5ca00"/><stop offset="0.304" stop-color="#f5bd00"/><stop offset="0.348" stop-color="#f5ae00"/><stop offset="0.391" stop-color="#f49b00"/><stop offset="0.435" stop-color="#f28700"/><stop offset="0.478" stop-color="#ef7402"/><stop offset="0.522" stop-color="#eb5e07"/><stop offset="0.565" stop-color="#e74a0c"/><stop offset="0.609" stop-color="#e33a10"/><stop offset="0.652" stop-color="#dd2f18"/><stop offset="0.696" stop-color="#dc2c1a"/><stop offset="0.739" stop-color="#dc2b1b"/><stop offset="0.783" stop-color="#dc2b1b"/><stop offset="0.826" stop-color="#dc2b1b"/><stop offset="0.87" stop-color="#dc2b1b"/><stop offset="0.913" stop-color="#dc2a1c"/><stop offset="0.957" stop-color="#dc2a1c"/><stop offset="1" stop-color="#dc2a1c"/></linearGradient><linearGradient id="gd47" gradientUnits="userSpaceOnUse" x1="361.1" x2="623.6" y1="0" y2="0"><stop offset="0" stop-color="#f5e100"/><stop offset="0.043" stop-color="#f5e000"/><stop offset="0.087" stop-color="#f5de00"/><stop offset="0.13" stop-color="#f5da00"/><stop offset="0.174" stop-color="#f5d500"/><stop offset="0.217" stop-color="#f5ce00"/><stop offset="0.261" stop-color="#f5c500"/><stop offset="0.304" stop-color="#f5b700"/><stop offset="0.348" stop-color="#f5a700"/><stop offset="0.391" stop-color="#f39500"/><stop offset="0.435" stop-color="#f18100"/><stop offset="0.478" stop-color="#ed6d03"/><stop offset="0.522" stop-color="#ea5708"/><stop offset="0.565" stop-color="#e5430e"/><stop offset="0.609" stop-color="#e03514"/><stop offset="0.652" stop-color="#dc2c1a"/><stop offset="0.696" stop-color="#dc2b1b"/><stop offset="0.739" stop-color="#dc2b1b"/><stop offset="0.783" stop-color="#dc2b1b"/><stop offset="0.826" stop-color="#dc2b1b"/><stop offset="0.87" stop-color="#dc2a1c"/><stop offset="0.913" stop-color="#dc2a1c"/><stop offset="0.957" stop-color="#dc2a1c"/><stop offset="1" stop-color="#d72a1c"/></linearGradient><linearGradient id="gd48" gradientUnits="userSpaceOnUse" x1="361.1" x2="623.6" y1="0" y2="0"><stop offset="0" stop-color="#f5e000"/><stop offset="0.043" stop-color="#f5df00"/><stop offset="0.087" stop-color="#f5db00"/><stop offset="0.13" stop-color="#f5d700"/><stop offset="0.174" stop-color="#f5d100"/><stop offset="0.217" stop-color="#f5ca00"/><stop offset="0.261" stop-color="#f5c000"/><stop offset="0.304" stop-color="#f5b200"/><stop offset="0.348" stop-color="#f5a200"/><stop offset="0.391" stop-color="#f39000"/><stop offset="0.435" stop-color="#f07c00"/><stop offset="0.478" stop-color="#ed6705"/><stop offset="0.522" stop-color="#e8510a"/><stop offset="0.565" stop-color="#e43d0f"/><stop offset="0.609" stop-color="#de3017"/><stop offset="0.652" stop-color="#dc2c1a"/><stop offset="0.696" stop-color="#dc2b1b"/><stop offset="0.739" stop-color="#dc2b1b"/><stop offset="0.783" stop-color="#dc2b1b"/><stop offset="0.826" stop-color="#dc2a1c"/><stop offset="0.87" stop-color="#dc2a1c"/><stop offset="0.913" stop-color="#dc2a1c"/><stop offset="0.957" stop-color="#d72a1c"/><stop offset="1" stop-color="#d12a1c"/></linearGradient><linearGradient id="gd49" gradientUnits="userSpaceOnUse" x1="361.1" x2="623.6" y1="0" y2="0"><stop offset="0" stop-color="#f5df00"/><stop offset="0.043" stop-color="#f5db00"/><stop offset="0.087" stop-color="#f5d800"/><stop offset="0.13" stop-color="#f5d300"/><stop offset="0.174" stop-color="#f5ce00"/><stop offset="0.217" stop-color="#f5c600"/><stop offset="0.261" stop-color="#f5bb00"/><stop offset="0.304" stop-color="#f5ad00"/><stop offset="0.348" stop-color="#f59d00"/><stop offset="0.391" stop-color="#f28b00"/><stop offset="0.435" stop-color="#ef7601"/><stop offset="0.478" stop-color="#ec6206"/><stop offset="0.522" stop-color="#e74b0b"/><stop offset="0.565" stop-color="#e23812"/><stop offset="0.609" stop-color="#dc2c1a"/><stop offset="0.652" stop-color="#dc2c1a"/><stop offset="0.696" stop-color="#dc2b1b"/><stop offset="0.739" stop-color="#dc2b1b"/><stop offset="0.783" stop-color="#dc2a1c"/><stop offset="0.826" stop-color="#dc2a1c"/><stop offset="0.87" stop-color="#dc2a1c"/><stop offset="0.913" stop-color="#d72a1c"/><stop offset="0.957" stop-color="#d22a1c"/><stop offset="1" stop-color="#ca291b"/></linearGradient><linearGradient id="gd50" gradientUnits="userSpaceOnUse" x1="361.1" x2="623.6" y1="0" y2="0"><stop offset="0" stop-color="#f5db00"/><stop offset="0.043" stop-color="#f5d800"/><stop offset="0.087" stop-color="#f5d400"/><stop offset="0.13" stop-color="#f5d000"/><stop offset="0.174" stop-color="#f5ca00"/><stop offset="0.217" stop-color="#f5c100"/><stop offset="0.261" stop-color="#f5b500"/><stop offset="0.304" stop-color="#f5a700"/><stop offset="0.348" stop-color="#f49800"/><stop offset="0.391" stop-color="#f18600"/><stop offset="0.435" stop-color="#ee7102"/><stop offset="0.478" stop-color="#eb5c07"/><stop offset="0.522" stop-color="#e6460d"/><stop offset="0.565" stop-color="#e03415"/><stop offset="0.609" stop-color="#dc2c1a"/><stop offset="0.652" stop-color="#dc2b1b"/><stop offset="0.696" stop-color="#dc2b1b"/><stop offset="0.739" stop-color="#dc2b1b"/><stop offset="0.783" stop-color="#dc2a1c"/><stop offset="0.826" stop-color="#dc2a1c"/><stop offset="0.87" stop-color="#d82a1c"/><stop offset="0.913" stop-color="#d22a1c"/><stop offset="0.957" stop-color="#cb291b"/><stop offset="1" stop-color="#c2271a"/></linearGradient><linearGradient id="gd51" gradientUnits="userSpaceOnUse" x1="361.1" x2="623.6" y1="0" y2="0"><stop offset="0" stop-color="#f5d800"/><stop offset="0.043" stop-color="#f5d400"/><stop offset="0.087" stop-color="#f5d100"/><stop offset="0.13" stop-color="#f5cc00"/><stop offset="0.174" stop-color="#f5c600"/><stop offset="0.217" stop-color="#f5bc00"/><stop offset="0.261" stop-color="#f5b000"/><stop offset="0.304" stop-color="#f5a100"/><stop offset="0.348" stop-color="#f39200"/><stop offset="0.391" stop-color="#f18000"/><stop offset="0.435" stop-color="#ed6b04"/><stop offset="0.478" stop-color="#ea5708"/><stop offset="0.522" stop-color="#e4400f"/><stop offset="0.565" stop-color="#de2f18"/><stop offset="0.609" stop-color="#dc2c1a"/><stop offset="0.652" stop-color="#dc2b1b"/><stop offset="0.696" stop-color="#dc2b1b"/><stop offset="0.739" stop-color="#dc2a1c"/><stop offset="0.783" stop-color="#dc2a1c"/><stop offset="0.826" stop-color="#d92a1c"/><stop offset="0.87" stop-color="#d32a1c"/><stop offset="0.913" stop-color="#cc291b"/><stop offset="0.957" stop-color="#c3281a"/><stop offset="1" stop-color="#ba2619"/></linearGradient><linearGradient id="gd52" gradientUnits="userSpaceOnUse" x1="361.1" x2="623.6" y1="0" y2="0"><stop offset="0" stop-color="#f5d400"/><stop offset="0.043" stop-color="#f5d100"/><stop offset="0.087" stop-color="#f5cd00"/><stop offset="0.13" stop-color="#f5c900"/><stop offset="0.174" stop-color="#f5c100"/><stop offset="0.217" stop-color="#f5b700"/><stop offset="0.261" stop-color="#f5aa00"/><stop offset="0.304" stop-color="#f49c00"/><stop offset="0.348" stop-color="#f28d00"/><stop offset="0.391" stop-color="#f07b00"/><stop offset="0.435" stop-color="#ec6605"/><stop offset="0.478" stop-color="#e8520a"/><stop offset="0.522" stop-color="#e33b10"/><stop offset="0.565" stop-color="#dc2c1a"/><stop offset="0.609" stop-color="#dc2b1b"/><stop offset="0.652" stop-color="#dc2b1b"/><stop offset="0.696" stop-color="#dc2b1b"/><stop offset="0.739" stop-color="#dc2a1c"/><stop offset="0.783" stop-color="#dc2a1c"/><stop offset="0.826" stop-color="#d52a1c"/><stop offset="0.87" stop-color="#cd291c"/><stop offset="0.913" stop-color="#c4281b"/><stop offset="0.957" stop-color="#bb2619"/><stop offset="1" stop-color="#b22418"/></linearGradient><linearGradient id="gd53" gradientUnits="userSpaceOnUse" x1="361.1" x2="623.6" y1="0" y2="0"><stop offset="0" stop-color="#f5d100"/><stop offset="0.043" stop-color="#f5cd00"/><stop offset="0.087" stop-color="#f5ca00"/><stop offset="0.13" stop-color="#f5c400"/><stop offset="0.174" stop-color="#f5bc00"/><stop offset="0.217" stop-color="#f5b200"/><stop offset="0.261" stop-color="#f5a500"/><stop offset="0.304" stop-color="#f49700"/><stop offset="0.348" stop-color="#f28800"/><stop offset="0.391" stop-color="#ef7601"/><stop offset="0.435" stop-color="#eb6106"/><stop offset="0.478" stop-color="#e74c0b"/><stop offset="0.522" stop-color="#e13713"/><stop offset="0.565" stop-color="#dc2c1a"/><stop offset="0.609" stop-color="#dc2b1b"/><stop offset="0.652" stop-color="#dc2b1b"/><stop offset="0.696" stop-color="#dc2b1b"/><stop offset="0.739" stop-color="#dc2a1c"/><stop offset="0.783" stop-color="#d82a1c"/><stop offset="0.826" stop-color="#cf2a1c"/><stop offset="0.87" stop-color="#c5281b"/><stop offset="0.913" stop-color="#bd261a"/><stop offset="0.957" stop-color="#b42518"/><stop offset="1" stop-color="#a92318"/></linearGradient><linearGradient id="gd54" gradientUnits="userSpaceOnUse" x1="361.1" x2="623.6" y1="0" y2="0"><stop offset="0" stop-color="#f5cd00"/><stop offset="0.043" stop-color="#f5ca00"/><stop offset="0.087" stop-color="#f5c500"/><stop offset="0.13" stop-color="#f5bf00"/><stop offset="0.174" stop-color="#f5b700"/><stop offset="0.217" stop-color="#f5ac00"/><stop offset="0.261" stop-color="#f5a000"/><stop offset="0.304" stop-color="#f39200"/><stop offset="0.348" stop-color="#f18300"/><stop offset="0.391" stop-color="#ee7003"/><stop offset="0.435" stop-color="#eb5b07"/><stop offset="0.478" stop-color="#e6470d"/><stop offset="0.522" stop-color="#df3316"/><stop offset="0.565" stop-color="#dc2c1a"/><stop offset="0.609" stop-color="#dc2b1b"/><stop offset="0.652" stop-color="#dc2b1b"/><stop offset="0.696" stop-color="#dc2a1c"/><stop offset="0.739" stop-color="#dc2a1c"/><stop offset="0.783" stop-color="#d32a1c"/><stop offset="0.826" stop-color="#c8281b"/><stop offset="0.87" stop-color="#be271a"/><stop offset="0.913" stop-color="#b52519"/><stop offset="0.957" stop-color="#ab2318"/><stop offset="1" stop-color="#a02217"/></linearGradient><linearGradient id="gd55" gradientUnits="userSpaceOnUse" x1="361.1" x2="623.6" y1="0" y2="0"><stop offset="0" stop-color="#f5ca00"/><stop offset="0.043" stop-color="#f5c600"/><stop offset="0.087" stop-color="#f5c000"/><stop offset="0.13" stop-color="#f5ba00"/><stop offset="0.174" stop-color="#f5b200"/><stop offset="0.217" stop-color="#f5a700"/><stop offset="0.261" stop-color="#f49b00"/><stop offset="0.304" stop-color="#f28e00"/><stop offset="0.348" stop-color="#f07e00"/><stop offset="0.391" stop-color="#ed6b04"/><stop offset="0.435" stop-color="#ea5608"/><stop offset="0.478" stop-color="#e5420e"/><stop offset="0.522" stop-color="#dd2f18"/><stop offset="0.565" stop-color="#dc2c1a"/><stop offset="0.609" stop-color="#dc2b1b"/><stop offset="0.652" stop-color="#dc2b1b"/><stop offset="0.696" stop-color="#dc2a1c"/><stop offset="0.739" stop-color="#d82a1c"/><stop offset="0.783" stop-color="#cd291c"/><stop offset="0.826" stop-color="#c0271a"/><stop offset="0.87" stop-color="#b72519"/><stop offset="0.913" stop-color="#ae2418"/><stop offset="0.957" stop-color="#a32217"/><stop offset="1" stop-color="#982017"/></linearGradient><linearGradient id="gd56" gradientUnits="userSpaceOnUse" x1="361.1" x2="623.6" y1="0" y2="0"><stop offset="0" stop-color="#f5c600"/><stop offset="0.043" stop-color="#f5c100"/><stop offset="0.087" stop-color="#f5bc00"/><stop offset="0.13" stop-color="#f5b500"/><stop offset="0.174" stop-color="#f5ad00"/><stop offset="0.217" stop-color="#f5a300"/><stop offset="0.261" stop-color="#f49700"/><stop offset="0.304" stop-color="#f28900"/><stop offset="0.348" stop-color="#f07901"/><stop offset="0.391" stop-color="#ec6605"/><stop offset="0.435" stop-color="#e8520a"/><stop offset="0.478" stop-color="#e43e0f"/><stop offset="0.522" stop-color="#dc2c1a"/><stop offset="0.565" stop-color="#dc2b1b"/><stop offset="0.609" stop-color="#dc2b1b"/><stop offset="0.652" stop-color="#dc2a1c"/><stop offset="0.696" stop-color="#dc2a1c"/><stop offset="0.739" stop-color="#d42a1c"/><stop offset="0.783" stop-color="#c7281b"/><stop offset="0.826" stop-color="#b92619"/><stop offset="0.87" stop-color="#b02418"/><stop offset="0.913" stop-color="#a72318"/><stop offset="0.957" stop-color="#9c2117"/><stop offset="1" stop-color="#911f16"/></linearGradient><linearGradient id="gd57" gradientUnits="userSpaceOnUse" x1="361.1" x2="623.6" y1="0" y2="0"><stop offset="0" stop-color="#f5c200"/><stop offset="0.043" stop-color="#f5bd00"/><stop offset="0.087" stop-color="#f5b800"/><stop offset="0.13" stop-color="#f5b100"/><stop offset="0.174" stop-color="#f5a900"/><stop offset="0.217" stop-color="#f59e00"/><stop offset="0.261" stop-color="#f39300"/><stop offset="0.304" stop-color="#f18500"/><stop offset="0.348" stop-color="#ef7502"/><stop offset="0.391" stop-color="#ec6106"/><stop offset="0.435" stop-color="#e74d0b"/><stop offset="0.478" stop-color="#e23a11"/><stop offset="0.522" stop-color="#dc2c1a"/><stop offset="0.565" stop-color="#dc2b1b"/><stop offset="0.609" stop-color="#dc2b1b"/><stop offset="0.652" stop-color="#dc2a1c"/><stop offset="0.696" stop-color="#db2a1c"/><stop offset="0.739" stop-color="#d02a1c"/><stop offset="0.783" stop-color="#c0271a"/><stop offset="0.826" stop-color="#b32518"/><stop offset="0.87" stop-color="#a92318"/><stop offset="0.913" stop-color="#a02117"/><stop offset="0.957" stop-color="#952017"/><stop offset="1" stop-color="#891e16"/></linearGradient><linearGradient id="gd58" gradientUnits="userSpaceOnUse" x1="361.1" x2="623.6" y1="0" y2="0"><stop offset="0" stop-color="#f5be00"/><stop offset="0.043" stop-color="#f5b900"/><stop offset="0.087" stop-color="#f5b300"/><stop offset="0.13" stop-color="#f5ac00"/><stop offset="0.174" stop-color="#f5a400"/><stop offset="0.217" stop-color="#f49a00"/><stop offset="0.261" stop-color="#f38f00"/><stop offset="0.304" stop-color="#f18100"/><stop offset="0.348" stop-color="#ee7003"/><stop offset="0.391" stop-color="#eb5d07"/><stop offset="0.435" stop-color="#e6480c"/><stop offset="0.478" stop-color="#e13613"/><stop offset="0.522" stop-color="#dc2c1a"/><stop offset="0.565" stop-color="#dc2b1b"/><stop offset="0.609" stop-color="#dc2b1b"/><stop offset="0.652" stop-color="#dc2a1c"/><stop offset="0.696" stop-color="#d82a1c"/><stop offset="0.739" stop-color="#ca291b"/><stop offset="0.783" stop-color="#b92619"/><stop offset="0.826" stop-color="#ab2318"/><stop offset="0.87" stop-color="#a22217"/><stop offset="0.913" stop-color="#992017"/><stop offset="0.957" stop-color="#8e1f16"/><stop offset="1" stop-color="#801e16"/></linearGradient><linearGradient id="gd59" gradientUnits="userSpaceOnUse" x1="361.1" x2="623.6" y1="0" y2="0"><stop offset="0" stop-color="#f5ba00"/><stop offset="0.043" stop-color="#f5b500"/><stop offset="0.087" stop-color="#f5af00"/><stop offset="0.13" stop-color="#f5a800"/><stop offset="0.174" stop-color="#f5a000"/><stop offset="0.217" stop-color="#f49700"/><stop offset="0.261" stop-color="#f28b00"/><stop offset="0.304" stop-color="#f07d00"/><stop offset="0.348" stop-color="#ed6c04"/><stop offset="0.391" stop-color="#ea5908"/><stop offset="0.435" stop-color="#e5440d"/><stop offset="0.478" stop-color="#df3315"/><stop offset="0.522" stop-color="#dc2c1a"/><stop offset="0.565" stop-color="#dc2b1b"/><stop offset="0.609" stop-color="#dc2b1b"/><stop offset="0.652" stop-color="#dc2a1c"/><stop offset="0.696" stop-color="#d42a1c"/><stop offset="0.739" stop-color="#c5281b"/><stop offset="0.783" stop-color="#b42518"/><stop offset="0.826" stop-color="#a52217"/><stop offset="0.87" stop-color="#9c2117"/><stop offset="0.913" stop-color="#931f16"/><stop offset="0.957" stop-color="#881e16"/><stop offset="1" stop-color="#791d16"/></linearGradient><linearGradient id="gd60" gradientUnits="userSpaceOnUse" x1="361.1" x2="623.6" y1="0" y2="0"><stop offset="0" stop-color="#f5b600"/><stop offset="0.043" stop-color="#f5b100"/><stop offset="0.087" stop-color="#f5ab00"/><stop offset="0.13" stop-color="#f5a500"/><stop offset="0.174" stop-color="#f59d00"/><stop offset="0.217" stop-color="#f39300"/><stop offset="0.261" stop-color="#f28800"/><stop offset="0.304" stop-color="#f07901"/><stop offset="0.348" stop-color="#ed6804"/><stop offset="0.391" stop-color="#e95509"/><stop offset="0.435" stop-color="#e4410e"/><stop offset="0.478" stop-color="#de3017"/><stop offset="0.522" stop-color="#dc2c1a"/><stop offset="0.565" stop-color="#dc2b1b"/><stop offset="0.609" stop-color="#dc2a1c"/><stop offset="0.652" stop-color="#dc2a1c"/><stop offset="0.696" stop-color="#d12a1c"/><stop offset="0.739" stop-color="#c0271a"/><stop offset="0.783" stop-color="#ae2418"/><stop offset="0.826" stop-color="#9e2117"/><stop offset="0.87" stop-color="#962017"/><stop offset="0.913" stop-color="#8e1f16"/><stop offset="0.957" stop-color="#811e16"/><stop offset="1" stop-color="#721d16"/></linearGradient><linearGradient id="gd61" gradientUnits="userSpaceOnUse" x1="361.1" x2="623.6" y1="0" y2="0"><stop offset="0" stop-color="#f5b200"/><stop offset="0.043" stop-color="#f5ad00"/><stop offset="0.087" stop-color="#f5a800"/><stop offset="0.13" stop-color="#f5a100"/><stop offset="0.174" stop-color="#f49900"/><stop offset="0.217" stop-color="#f39000"/><stop offset="0.261" stop-color="#f18400"/><stop offset="0.304" stop-color="#ef7601"/><stop offset="0.348" stop-color="#ec6405"/><stop offset="0.391" stop-color="#e8510a"/><stop offset="0.435" stop-color="#e43d0f"/><stop offset="0.478" stop-color="#dd2e19"/><stop offset="0.522" stop-color="#dc2b1b"/><stop offset="0.565" stop-color="#dc2b1b"/><stop offset="0.609" stop-color="#dc2a1c"/><stop offset="0.652" stop-color="#da2a1c"/><stop offset="0.696" stop-color="#cc291c"/><stop offset="0.739" stop-color="#ba2619"/><stop offset="0.783" stop-color="#a82318"/><stop offset="0.826" stop-color="#992017"/><stop offset="0.87" stop-color="#911f16"/><stop offset="0.913" stop-color="#881e16"/><stop offset="0.957" stop-color="#7a1d16"/><stop offset="1" stop-color="#6b1d16"/></linearGradient><linearGradient id="gd62" gradientUnits="userSpaceOnUse" x1="361.1" x2="623.6" y1="0" y2="0"><stop offset="0" stop-color="#f5af00"/><stop offset="0.043" stop-color="#f5aa00"/><stop offset="0.087" stop-color="#f5a400"/><stop offset="0.13" stop-color="#f59d00"/><stop offset="0.174" stop-color="#f49600"/><stop offset="0.217" stop-color="#f28d00"/><stop offset="0.261" stop-color="#f18100"/><stop offset="0.304" stop-color="#ee7202"/><stop offset="0.348" stop-color="#eb6106"/><stop offset="0.391" stop-color="#e84e0b"/><stop offset="0.435" stop-color="#e33a11"/><stop offset="0.478" stop-color="#dc2c1a"/><stop offset="0.522" stop-color="#dc2b1b"/><stop offset="0.565" stop-color="#dc2b1b"/><stop offset="0.609" stop-color="#dc2a1c"/><stop offset="0.652" stop-color="#d72a1c"/><stop offset="0.696" stop-color="#c7281b"/><stop offset="0.739" stop-color="#b52519"/><stop offset="0.783" stop-color="#a22217"/><stop offset="0.826" stop-color="#931f16"/><stop offset="0.87" stop-color="#8b1e16"/><stop offset="0.913" stop-color="#811e16"/><stop offset="0.957" stop-color="#741d16"/><stop offset="1" stop-color="#651c16"/></linearGradient><linearGradient id="gd63" gradientUnits="userSpaceOnUse" x1="361.1" x2="623.6" y1="0" y2="0"><stop offset="0" stop-color="#f5ac00"/><stop offset="0.043" stop-color="#f5a600"/><stop offset="0.087" stop-color="#f5a100"/><stop offset="0.13" stop-color="#f49a00"/><stop offset="0.174" stop-color="#f39300"/><stop offset="0.217" stop-color="#f28a00"/><stop offset="0.261" stop-color="#f07e00"/><stop offset="0.304" stop-color="#ee6f03"/><stop offset="0.348" stop-color="#eb5e07"/><stop offset="0.391" stop-color="#e74b0c"/><stop offset="0.435" stop-color="#e23812"/><stop offset="0.478" stop-color="#dc2c1a"/><stop offset="0.522" stop-color="#dc2b1b"/><stop offset="0.565" stop-color="#dc2b1b"/><stop offset="0.609" stop-color="#dc2a1c"/><stop offset="0.652" stop-color="#d42a1c"/><stop offset="0.696" stop-color="#c2271a"/><stop offset="0.739" stop-color="#af2418"/><stop offset="0.783" stop-color="#9c2117"/><stop offset="0.826" stop-color="#8e1f16"/><stop offset="0.87" stop-color="#851e16"/><stop offset="0.913" stop-color="#7b1d16"/><stop offset="0.957" stop-color="#6e1d16"/><stop offset="1" stop-color="#601c16"/></linearGradient><linearGradient id="gd64" gradientUnits="userSpaceOnUse" x1="361.1" x2="623.6" y1="0" y2="0"><stop offset="0" stop-color="#f5a800"/><stop offset="0.043" stop-color="#f5a300"/><stop offset="0.087" stop-color="#f59e00"/><stop offset="0.13" stop-color="#f49700"/><stop offset="0.174" stop-color="#f39000"/><stop offset="0.217" stop-color="#f18700"/><stop offset="0.261" stop-color="#f07b00"/><stop offset="0.304" stop-color="#ed6c04"/><stop offset="0.348" stop-color="#eb5b07"/><stop offset="0.391" stop-color="#e6480c"/><stop offset="0.435" stop-color="#e13613"/><stop offset="0.478" stop-color="#dc2c1a"/><stop offset="0.522" stop-color="#dc2b1b"/><stop offset="0.565" stop-color="#dc2b1b"/><stop offset="0.609" stop-color="#dc2a1c"/><stop offset="0.652" stop-color="#d22a1c"/><stop offset="0.696" stop-color="#be271a"/><stop offset="0.739" stop-color="#aa2318"/><stop offset="0.783" stop-color="#972017"/><stop offset="0.826" stop-color="#8a1e16"/><stop offset="0.87" stop-color="#7f1e16"/><stop offset="0.913" stop-color="#751d16"/><stop offset="0.957" stop-color="#691d16"/><stop offset="1" stop-color="#5b1c16"/></linearGradient><linearGradient id="gd65" gradientUnits="userSpaceOnUse" x1="361.1" x2="623.6" y1="0" y2="0"><stop offset="0" stop-color="#f5a500"/><stop offset="0.043" stop-color="#f5a000"/><stop offset="0.087" stop-color="#f49b00"/><stop offset="0.13" stop-color="#f39500"/><stop offset="0.174" stop-color="#f28d00"/><stop offset="0.217" stop-color="#f18400"/><stop offset="0.261" stop-color="#ef7801"/><stop offset="0.304" stop-color="#ed6904"/><stop offset="0.348" stop-color="#ea5908"/><stop offset="0.391" stop-color="#e6460d"/><stop offset="0.435" stop-color="#e03415"/><stop offset="0.478" stop-color="#dc2c1a"/><stop offset="0.522" stop-color="#dc2b1b"/><stop offset="0.565" stop-color="#dc2a1c"/><stop offset="0.609" stop-color="#dc2a1c"/><stop offset="0.652" stop-color="#cf2a1c"/><stop offset="0.696" stop-color="#ba2619"/><stop offset="0.739" stop-color="#a42217"/><stop offset="0.783" stop-color="#921f16"/><stop offset="0.826" stop-color="#841e16"/><stop offset="0.87" stop-color="#791d16"/><stop offset="0.913" stop-color="#701d16"/><stop offset="0.957" stop-color="#641c16"/><stop offset="1" stop-color="#561c16"/></linearGradient><linearGradient id="gd66" gradientUnits="userSpaceOnUse" x1="361.1" x2="623.6" y1="0" y2="0"><stop offset="0" stop-color="#f5a200"/><stop offset="0.043" stop-color="#f59d00"/><stop offset="0.087" stop-color="#f49800"/><stop offset="0.13" stop-color="#f39200"/><stop offset="0.174" stop-color="#f28a00"/><stop offset="0.217" stop-color="#f18100"/><stop offset="0.261" stop-color="#ef7502"/><stop offset="0.304" stop-color="#ec6605"/><stop offset="0.348" stop-color="#ea5609"/><stop offset="0.391" stop-color="#e5430e"/><stop offset="0.435" stop-color="#df3216"/><stop offset="0.478" stop-color="#dc2c1a"/><stop offset="0.522" stop-color="#dc2b1b"/><stop offset="0.565" stop-color="#dc2a1c"/><stop offset="0.609" stop-color="#da2a1c"/><stop offset="0.652" stop-color="#cb291b"/><stop offset="0.696" stop-color="#b52519"/><stop offset="0.739" stop-color="#9f2117"/><stop offset="0.783" stop-color="#8d1e16"/><stop offset="0.826" stop-color="#7e1e16"/><stop offset="0.87" stop-color="#741d16"/><stop offset="0.913" stop-color="#6a1d16"/><stop offset="0.957" stop-color="#5f1c16"/><stop offset="1" stop-color="#501b16"/></linearGradient><linearGradient id="gd67" gradientUnits="userSpaceOnUse" x1="361.1" x2="623.6" y1="0" y2="0"><stop offset="0" stop-color="#f59f00"/><stop offset="0.043" stop-color="#f49b00"/><stop offset="0.087" stop-color="#f49500"/><stop offset="0.13" stop-color="#f38f00"/><stop offset="0.174" stop-color="#f28800"/><stop offset="0.217" stop-color="#f07f00"/><stop offset="0.261" stop-color="#ee7302"/><stop offset="0.304" stop-color="#ec6405"/><stop offset="0.348" stop-color="#e95409"/><stop offset="0.391" stop-color="#e4410e"/><stop offset="0.435" stop-color="#de3017"/><stop offset="0.478" stop-color="#dc2c1a"/><stop offset="0.522" stop-color="#dc2b1b"/><stop offset="0.565" stop-color="#dc2a1c"/><stop offset="0.609" stop-color="#d82a1c"/><stop offset="0.652" stop-color="#c8281b"/><stop offset="0.696" stop-color="#b22418"/><stop offset="0.739" stop-color="#9b2117"/><stop offset="0.783" stop-color="#881e16"/><stop offset="0.826" stop-color="#7a1d16"/><stop offset="0.87" stop-color="#6f1d16"/><stop offset="0.913" stop-color="#661c16"/><stop offset="0.957" stop-color="#5b1c16"/><stop offset="1" stop-color="#4c1a16"/></linearGradient><linearGradient id="gd68" gradientUnits="userSpaceOnUse" x1="361.1" x2="623.6" y1="0" y2="0"><stop offset="0" stop-color="#f59d00"/><stop offset="0.043" stop-color="#f49800"/><stop offset="0.087" stop-color="#f39300"/><stop offset="0.13" stop-color="#f28d00"/><stop offset="0.174" stop-color="#f18500"/><stop offset="0.217" stop-color="#f07c00"/><stop offset="0.261" stop-color="#ee7003"/><stop offset="0.304" stop-color="#ec6206"/><stop offset="0.348" stop-color="#e8520a"/><stop offset="0.391" stop-color="#e43f0f"/><stop offset="0.435" stop-color="#dd2e18"/><stop offset="0.478" stop-color="#dc2c1a"/><stop offset="0.522" stop-color="#dc2b1b"/><stop offset="0.565" stop-color="#dc2a1c"/><stop offset="0.609" stop-color="#d62a1c"/><stop offset="0.652" stop-color="#c4281b"/><stop offset="0.696" stop-color="#af2418"/><stop offset="0.739" stop-color="#972017"/><stop offset="0.783" stop-color="#841e16"/><stop offset="0.826" stop-color="#751d16"/><stop offset="0.87" stop-color="#6b1d16"/><stop offset="0.913" stop-color="#611c16"/><stop offset="0.957" stop-color="#561c16"/><stop offset="1" stop-color="#471a16"/></linearGradient><linearGradient id="gd69" gradientUnits="userSpaceOnUse" x1="361.1" x2="623.6" y1="0" y2="0"><stop offset="0" stop-color="#f49a00"/><stop offset="0.043" stop-color="#f49600"/><stop offset="0.087" stop-color="#f39000"/><stop offset="0.13" stop-color="#f28a00"/><stop offset="0.174" stop-color="#f18300"/><stop offset="0.217" stop-color="#f07a00"/><stop offset="0.261" stop-color="#ee6e03"/><stop offset="0.304" stop-color="#eb5f06"/><stop offset="0.348" stop-color="#e84f0a"/><stop offset="0.391" stop-color="#e33d0f"/><stop offset="0.435" stop-color="#dc2d19"/><stop offset="0.478" stop-color="#dc2b1b"/><stop offset="0.522" stop-color="#dc2b1b"/><stop offset="0.565" stop-color="#dc2a1c"/><stop offset="0.609" stop-color="#d42a1c"/><stop offset="0.652" stop-color="#c1271a"/><stop offset="0.696" stop-color="#ab2318"/><stop offset="0.739" stop-color="#942017"/><stop offset="0.783" stop-color="#801e16"/><stop offset="0.826" stop-color="#711d16"/><stop offset="0.87" stop-color="#661d16"/><stop offset="0.913" stop-color="#5d1c16"/><stop offset="0.957" stop-color="#511b16"/><stop offset="1" stop-color="#421916"/></linearGradient><linearGradient id="gd70" gradientUnits="userSpaceOnUse" x1="361.1" x2="623.6" y1="0" y2="0"><stop offset="0" stop-color="#f49800"/><stop offset="0.043" stop-color="#f39300"/><stop offset="0.087" stop-color="#f38e00"/><stop offset="0.13" stop-color="#f28800"/><stop offset="0.174" stop-color="#f18100"/><stop offset="0.217" stop-color="#ef7701"/><stop offset="0.261" stop-color="#ed6b04"/><stop offset="0.304" stop-color="#eb5d07"/><stop offset="0.348" stop-color="#e74d0b"/><stop offset="0.391" stop-color="#e33b10"/><stop offset="0.435" stop-color="#dc2c1a"/><stop offset="0.478" stop-color="#dc2b1b"/><stop offset="0.522" stop-color="#dc2b1b"/><stop offset="0.565" stop-color="#dc2a1c"/><stop offset="0.609" stop-color="#d22a1c"/><stop offset="0.652" stop-color="#be271a"/><stop offset="0.696" stop-color="#a82318"/><stop offset="0.739" stop-color="#911f16"/><stop offset="0.783" stop-color="#7c1d16"/><stop offset="0.826" stop-color="#6d1d16"/><stop offset="0.87" stop-color="#621c16"/><stop offset="0.913" stop-color="#591c16"/><stop offset="0.957" stop-color="#4c1a16"/><stop offset="1" stop-color="#3e1916"/></linearGradient><linearGradient id="gd71" gradientUnits="userSpaceOnUse" x1="361.1" x2="623.6" y1="0" y2="0"><stop offset="0" stop-color="#f49600"/><stop offset="0.043" stop-color="#f39100"/><stop offset="0.087" stop-color="#f28c00"/><stop offset="0.13" stop-color="#f18600"/><stop offset="0.174" stop-color="#f07f00"/><stop offset="0.217" stop-color="#ef7501"/><stop offset="0.261" stop-color="#ed6904"/><stop offset="0.304" stop-color="#eb5b07"/><stop offset="0.348" stop-color="#e74b0b"/><stop offset="0.391" stop-color="#e23911"/><stop offset="0.435" stop-color="#dc2c1a"/><stop offset="0.478" stop-color="#dc2b1b"/><stop offset="0.522" stop-color="#dc2b1b"/><stop offset="0.565" stop-color="#dc2a1c"/><stop offset="0.609" stop-color="#cf2a1c"/><stop offset="0.652" stop-color="#bb2619"/><stop offset="0.696" stop-color="#a52217"/><stop offset="0.739" stop-color="#8e1f16"/><stop offset="0.783" stop-color="#791d16"/><stop offset="0.826" stop-color="#6a1d16"/><stop offset="0.87" stop-color="#5f1c16"/><stop offset="0.913" stop-color="#541b16"/><stop offset="0.957" stop-color="#481a16"/><stop offset="1" stop-color="#3a1816"/></linearGradient><linearGradient id="gd72" gradientUnits="userSpaceOnUse" x1="361.1" x2="623.6" y1="0" y2="0"><stop offset="0" stop-color="#f39400"/><stop offset="0.043" stop-color="#f38f00"/><stop offset="0.087" stop-color="#f28a00"/><stop offset="0.13" stop-color="#f18400"/><stop offset="0.174" stop-color="#f07d00"/><stop offset="0.217" stop-color="#ef7302"/><stop offset="0.261" stop-color="#ed6705"/><stop offset="0.304" stop-color="#ea5a08"/><stop offset="0.348" stop-color="#e74a0c"/><stop offset="0.391" stop-color="#e23812"/><stop offset="0.435" stop-color="#dc2c1a"/><stop offset="0.478" stop-color="#dc2b1b"/><stop offset="0.522" stop-color="#dc2b1b"/><stop offset="0.565" stop-color="#dc2a1c"/><stop offset="0.609" stop-color="#cc291c"/><stop offset="0.652" stop-color="#b82619"/><stop offset="0.696" stop-color="#a22217"/><stop offset="0.739" stop-color="#8c1e16"/><stop offset="0.783" stop-color="#761d16"/><stop offset="0.826" stop-color="#661d16"/><stop offset="0.87" stop-color="#5b1c16"/><stop offset="0.913" stop-color="#4f1b16"/><stop offset="0.957" stop-color="#441916"/><stop offset="1" stop-color="#361816"/></linearGradient><linearGradient id="gd73" gradientUnits="userSpaceOnUse" x1="361.1" x2="623.6" y1="0" y2="0"><stop offset="0" stop-color="#f39200"/><stop offset="0.043" stop-color="#f28d00"/><stop offset="0.087" stop-color="#f28800"/><stop offset="0.13" stop-color="#f18200"/><stop offset="0.174" stop-color="#f07b00"/><stop offset="0.217" stop-color="#ee7102"/><stop offset="0.261" stop-color="#ec6505"/><stop offset="0.304" stop-color="#ea5808"/><stop offset="0.348" stop-color="#e6480c"/><stop offset="0.391" stop-color="#e13713"/><stop offset="0.435" stop-color="#dc2c1a"/><stop offset="0.478" stop-color="#dc2b1b"/><stop offset="0.522" stop-color="#dc2b1b"/><stop offset="0.565" stop-color="#da2a1c"/><stop offset="0.609" stop-color="#c9291b"/><stop offset="0.652" stop-color="#b52519"/><stop offset="0.696" stop-color="#9e2117"/><stop offset="0.739" stop-color="#891e16"/><stop offset="0.783" stop-color="#731d16"/><stop offset="0.826" stop-color="#631c16"/><stop offset="0.87" stop-color="#571c16"/><stop offset="0.913" stop-color="#4b1a16"/><stop offset="0.957" stop-color="#3f1916"/><stop offset="1" stop-color="#331716"/></linearGradient><linearGradient id="gd74" gradientUnits="userSpaceOnUse" x1="361.1" x2="623.6" y1="0" y2="0"><stop offset="0" stop-color="#f39000"/><stop offset="0.043" stop-color="#f28b00"/><stop offset="0.087" stop-color="#f18700"/><stop offset="0.13" stop-color="#f18100"/><stop offset="0.174" stop-color="#f07901"/><stop offset="0.217" stop-color="#ee6f03"/><stop offset="0.261" stop-color="#ec6405"/><stop offset="0.304" stop-color="#ea5609"/><stop offset="0.348" stop-color="#e6460d"/><stop offset="0.391" stop-color="#e03514"/><stop offset="0.435" stop-color="#dc2c1a"/><stop offset="0.478" stop-color="#dc2b1b"/><stop offset="0.522" stop-color="#dc2a1c"/><stop offset="0.565" stop-color="#d82a1c"/><stop offset="0.609" stop-color="#c5281b"/><stop offset="0.652" stop-color="#b22418"/><stop offset="0.696" stop-color="#9b2117"/><stop offset="0.739" stop-color="#851e16"/><stop offset="0.783" stop-color="#6f1d16"/><stop offset="0.826" stop-color="#601c16"/><stop offset="0.87" stop-color="#531b16"/><stop offset="0.913" stop-color="#461916"/><stop offset="0.957" stop-color="#3b1816"/><stop offset="1" stop-color="#2f1716"/></linearGradient><linearGradient id="gd75" gradientUnits="userSpaceOnUse" x1="361.1" x2="623.6" y1="0" y2="0"><stop offset="0" stop-color="#f38e00"/><stop offset="0.043" stop-color="#f28a00"/><stop offset="0.087" stop-color="#f18500"/><stop offset="0.13" stop-color="#f07f00"/><stop offset="0.174" stop-color="#ef7801"/><stop offset="0.217" stop-color="#ee6e03"/><stop offset="0.261" stop-color="#ec6206"/><stop offset="0.304" stop-color="#e95409"/><stop offset="0.348" stop-color="#e5450d"/><stop offset="0.391" stop-color="#e03415"/><stop offset="0.435" stop-color="#dc2c1a"/><stop offset="0.478" stop-color="#dc2b1b"/><stop offset="0.522" stop-color="#dc2a1c"/><stop offset="0.565" stop-color="#d62a1c"/><stop offset="0.609" stop-color="#c2271a"/><stop offset="0.652" stop-color="#ae2418"/><stop offset="0.696" stop-color="#982017"/><stop offset="0.739" stop-color="#821e16"/><stop offset="0.783" stop-color="#6d1d16"/><stop offset="0.826" stop-color="#5d1c16"/><stop offset="0.87" stop-color="#4e1b16"/><stop offset="0.913" stop-color="#421916"/><stop offset="0.957" stop-color="#361816"/><stop offset="1" stop-color="#2b1616"/></linearGradient><linearGradient id="gd76" gradientUnits="userSpaceOnUse" x1="361.1" x2="623.6" y1="0" y2="0"><stop offset="0" stop-color="#f28d00"/><stop offset="0.043" stop-color="#f28800"/><stop offset="0.087" stop-color="#f18400"/><stop offset="0.13" stop-color="#f07e00"/><stop offset="0.174" stop-color="#ef7601"/><stop offset="0.217" stop-color="#ed6c04"/><stop offset="0.261" stop-color="#eb6006"/><stop offset="0.304" stop-color="#e95309"/><stop offset="0.348" stop-color="#e5430e"/><stop offset="0.391" stop-color="#df3315"/><stop offset="0.435" stop-color="#dc2c1a"/><stop offset="0.478" stop-color="#dc2b1b"/><stop offset="0.522" stop-color="#dc2a1c"/><stop offset="0.565" stop-color="#d42a1c"/><stop offset="0.609" stop-color="#be271a"/><stop offset="0.652" stop-color="#aa2318"/><stop offset="0.696" stop-color="#942017"/><stop offset="0.739" stop-color="#7e1d16"/><stop offset="0.783" stop-color="#691d16"/><stop offset="0.826" stop-color="#591c16"/><stop offset="0.87" stop-color="#4a1a16"/><stop offset="0.913" stop-color="#3d1816"/><stop offset="0.957" stop-color="#321716"/><stop offset="1" stop-color="#291616"/></linearGradient><linearGradient id="gd77" gradientUnits="userSpaceOnUse" x1="361.1" x2="623.6" y1="0" y2="0"><stop offset="0" stop-color="#f28b00"/><stop offset="0.043" stop-color="#f28700"/><stop offset="0.087" stop-color="#f18200"/><stop offset="0.13" stop-color="#f07d00"/><stop offset="0.174" stop-color="#ef7502"/><stop offset="0.217" stop-color="#ed6b04"/><stop offset="0.261" stop-color="#eb5f06"/><stop offset="0.304" stop-color="#e8510a"/><stop offset="0.348" stop-color="#e5410e"/><stop offset="0.391" stop-color="#df3216"/><stop offset="0.435" stop-color="#dc2c1a"/><stop offset="0.478" stop-color="#dc2b1b"/><stop offset="0.522" stop-color="#dc2a1c"/><stop offset="0.565" stop-color="#d22a1c"/><stop offset="0.609" stop-color="#bb2619"/><stop offset="0.652" stop-color="#a52217"/><stop offset="0.696" stop-color="#901f16"/><stop offset="0.739" stop-color="#7a1d16"/><stop offset="0.783" stop-color="#661c16"/><stop offset="0.826" stop-color="#551b16"/><stop offset="0.87" stop-color="#461916"/><stop offset="0.913" stop-color="#381816"/><stop offset="0.957" stop-color="#2d1616"/><stop offset="1" stop-color="#281515"/></linearGradient><linearGradient id="gd78" gradientUnits="userSpaceOnUse" x1="361.1" x2="623.6" y1="0" y2="0"><stop offset="0" stop-color="#f28a00"/><stop offset="0.043" stop-color="#f18600"/><stop offset="0.087" stop-color="#f18100"/><stop offset="0.13" stop-color="#f07b00"/><stop offset="0.174" stop-color="#ef7302"/><stop offset="0.217" stop-color="#ed6904"/><stop offset="0.261" stop-color="#eb5d07"/><stop offset="0.304" stop-color="#e8500a"/><stop offset="0.348" stop-color="#e4400f"/><stop offset="0.391" stop-color="#de3017"/><stop offset="0.435" stop-color="#dc2c1a"/><stop offset="0.478" stop-color="#dc2b1b"/><stop offset="0.522" stop-color="#dc2a1c"/><stop offset="0.565" stop-color="#cf2a1c"/><stop offset="0.609" stop-color="#b72519"/><stop offset="0.652" stop-color="#a12217"/><stop offset="0.696" stop-color="#8c1e16"/><stop offset="0.739" stop-color="#751d16"/><stop offset="0.783" stop-color="#621c16"/><stop offset="0.826" stop-color="#511b16"/><stop offset="0.87" stop-color="#411916"/><stop offset="0.913" stop-color="#331716"/><stop offset="0.957" stop-color="#2a1616"/><stop offset="1" stop-color="#261514"/></linearGradient><linearGradient id="gd79" gradientUnits="userSpaceOnUse" x1="361.1" x2="623.6" y1="0" y2="0"><stop offset="0" stop-color="#f28800"/><stop offset="0.043" stop-color="#f18400"/><stop offset="0.087" stop-color="#f18000"/><stop offset="0.13" stop-color="#f07a00"/><stop offset="0.174" stop-color="#ee7202"/><stop offset="0.217" stop-color="#ed6804"/><stop offset="0.261" stop-color="#eb5c07"/><stop offset="0.304" stop-color="#e84e0b"/><stop offset="0.348" stop-color="#e43e0f"/><stop offset="0.391" stop-color="#de2f18"/><stop offset="0.435" stop-color="#dc2c1a"/><stop offset="0.478" stop-color="#dc2b1b"/><stop offset="0.522" stop-color="#dc2a1c"/><stop offset="0.565" stop-color="#cc291b"/><stop offset="0.609" stop-color="#b32518"/><stop offset="0.652" stop-color="#9c2117"/><stop offset="0.696" stop-color="#871e16"/><stop offset="0.739" stop-color="#711d16"/><stop offset="0.783" stop-color="#5f1c16"/><stop offset="0.826" stop-color="#4d1a16"/><stop offset="0.87" stop-color="#3d1816"/><stop offset="0.913" stop-color="#2f1716"/><stop offset="0.957" stop-color="#281515"/><stop offset="1" stop-color="#251414"/></linearGradient><linearGradient id="gd80" gradientUnits="userSpaceOnUse" x1="361.1" x2="623.6" y1="0" y2="0"><stop offset="0" stop-color="#f28700"/><stop offset="0.043" stop-color="#f18300"/><stop offset="0.087" stop-color="#f07f00"/><stop offset="0.13" stop-color="#ef7901"/><stop offset="0.174" stop-color="#ee7102"/><stop offset="0.217" stop-color="#ec6605"/><stop offset="0.261" stop-color="#ea5a07"/><stop offset="0.304" stop-color="#e74c0b"/><stop offset="0.348" stop-color="#e33d0f"/><stop offset="0.391" stop-color="#dd2e19"/><stop offset="0.435" stop-color="#dc2b1b"/><stop offset="0.478" stop-color="#dc2b1b"/><stop offset="0.522" stop-color="#dc2a1c"/><stop offset="0.565" stop-color="#c8291b"/><stop offset="0.609" stop-color="#af2418"/><stop offset="0.652" stop-color="#982017"/><stop offset="0.696" stop-color="#821e16"/><stop offset="0.739" stop-color="#6d1d16"/><stop offset="0.783" stop-color="#5b1c16"/><stop offset="0.826" stop-color="#491a16"/><stop offset="0.87" stop-color="#391816"/><stop offset="0.913" stop-color="#2a1616"/><stop offset="0.957" stop-color="#271514"/><stop offset="1" stop-color="#241413"/></linearGradient><linearGradient id="gd81" gradientUnits="userSpaceOnUse" x1="361.1" x2="623.6" y1="0" y2="0"><stop offset="0" stop-color="#f18500"/><stop offset="0.043" stop-color="#f18200"/><stop offset="0.087" stop-color="#f07d00"/><stop offset="0.13" stop-color="#ef7801"/><stop offset="0.174" stop-color="#ee7003"/><stop offset="0.217" stop-color="#ec6505"/><stop offset="0.261" stop-color="#ea5908"/><stop offset="0.304" stop-color="#e74b0c"/><stop offset="0.348" stop-color="#e33c10"/><stop offset="0.391" stop-color="#dc2d19"/><stop offset="0.435" stop-color="#dc2b1b"/><stop offset="0.478" stop-color="#dc2b1b"/><stop offset="0.522" stop-color="#dc2a1c"/><stop offset="0.565" stop-color="#c5281b"/><stop offset="0.609" stop-color="#aa2318"/><stop offset="0.652" stop-color="#931f16"/><stop offset="0.696" stop-color="#7d1d16"/><stop offset="0.739" stop-color="#681d16"/><stop offset="0.783" stop-color="#571c16"/><stop offset="0.826" stop-color="#451916"/><stop offset="0.87" stop-color="#341716"/><stop offset="0.913" stop-color="#291615"/><stop offset="0.957" stop-color="#251414"/><stop offset="1" stop-color="#221312"/></linearGradient><linearGradient id="gd82" gradientUnits="userSpaceOnUse" x1="361.1" x2="623.6" y1="0" y2="0"><stop offset="0" stop-color="#f18400"/><stop offset="0.043" stop-color="#f18000"/><stop offset="0.087" stop-color="#f07c00"/><stop offset="0.13" stop-color="#ef7701"/><stop offset="0.174" stop-color="#ee6e03"/><stop offset="0.217" stop-color="#ec6405"/><stop offset="0.261" stop-color="#ea5708"/><stop offset="0.304" stop-color="#e6490c"/><stop offset="0.348" stop-color="#e33a10"/><stop offset="0.391" stop-color="#dc2c1a"/><stop offset="0.435" stop-color="#dc2b1b"/><stop offset="0.478" stop-color="#dc2b1b"/><stop offset="0.522" stop-color="#dc2a1c"/><stop offset="0.565" stop-color="#c1271a"/><stop offset="0.609" stop-color="#a62217"/><stop offset="0.652" stop-color="#8f1f16"/><stop offset="0.696" stop-color="#781d16"/><stop offset="0.739" stop-color="#641c16"/><stop offset="0.783" stop-color="#531b16"/><stop offset="0.826" stop-color="#411916"/><stop offset="0.87" stop-color="#301716"/><stop offset="0.913" stop-color="#281515"/><stop offset="0.957" stop-color="#241413"/><stop offset="1" stop-color="#211312"/></linearGradient><linearGradient id="gd83" gradientUnits="userSpaceOnUse" x1="361.1" x2="623.6" y1="0" y2="0"><stop offset="0" stop-color="#f18300"/><stop offset="0.043" stop-color="#f07f00"/><stop offset="0.087" stop-color="#f07b00"/><stop offset="0.13" stop-color="#ef7601"/><stop offset="0.174" stop-color="#ee6d03"/><stop offset="0.217" stop-color="#ec6206"/><stop offset="0.261" stop-color="#ea5609"/><stop offset="0.304" stop-color="#e6480c"/><stop offset="0.348" stop-color="#e23911"/><stop offset="0.391" stop-color="#dc2c1a"/><stop offset="0.435" stop-color="#dc2b1b"/><stop offset="0.478" stop-color="#dc2b1b"/><stop offset="0.522" stop-color="#da2a1c"/><stop offset="0.565" stop-color="#be271a"/><stop offset="0.609" stop-color="#a22217"/><stop offset="0.652" stop-color="#8b1e16"/><stop offset="0.696" stop-color="#731d16"/><stop offset="0.739" stop-color="#601c16"/><stop offset="0.783" stop-color="#4e1b16"/><stop offset="0.826" stop-color="#3d1816"/><stop offset="0.87" stop-color="#2d1616"/><stop offset="0.913" stop-color="#271514"/><stop offset="0.957" stop-color="#231413"/><stop offset="1" stop-color="#201311"/></linearGradient><linearGradient id="gd84" gradientUnits="userSpaceOnUse" x1="361.1" x2="623.6" y1="0" y2="0"><stop offset="0" stop-color="#f18200"/><stop offset="0.043" stop-color="#f07e00"/><stop offset="0.087" stop-color="#f07a00"/><stop offset="0.13" stop-color="#ef7402"/><stop offset="0.174" stop-color="#ed6c04"/><stop offset="0.217" stop-color="#eb6106"/><stop offset="0.261" stop-color="#e95509"/><stop offset="0.304" stop-color="#e6470d"/><stop offset="0.348" stop-color="#e23812"/><stop offset="0.391" stop-color="#dc2c1a"/><stop offset="0.435" stop-color="#dc2b1b"/><stop offset="0.478" stop-color="#dc2b1b"/><stop offset="0.522" stop-color="#d82a1c"/><stop offset="0.565" stop-color="#bb2619"/><stop offset="0.609" stop-color="#9e2117"/><stop offset="0.652" stop-color="#861e16"/><stop offset="0.696" stop-color="#6f1d16"/><stop offset="0.739" stop-color="#5c1c16"/><stop offset="0.783" stop-color="#4a1a16"/><stop offset="0.826" stop-color="#391816"/><stop offset="0.87" stop-color="#2a1616"/><stop offset="0.913" stop-color="#261514"/><stop offset="0.957" stop-color="#221312"/><stop offset="1" stop-color="#1f1210"/></linearGradient><linearGradient id="gd85" gradientUnits="userSpaceOnUse" x1="361.1" x2="623.6" y1="0" y2="0"><stop offset="0" stop-color="#f18000"/><stop offset="0.043" stop-color="#f07d00"/><stop offset="0.087" stop-color="#ef7901"/><stop offset="0.13" stop-color="#ef7302"/><stop offset="0.174" stop-color="#ed6b04"/><stop offset="0.217" stop-color="#eb5f06"/><stop offset="0.261" stop-color="#e95309"/><stop offset="0.304" stop-color="#e5450d"/><stop offset="0.348" stop-color="#e13713"/><stop offset="0.391" stop-color="#dc2c1a"/><stop offset="0.435" stop-color="#dc2b1b"/><stop offset="0.478" stop-color="#dc2b1b"/><stop offset="0.522" stop-color="#d72a1c"/><stop offset="0.565" stop-color="#b82619"/><stop offset="0.609" stop-color="#9a2117"/><stop offset="0.652" stop-color="#811e16"/><stop offset="0.696" stop-color="#6a1d16"/><stop offset="0.739" stop-color="#581c16"/><stop offset="0.783" stop-color="#451916"/><stop offset="0.826" stop-color="#351716"/><stop offset="0.87" stop-color="#291615"/><stop offset="0.913" stop-color="#251413"/><stop offset="0.957" stop-color="#211312"/><stop offset="1" stop-color="#1e1210"/></linearGradient><linearGradient id="gd86" gradientUnits="userSpaceOnUse" x1="361.1" x2="623.6" y1="0" y2="0"><stop offset="0" stop-color="#f07f00"/><stop offset="0.043" stop-color="#f07b00"/><stop offset="0.087" stop-color="#ef7701"/><stop offset="0.13" stop-color="#ee7202"/><stop offset="0.174" stop-color="#ed6904"/><stop offset="0.217" stop-color="#eb5e07"/><stop offset="0.261" stop-color="#e8520a"/><stop offset="0.304" stop-color="#e5440e"/><stop offset="0.348" stop-color="#e13613"/><stop offset="0.391" stop-color="#dc2c1a"/><stop offset="0.435" stop-color="#dc2b1b"/><stop offset="0.478" stop-color="#dc2b1b"/><stop offset="0.522" stop-color="#d52a1c"/><stop offset="0.565" stop-color="#b62519"/><stop offset="0.609" stop-color="#972017"/><stop offset="0.652" stop-color="#7d1d16"/><stop offset="0.696" stop-color="#671d16"/><stop offset="0.739" stop-color="#531b16"/><stop offset="0.783" stop-color="#411916"/><stop offset="0.826" stop-color="#311716"/><stop offset="0.87" stop-color="#281515"/><stop offset="0.913" stop-color="#241413"/><stop offset="0.957" stop-color="#201311"/><stop offset="1" stop-color="#1e1210"/></linearGradient><linearGradient id="gd87" gradientUnits="userSpaceOnUse" x1="361.1" x2="623.6" y1="0" y2="0"><stop offset="0" stop-color="#f07e00"/><stop offset="0.043" stop-color="#f07a00"/><stop offset="0.087" stop-color="#ef7601"/><stop offset="0.13" stop-color="#ee7003"/><stop offset="0.174" stop-color="#ed6804"/><stop offset="0.217" stop-color="#eb5d07"/><stop offset="0.261" stop-color="#e8500a"/><stop offset="0.304" stop-color="#e5430e"/><stop offset="0.348" stop-color="#e03514"/><stop offset="0.391" stop-color="#dc2c1a"/><stop offset="0.435" stop-color="#dc2b1b"/><stop offset="0.478" stop-color="#dc2b1b"/><stop offset="0.522" stop-color="#d42a1c"/><stop offset="0.565" stop-color="#b32518"/><stop offset="0.609" stop-color="#942017"/><stop offset="0.652" stop-color="#7a1d16"/><stop offset="0.696" stop-color="#631c16"/><stop offset="0.739" stop-color="#4f1b16"/><stop offset="0.783" stop-color="#3d1816"/><stop offset="0.826" stop-color="#2d1616"/><stop offset="0.87" stop-color="#271514"/><stop offset="0.913" stop-color="#231412"/><stop offset="0.957" stop-color="#1f1211"/><stop offset="1" stop-color="#1e1210"/></linearGradient><linearGradient id="gd88" gradientUnits="userSpaceOnUse" x1="361.1" x2="623.6" y1="0" y2="0"><stop offset="0" stop-color="#f07d00"/><stop offset="0.043" stop-color="#ef7901"/><stop offset="0.087" stop-color="#ef7402"/><stop offset="0.13" stop-color="#ee6f03"/><stop offset="0.174" stop-color="#ec6705"/><stop offset="0.217" stop-color="#eb5c07"/><stop offset="0.261" stop-color="#e84f0a"/><stop offset="0.304" stop-color="#e5410e"/><stop offset="0.348" stop-color="#e03415"/><stop offset="0.391" stop-color="#dc2c1a"/><stop offset="0.435" stop-color="#dc2b1b"/><stop offset="0.478" stop-color="#dc2a1c"/><stop offset="0.522" stop-color="#d32a1c"/><stop offset="0.565" stop-color="#b12418"/><stop offset="0.609" stop-color="#921f16"/><stop offset="0.652" stop-color="#771d16"/><stop offset="0.696" stop-color="#601c16"/><stop offset="0.739" stop-color="#4b1a16"/><stop offset="0.783" stop-color="#391816"/><stop offset="0.826" stop-color="#2a1616"/><stop offset="0.87" stop-color="#261514"/><stop offset="0.913" stop-color="#221312"/><stop offset="0.957" stop-color="#1f1210"/><stop offset="1" stop-color="#1e1210"/></linearGradient><linearGradient id="gd89" gradientUnits="userSpaceOnUse" x1="361.1" x2="623.6" y1="0" y2="0"><stop offset="0" stop-color="#f07c00"/><stop offset="0.043" stop-color="#ef7801"/><stop offset="0.087" stop-color="#ef7302"/><stop offset="0.13" stop-color="#ee6e03"/><stop offset="0.174" stop-color="#ec6505"/><stop offset="0.217" stop-color="#ea5b07"/><stop offset="0.261" stop-color="#e84e0b"/><stop offset="0.304" stop-color="#e4400f"/><stop offset="0.348" stop-color="#df3315"/><stop offset="0.391" stop-color="#dc2c1a"/><stop offset="0.435" stop-color="#dc2b1b"/><stop offset="0.478" stop-color="#dc2a1c"/><stop offset="0.522" stop-color="#d22a1c"/><stop offset="0.565" stop-color="#b02418"/><stop offset="0.609" stop-color="#901f16"/><stop offset="0.652" stop-color="#741d16"/><stop offset="0.696" stop-color="#5d1c16"/><stop offset="0.739" stop-color="#471a16"/><stop offset="0.783" stop-color="#361716"/><stop offset="0.826" stop-color="#291616"/><stop offset="0.87" stop-color="#251414"/><stop offset="0.913" stop-color="#211312"/><stop offset="0.957" stop-color="#1e1210"/><stop offset="1" stop-color="#1e1210"/></linearGradient><linearGradient id="gd90" gradientUnits="userSpaceOnUse" x1="361.1" x2="623.6" y1="0" y2="0"><stop offset="0" stop-color="#f07c00"/><stop offset="0.043" stop-color="#ef7801"/><stop offset="0.087" stop-color="#ef7302"/><stop offset="0.13" stop-color="#ee6e03"/><stop offset="0.174" stop-color="#ec6505"/><stop offset="0.217" stop-color="#ea5b07"/><stop offset="0.261" stop-color="#e84e0b"/><stop offset="0.304" stop-color="#e4400f"/><stop offset="0.348" stop-color="#df3315"/><stop offset="0.391" stop-color="#dc2c1a"/><stop offset="0.435" stop-color="#dc2b1b"/><stop offset="0.478" stop-color="#dc2a1c"/><stop offset="0.522" stop-color="#d22a1c"/><stop offset="0.565" stop-color="#b02418"/><stop offset="0.609" stop-color="#901f16"/><stop offset="0.652" stop-color="#741d16"/><stop offset="0.696" stop-color="#5d1c16"/><stop offset="0.739" stop-color="#471a16"/><stop offset="0.783" stop-color="#361716"/><stop offset="0.826" stop-color="#291616"/><stop offset="0.87" stop-color="#251414"/><stop offset="0.913" stop-color="#211312"/><stop offset="0.957" stop-color="#1e1210"/><stop offset="1" stop-color="#1e1210"/></linearGradient><linearGradient id="gd91" gradientUnits="userSpaceOnUse" x1="361.1" x2="623.6" y1="0" y2="0"><stop offset="0" stop-color="#f07c00"/><stop offset="0.043" stop-color="#ef7801"/><stop offset="0.087" stop-color="#ef7302"/><stop offset="0.13" stop-color="#ee6e03"/><stop offset="0.174" stop-color="#ec6505"/><stop offset="0.217" stop-color="#ea5b07"/><stop offset="0.261" stop-color="#e84e0b"/><stop offset="0.304" stop-color="#e4400f"/><stop offset="0.348" stop-color="#df3315"/><stop offset="0.391" stop-color="#dc2c1a"/><stop offset="0.435" stop-color="#dc2b1b"/><stop offset="0.478" stop-color="#dc2a1c"/><stop offset="0.522" stop-color="#d22a1c"/><stop offset="0.565" stop-color="#b02418"/><stop offset="0.609" stop-color="#901f16"/><stop offset="0.652" stop-color="#741d16"/><stop offset="0.696" stop-color="#5d1c16"/><stop offset="0.739" stop-color="#471a16"/><stop offset="0.783" stop-color="#361716"/><stop offset="0.826" stop-color="#291616"/><stop offset="0.87" stop-color="#251414"/><stop offset="0.913" stop-color="#211312"/><stop offset="0.957" stop-color="#1e1210"/><stop offset="1" stop-color="#1e1210"/></linearGradient><clipPath id="gdclip"><rect x="361.10" y="285.10" width="262.50" height="261.70"/></clipPath><linearGradient id="cbar"><stop offset="0.000" stop-color="#1e1210"/><stop offset="0.025" stop-color="#291615"/><stop offset="0.050" stop-color="#4b1a16"/><stop offset="0.075" stop-color="#6c1d16"/><stop offset="0.100" stop-color="#8a1e16"/><stop offset="0.125" stop-color="#a12217"/><stop offset="0.150" stop-color="#b72519"/><stop offset="0.175" stop-color="#cb291b"/><stop offset="0.200" stop-color="#da2a1c"/><stop offset="0.225" stop-color="#dc2a1c"/><stop offset="0.250" stop-color="#dc2b1b"/><stop offset="0.275" stop-color="#dc2b1b"/><stop offset="0.300" stop-color="#dc2c1a"/><stop offset="0.325" stop-color="#dc2c1a"/><stop offset="0.350" stop-color="#e03414"/><stop offset="0.375" stop-color="#e4400f"/><stop offset="0.400" stop-color="#e74d0b"/><stop offset="0.425" stop-color="#ea5908"/><stop offset="0.450" stop-color="#ec6605"/><stop offset="0.475" stop-color="#ee7202"/><stop offset="0.500" stop-color="#f07e00"/><stop offset="0.525" stop-color="#f28900"/><stop offset="0.550" stop-color="#f39400"/><stop offset="0.575" stop-color="#f5a000"/><stop offset="0.600" stop-color="#f5ac00"/><stop offset="0.625" stop-color="#f5b900"/><stop offset="0.650" stop-color="#f5c500"/><stop offset="0.675" stop-color="#f5cf00"/><stop offset="0.700" stop-color="#f5d900"/><stop offset="0.725" stop-color="#f5e000"/><stop offset="0.750" stop-color="#f5e200"/><stop offset="0.775" stop-color="#f5e400"/><stop offset="0.800" stop-color="#f6e51a"/><stop offset="0.825" stop-color="#f8e637"/><stop offset="0.850" stop-color="#f9e95d"/><stop offset="0.875" stop-color="#fbed87"/><stop offset="0.900" stop-color="#fcf2aa"/><stop offset="0.925" stop-color="#fdf7ca"/><stop offset="0.950" stop-color="#fefce7"/><stop offset="0.975" stop-color="#ffffff"/><stop offset="1.000" stop-color="#ffffff"/></linearGradient><linearGradient id="slabF" x1="0" y1="0" x2="0" y2="1"><stop offset="0" stop-color="#eab000"/><stop offset="0.25" stop-color="#e6ab04"/><stop offset="0.7" stop-color="#c99812"/><stop offset="1" stop-color="#a9822a"/></linearGradient><linearGradient id="slabR" x1="0" y1="0" x2="0" y2="1"><stop offset="0" stop-color="#9a7420"/><stop offset="1" stop-color="#74561a"/></linearGradient><linearGradient id="slabT" x1="0" y1="0" x2="0" y2="1"><stop offset="0" stop-color="#e5d4a4"/><stop offset="0.5" stop-color="#e3cc8e"/><stop offset="1" stop-color="#e2c274"/></linearGradient><linearGradient id="crossTop" x1="0" y1="0" x2="1" y2="1"><stop offset="0" stop-color="#f2b820"/><stop offset="1" stop-color="#e9a90e"/></linearGradient><filter id="shblur" x="-0.2" y="-0.5" width="1.4" height="2"><feGaussianBlur stdDeviation="1.3"/></filter></defs><g clip-path="url(#gcclip)"><g filter="url(#vblur)"><rect x="57.60" y="279.10" width="270.50" height="3.50" fill="url(#gc0)"/><rect x="57.60" y="282.10" width="270.50" height="3.50" fill="url(#gc1)"/><rect x="57.60" y="285.10" width="270.50" height="3.50" fill="url(#gc2)"/><rect x="57.60" y="288.10" width="270.50" height="3.50" fill="url(#gc3)"/><rect x="57.60" y="291.10" width="270.50" height="3.50" fill="url(#gc4)"/><rect x="57.60" y="294.10" width="270.50" height="3.50" fill="url(#gc5)"/><rect x="57.60" y="297.10" width="270.50" height="3.50" fill="url(#gc6)"/><rect x="57.60" y="300.10" width="270.50" height="3.50" fill="url(#gc7)"/><rect x="57.60" y="303.10" width="270.50" height="3.50" fill="url(#gc8)"/><rect x="57.60" y="306.10" width="270.50" height="3.50" fill="url(#gc9)"/><rect x="57.60" y="309.10" width="270.50" height="3.50" fill="url(#gc10)"/><rect x="57.60" y="312.10" width="270.50" height="3.50" fill="url(#gc11)"/><rect x="57.60" y="315.10" width="270.50" height="3.50" fill="url(#gc12)"/><rect x="57.60" y="318.10" width="270.50" height="3.50" fill="url(#gc13)"/><rect x="57.60" y="321.10" width="270.50" height="3.50" fill="url(#gc14)"/><rect x="57.60" y="324.10" width="270.50" height="3.50" fill="url(#gc15)"/><rect x="57.60" y="327.10" width="270.50" height="3.50" fill="url(#gc16)"/><rect x="57.60" y="330.10" width="270.50" height="3.50" fill="url(#gc17)"/><rect x="57.60" y="333.10" width="270.50" height="3.50" fill="url(#gc18)"/><rect x="57.60" y="336.10" width="270.50" height="3.50" fill="url(#gc19)"/><rect x="57.60" y="339.10" width="270.50" height="3.50" fill="url(#gc20)"/><rect x="57.60" y="342.10" width="270.50" height="3.50" fill="url(#gc21)"/><rect x="57.60" y="345.10" width="270.50" height="3.50" fill="url(#gc22)"/><rect x="57.60" y="348.10" width="270.50" height="3.50" fill="url(#gc23)"/><rect x="57.60" y="351.10" width="270.50" height="3.50" fill="url(#gc24)"/><rect x="57.60" y="354.10" width="270.50" height="3.50" fill="url(#gc25)"/><rect x="57.60" y="357.10" width="270.50" height="3.50" fill="url(#gc26)"/><rect x="57.60" y="360.10" width="270.50" height="3.50" fill="url(#gc27)"/><rect x="57.60" y="363.10" width="270.50" height="3.50" fill="url(#gc28)"/><rect x="57.60" y="366.10" width="270.50" height="3.50" fill="url(#gc29)"/><rect x="57.60" y="369.10" width="270.50" height="3.50" fill="url(#gc30)"/><rect x="57.60" y="372.10" width="270.50" height="3.50" fill="url(#gc31)"/><rect x="57.60" y="375.10" width="270.50" height="3.50" fill="url(#gc32)"/><rect x="57.60" y="378.10" width="270.50" height="3.50" fill="url(#gc33)"/><rect x="57.60" y="381.10" width="270.50" height="3.50" fill="url(#gc34)"/><rect x="57.60" y="384.10" width="270.50" height="3.50" fill="url(#gc35)"/><rect x="57.60" y="387.10" width="270.50" height="3.50" fill="url(#gc36)"/><rect x="57.60" y="390.10" width="270.50" height="3.50" fill="url(#gc37)"/><rect x="57.60" y="393.10" width="270.50" height="3.50" fill="url(#gc38)"/><rect x="57.60" y="396.10" width="270.50" height="3.50" fill="url(#gc39)"/><rect x="57.60" y="399.10" width="270.50" height="3.50" fill="url(#gc40)"/><rect x="57.60" y="402.10" width="270.50" height="3.50" fill="url(#gc41)"/><rect x="57.60" y="405.10" width="270.50" height="3.50" fill="url(#gc42)"/><rect x="57.60" y="408.10" width="270.50" height="3.50" fill="url(#gc43)"/><rect x="57.60" y="411.10" width="270.50" height="3.50" fill="url(#gc44)"/><rect x="57.60" y="414.10" width="270.50" height="3.50" fill="url(#gc45)"/><rect x="57.60" y="417.10" width="270.50" height="3.50" fill="url(#gc46)"/><rect x="57.60" y="420.10" width="270.50" height="3.50" fill="url(#gc47)"/><rect x="57.60" y="423.10" width="270.50" height="3.50" fill="url(#gc48)"/><rect x="57.60" y="426.10" width="270.50" height="3.50" fill="url(#gc49)"/><rect x="57.60" y="429.10" width="270.50" height="3.50" fill="url(#gc50)"/><rect x="57.60" y="432.10" width="270.50" height="3.50" fill="url(#gc51)"/><rect x="57.60" y="435.10" width="270.50" height="3.50" fill="url(#gc52)"/><rect x="57.60" y="438.10" width="270.50" height="3.50" fill="url(#gc53)"/><rect x="57.60" y="441.10" width="270.50" height="3.50" fill="url(#gc54)"/><rect x="57.60" y="444.10" width="270.50" height="3.50" fill="url(#gc55)"/><rect x="57.60" y="447.10" width="270.50" height="3.50" fill="url(#gc56)"/><rect x="57.60" y="450.10" width="270.50" height="3.50" fill="url(#gc57)"/><rect x="57.60" y="453.10" width="270.50" height="3.50" fill="url(#gc58)"/><rect x="57.60" y="456.10" width="270.50" height="3.50" fill="url(#gc59)"/><rect x="57.60" y="459.10" width="270.50" height="3.50" fill="url(#gc60)"/><rect x="57.60" y="462.10" width="270.50" height="3.50" fill="url(#gc61)"/><rect x="57.60" y="465.10" width="270.50" height="3.50" fill="url(#gc62)"/><rect x="57.60" y="468.10" width="270.50" height="3.50" fill="url(#gc63)"/><rect x="57.60" y="471.10" width="270.50" height="3.50" fill="url(#gc64)"/><rect x="57.60" y="474.10" width="270.50" height="3.50" fill="url(#gc65)"/><rect x="57.60" y="477.10" width="270.50" height="3.50" fill="url(#gc66)"/><rect x="57.60" y="480.10" width="270.50" height="3.50" fill="url(#gc67)"/><rect x="57.60" y="483.10" width="270.50" height="3.50" fill="url(#gc68)"/><rect x="57.60" y="486.10" width="270.50" height="3.50" fill="url(#gc69)"/><rect x="57.60" y="489.10" width="270.50" height="3.50" fill="url(#gc70)"/><rect x="57.60" y="492.10" width="270.50" height="3.50" fill="url(#gc71)"/><rect x="57.60" y="495.10" width="270.50" height="3.50" fill="url(#gc72)"/><rect x="57.60" y="498.10" width="270.50" height="3.50" fill="url(#gc73)"/><rect x="57.60" y="501.10" width="270.50" height="3.50" fill="url(#gc74)"/><rect x="57.60" y="504.10" width="270.50" height="3.50" fill="url(#gc75)"/><rect x="57.60" y="507.10" width="270.50" height="3.50" fill="url(#gc76)"/><rect x="57.60" y="510.10" width="270.50" height="3.50" fill="url(#gc77)"/><rect x="57.60" y="513.10" width="270.50" height="3.50" fill="url(#gc78)"/><rect x="57.60" y="516.10" width="270.50" height="3.50" fill="url(#gc79)"/><rect x="57.60" y="519.10" width="270.50" height="3.50" fill="url(#gc80)"/><rect x="57.60" y="522.10" width="270.50" height="3.50" fill="url(#gc81)"/><rect x="57.60" y="525.10" width="270.50" height="3.50" fill="url(#gc82)"/><rect x="57.60" y="528.10" width="270.50" height="3.50" fill="url(#gc83)"/><rect x="57.60" y="531.10" width="270.50" height="3.50" fill="url(#gc84)"/><rect x="57.60" y="534.10" width="270.50" height="3.50" fill="url(#gc85)"/><rect x="57.60" y="537.10" width="270.50" height="3.50" fill="url(#gc86)"/><rect x="57.60" y="540.10" width="270.50" height="3.50" fill="url(#gc87)"/><rect x="57.60" y="543.10" width="270.50" height="3.50" fill="url(#gc88)"/><rect x="57.60" y="546.10" width="270.50" height="3.50" fill="url(#gc89)"/><rect x="57.60" y="549.10" width="270.50" height="3.50" fill="url(#gc90)"/><rect x="57.60" y="552.10" width="270.50" height="3.50" fill="url(#gc91)"/></g></g><g clip-path="url(#gdclip)"><g filter="url(#vblur)"><rect x="357.10" y="279.10" width="270.50" height="3.50" fill="url(#gd0)"/><rect x="357.10" y="282.10" width="270.50" height="3.50" fill="url(#gd1)"/><rect x="357.10" y="285.10" width="270.50" height="3.50" fill="url(#gd2)"/><rect x="357.10" y="288.10" width="270.50" height="3.50" fill="url(#gd3)"/><rect x="357.10" y="291.10" width="270.50" height="3.50" fill="url(#gd4)"/><rect x="357.10" y="294.10" width="270.50" height="3.50" fill="url(#gd5)"/><rect x="357.10" y="297.10" width="270.50" height="3.50" fill="url(#gd6)"/><rect x="357.10" y="300.10" width="270.50" height="3.50" fill="url(#gd7)"/><rect x="357.10" y="303.10" width="270.50" height="3.50" fill="url(#gd8)"/><rect x="357.10" y="306.10" width="270.50" height="3.50" fill="url(#gd9)"/><rect x="357.10" y="309.10" width="270.50" height="3.50" fill="url(#gd10)"/><rect x="357.10" y="312.10" width="270.50" height="3.50" fill="url(#gd11)"/><rect x="357.10" y="315.10" width="270.50" height="3.50" fill="url(#gd12)"/><rect x="357.10" y="318.10" width="270.50" height="3.50" fill="url(#gd13)"/><rect x="357.10" y="321.10" width="270.50" height="3.50" fill="url(#gd14)"/><rect x="357.10" y="324.10" width="270.50" height="3.50" fill="url(#gd15)"/><rect x="357.10" y="327.10" width="270.50" height="3.50" fill="url(#gd16)"/><rect x="357.10" y="330.10" width="270.50" height="3.50" fill="url(#gd17)"/><rect x="357.10" y="333.10" width="270.50" height="3.50" fill="url(#gd18)"/><rect x="357.10" y="336.10" width="270.50" height="3.50" fill="url(#gd19)"/><rect x="357.10" y="339.10" width="270.50" height="3.50" fill="url(#gd20)"/><rect x="357.10" y="342.10" width="270.50" height="3.50" fill="url(#gd21)"/><rect x="357.10" y="345.10" width="270.50" height="3.50" fill="url(#gd22)"/><rect x="357.10" y="348.10" width="270.50" height="3.50" fill="url(#gd23)"/><rect x="357.10" y="351.10" width="270.50" height="3.50" fill="url(#gd24)"/><rect x="357.10" y="354.10" width="270.50" height="3.50" fill="url(#gd25)"/><rect x="357.10" y="357.10" width="270.50" height="3.50" fill="url(#gd26)"/><rect x="357.10" y="360.10" width="270.50" height="3.50" fill="url(#gd27)"/><rect x="357.10" y="363.10" width="270.50" height="3.50" fill="url(#gd28)"/><rect x="357.10" y="366.10" width="270.50" height="3.50" fill="url(#gd29)"/><rect x="357.10" y="369.10" width="270.50" height="3.50" fill="url(#gd30)"/><rect x="357.10" y="372.10" width="270.50" height="3.50" fill="url(#gd31)"/><rect x="357.10" y="375.10" width="270.50" height="3.50" fill="url(#gd32)"/><rect x="357.10" y="378.10" width="270.50" height="3.50" fill="url(#gd33)"/><rect x="357.10" y="381.10" width="270.50" height="3.50" fill="url(#gd34)"/><rect x="357.10" y="384.10" width="270.50" height="3.50" fill="url(#gd35)"/><rect x="357.10" y="387.10" width="270.50" height="3.50" fill="url(#gd36)"/><rect x="357.10" y="390.10" width="270.50" height="3.50" fill="url(#gd37)"/><rect x="357.10" y="393.10" width="270.50" height="3.50" fill="url(#gd38)"/><rect x="357.10" y="396.10" width="270.50" height="3.50" fill="url(#gd39)"/><rect x="357.10" y="399.10" width="270.50" height="3.50" fill="url(#gd40)"/><rect x="357.10" y="402.10" width="270.50" height="3.50" fill="url(#gd41)"/><rect x="357.10" y="405.10" width="270.50" height="3.50" fill="url(#gd42)"/><rect x="357.10" y="408.10" width="270.50" height="3.50" fill="url(#gd43)"/><rect x="357.10" y="411.10" width="270.50" height="3.50" fill="url(#gd44)"/><rect x="357.10" y="414.10" width="270.50" height="3.50" fill="url(#gd45)"/><rect x="357.10" y="417.10" width="270.50" height="3.50" fill="url(#gd46)"/><rect x="357.10" y="420.10" width="270.50" height="3.50" fill="url(#gd47)"/><rect x="357.10" y="423.10" width="270.50" height="3.50" fill="url(#gd48)"/><rect x="357.10" y="426.10" width="270.50" height="3.50" fill="url(#gd49)"/><rect x="357.10" y="429.10" width="270.50" height="3.50" fill="url(#gd50)"/><rect x="357.10" y="432.10" width="270.50" height="3.50" fill="url(#gd51)"/><rect x="357.10" y="435.10" width="270.50" height="3.50" fill="url(#gd52)"/><rect x="357.10" y="438.10" width="270.50" height="3.50" fill="url(#gd53)"/><rect x="357.10" y="441.10" width="270.50" height="3.50" fill="url(#gd54)"/><rect x="357.10" y="444.10" width="270.50" height="3.50" fill="url(#gd55)"/><rect x="357.10" y="447.10" width="270.50" height="3.50" fill="url(#gd56)"/><rect x="357.10" y="450.10" width="270.50" height="3.50" fill="url(#gd57)"/><rect x="357.10" y="453.10" width="270.50" height="3.50" fill="url(#gd58)"/><rect x="357.10" y="456.10" width="270.50" height="3.50" fill="url(#gd59)"/><rect x="357.10" y="459.10" width="270.50" height="3.50" fill="url(#gd60)"/><rect x="357.10" y="462.10" width="270.50" height="3.50" fill="url(#gd61)"/><rect x="357.10" y="465.10" width="270.50" height="3.50" fill="url(#gd62)"/><rect x="357.10" y="468.10" width="270.50" height="3.50" fill="url(#gd63)"/><rect x="357.10" y="471.10" width="270.50" height="3.50" fill="url(#gd64)"/><rect x="357.10" y="474.10" width="270.50" height="3.50" fill="url(#gd65)"/><rect x="357.10" y="477.10" width="270.50" height="3.50" fill="url(#gd66)"/><rect x="357.10" y="480.10" width="270.50" height="3.50" fill="url(#gd67)"/><rect x="357.10" y="483.10" width="270.50" height="3.50" fill="url(#gd68)"/><rect x="357.10" y="486.10" width="270.50" height="3.50" fill="url(#gd69)"/><rect x="357.10" y="489.10" width="270.50" height="3.50" fill="url(#gd70)"/><rect x="357.10" y="492.10" width="270.50" height="3.50" fill="url(#gd71)"/><rect x="357.10" y="495.10" width="270.50" height="3.50" fill="url(#gd72)"/><rect x="357.10" y="498.10" width="270.50" height="3.50" fill="url(#gd73)"/><rect x="357.10" y="501.10" width="270.50" height="3.50" fill="url(#gd74)"/><rect x="357.10" y="504.10" width="270.50" height="3.50" fill="url(#gd75)"/><rect x="357.10" y="507.10" width="270.50" height="3.50" fill="url(#gd76)"/><rect x="357.10" y="510.10" width="270.50" height="3.50" fill="url(#gd77)"/><rect x="357.10" y="513.10" width="270.50" height="3.50" fill="url(#gd78)"/><rect x="357.10" y="516.10" width="270.50" height="3.50" fill="url(#gd79)"/><rect x="357.10" y="519.10" width="270.50" height="3.50" fill="url(#gd80)"/><rect x="357.10" y="522.10" width="270.50" height="3.50" fill="url(#gd81)"/><rect x="357.10" y="525.10" width="270.50" height="3.50" fill="url(#gd82)"/><rect x="357.10" y="528.10" width="270.50" height="3.50" fill="url(#gd83)"/><rect x="357.10" y="531.10" width="270.50" height="3.50" fill="url(#gd84)"/><rect x="357.10" y="534.10" width="270.50" height="3.50" fill="url(#gd85)"/><rect x="357.10" y="537.10" width="270.50" height="3.50" fill="url(#gd86)"/><rect x="357.10" y="540.10" width="270.50" height="3.50" fill="url(#gd87)"/><rect x="357.10" y="543.10" width="270.50" height="3.50" fill="url(#gd88)"/><rect x="357.10" y="546.10" width="270.50" height="3.50" fill="url(#gd89)"/><rect x="357.10" y="549.10" width="270.50" height="3.50" fill="url(#gd90)"/><rect x="357.10" y="552.10" width="270.50" height="3.50" fill="url(#gd91)"/></g></g><rect x="205.3" y="288" width="58" height="20.7" fill="url(#cbar)"/><rect x="501.5" y="288" width="58" height="20.7" fill="url(#cbar)"/><line x1="62.00" y1="399.80" x2="69.20" y2="396.90" stroke="#161616" stroke-width="3.1"/><line x1="83.80" y1="389.60" x2="91.60" y2="386.90" stroke="#161616" stroke-width="3.1"/><line x1="106.70" y1="380.70" x2="114.70" y2="377.10" stroke="#161616" stroke-width="3.1"/><line x1="127.60" y1="369.50" x2="135.10" y2="365.00" stroke="#161616" stroke-width="3.1"/><line x1="146.50" y1="352.00" x2="151.90" y2="345.30" stroke="#161616" stroke-width="3.1"/><line x1="158.60" y1="330.20" x2="162.80" y2="323.20" stroke="#161616" stroke-width="3.1"/><line x1="166.90" y1="306.80" x2="170.00" y2="299.20" stroke="#161616" stroke-width="3.1"/><line x1="63.00" y1="544.50" x2="67.30" y2="541.30" stroke="#161616" stroke-width="3.1"/><line x1="78.90" y1="528.70" x2="85.20" y2="523.30" stroke="#161616" stroke-width="3.1"/><line x1="96.80" y1="511.70" x2="103.10" y2="506.00" stroke="#161616" stroke-width="3.1"/><line x1="113.90" y1="493.80" x2="120.10" y2="488.40" stroke="#161616" stroke-width="3.1"/><line x1="131.30" y1="476.70" x2="137.70" y2="471.00" stroke="#161616" stroke-width="3.1"/><line x1="149.00" y1="459.50" x2="155.50" y2="453.60" stroke="#161616" stroke-width="3.1"/><line x1="165.90" y1="442.00" x2="172.60" y2="436.50" stroke="#161616" stroke-width="3.1"/><line x1="183.50" y1="424.90" x2="190.20" y2="419.10" stroke="#161616" stroke-width="3.1"/><line x1="200.60" y1="407.20" x2="207.80" y2="401.30" stroke="#161616" stroke-width="3.1"/><line x1="218.30" y1="390.10" x2="225.00" y2="384.20" stroke="#161616" stroke-width="3.1"/><line x1="235.90" y1="372.50" x2="242.90" y2="366.20" stroke="#161616" stroke-width="3.1"/><line x1="253.40" y1="355.20" x2="260.00" y2="349.10" stroke="#161616" stroke-width="3.1"/><line x1="270.30" y1="338.10" x2="277.40" y2="331.70" stroke="#161616" stroke-width="3.1"/><line x1="288.10" y1="320.90" x2="294.50" y2="314.10" stroke="#161616" stroke-width="3.1"/><line x1="305.50" y1="301.30" x2="312.50" y2="296.60" stroke="#161616" stroke-width="3.1"/><line x1="170.20" y1="545.60" x2="172.90" y2="539.00" stroke="#161616" stroke-width="3.1"/><line x1="177.00" y1="522.90" x2="179.70" y2="515.30" stroke="#161616" stroke-width="3.1"/><line x1="183.00" y1="499.20" x2="186.00" y2="491.70" stroke="#161616" stroke-width="3.1"/><line x1="190.90" y1="475.90" x2="194.40" y2="468.30" stroke="#161616" stroke-width="3.1"/><line x1="200.90" y1="455.20" x2="206.60" y2="448.10" stroke="#161616" stroke-width="3.1"/><line x1="215.30" y1="436.20" x2="222.40" y2="430.00" stroke="#161616" stroke-width="3.1"/><line x1="235.90" y1="419.40" x2="243.60" y2="414.70" stroke="#161616" stroke-width="3.1"/><line x1="258.60" y1="409.10" x2="266.30" y2="406.00" stroke="#161616" stroke-width="3.1"/><line x1="282.00" y1="400.20" x2="289.80" y2="397.80" stroke="#161616" stroke-width="3.1"/><line x1="305.50" y1="393.60" x2="313.20" y2="391.30" stroke="#161616" stroke-width="3.1"/><rect x="61.60" y="285.10" width="262.50" height="261.70" fill="none" stroke="#121516" stroke-width="1.9" stroke-linejoin="round"/><line x1="78.72" y1="546.80" x2="78.72" y2="544.30" stroke="#151515" stroke-width="1.3"/><line x1="78.72" y1="285.10" x2="78.72" y2="287.60" stroke="#151515" stroke-width="1.3"/><line x1="61.60" y1="529.73" x2="64.10" y2="529.73" stroke="#151515" stroke-width="1.3"/><line x1="324.10" y1="529.73" x2="321.60" y2="529.73" stroke="#151515" stroke-width="1.3"/><line x1="107.25" y1="546.80" x2="107.25" y2="542.80" stroke="#151515" stroke-width="1.3"/><line x1="107.25" y1="285.10" x2="107.25" y2="289.10" stroke="#151515" stroke-width="1.3"/><line x1="61.60" y1="501.29" x2="65.60" y2="501.29" stroke="#151515" stroke-width="1.3"/><line x1="324.10" y1="501.29" x2="320.10" y2="501.29" stroke="#151515" stroke-width="1.3"/><line x1="135.78" y1="546.80" x2="135.78" y2="544.30" stroke="#151515" stroke-width="1.3"/><line x1="135.78" y1="285.10" x2="135.78" y2="287.60" stroke="#151515" stroke-width="1.3"/><line x1="61.60" y1="472.84" x2="64.10" y2="472.84" stroke="#151515" stroke-width="1.3"/><line x1="324.10" y1="472.84" x2="321.60" y2="472.84" stroke="#151515" stroke-width="1.3"/><line x1="164.32" y1="546.80" x2="164.32" y2="542.80" stroke="#151515" stroke-width="1.3"/><line x1="164.32" y1="285.10" x2="164.32" y2="289.10" stroke="#151515" stroke-width="1.3"/><line x1="61.60" y1="444.40" x2="65.60" y2="444.40" stroke="#151515" stroke-width="1.3"/><line x1="324.10" y1="444.40" x2="320.10" y2="444.40" stroke="#151515" stroke-width="1.3"/><line x1="192.85" y1="546.80" x2="192.85" y2="544.30" stroke="#151515" stroke-width="1.3"/><line x1="192.85" y1="285.10" x2="192.85" y2="287.60" stroke="#151515" stroke-width="1.3"/><line x1="61.60" y1="415.95" x2="64.10" y2="415.95" stroke="#151515" stroke-width="1.3"/><line x1="324.10" y1="415.95" x2="321.60" y2="415.95" stroke="#151515" stroke-width="1.3"/><line x1="221.38" y1="546.80" x2="221.38" y2="542.80" stroke="#151515" stroke-width="1.3"/><line x1="221.38" y1="285.10" x2="221.38" y2="289.10" stroke="#151515" stroke-width="1.3"/><line x1="61.60" y1="387.50" x2="65.60" y2="387.50" stroke="#151515" stroke-width="1.3"/><line x1="324.10" y1="387.50" x2="320.10" y2="387.50" stroke="#151515" stroke-width="1.3"/><line x1="249.92" y1="546.80" x2="249.92" y2="544.30" stroke="#151515" stroke-width="1.3"/><line x1="249.92" y1="285.10" x2="249.92" y2="287.60" stroke="#151515" stroke-width="1.3"/><line x1="61.60" y1="359.06" x2="64.10" y2="359.06" stroke="#151515" stroke-width="1.3"/><line x1="324.10" y1="359.06" x2="321.60" y2="359.06" stroke="#151515" stroke-width="1.3"/><line x1="278.45" y1="546.80" x2="278.45" y2="542.80" stroke="#151515" stroke-width="1.3"/><line x1="278.45" y1="285.10" x2="278.45" y2="289.10" stroke="#151515" stroke-width="1.3"/><line x1="61.60" y1="330.61" x2="65.60" y2="330.61" stroke="#151515" stroke-width="1.3"/><line x1="324.10" y1="330.61" x2="320.10" y2="330.61" stroke="#151515" stroke-width="1.3"/><line x1="306.98" y1="546.80" x2="306.98" y2="544.30" stroke="#151515" stroke-width="1.3"/><line x1="306.98" y1="285.10" x2="306.98" y2="287.60" stroke="#151515" stroke-width="1.3"/><line x1="61.60" y1="302.17" x2="64.10" y2="302.17" stroke="#151515" stroke-width="1.3"/><line x1="324.10" y1="302.17" x2="321.60" y2="302.17" stroke="#151515" stroke-width="1.3"/><rect x="361.10" y="285.10" width="262.50" height="261.70" fill="none" stroke="#121516" stroke-width="1.9" stroke-linejoin="round"/><line x1="378.22" y1="546.80" x2="378.22" y2="544.30" stroke="#151515" stroke-width="1.3"/><line x1="378.22" y1="285.10" x2="378.22" y2="287.60" stroke="#151515" stroke-width="1.3"/><line x1="361.10" y1="529.73" x2="363.60" y2="529.73" stroke="#151515" stroke-width="1.3"/><line x1="623.60" y1="529.73" x2="621.10" y2="529.73" stroke="#151515" stroke-width="1.3"/><line x1="406.75" y1="546.80" x2="406.75" y2="542.80" stroke="#151515" stroke-width="1.3"/><line x1="406.75" y1="285.10" x2="406.75" y2="289.10" stroke="#151515" stroke-width="1.3"/><line x1="361.10" y1="501.29" x2="365.10" y2="501.29" stroke="#151515" stroke-width="1.3"/><line x1="623.60" y1="501.29" x2="619.60" y2="501.29" stroke="#151515" stroke-width="1.3"/><line x1="435.28" y1="546.80" x2="435.28" y2="544.30" stroke="#151515" stroke-width="1.3"/><line x1="435.28" y1="285.10" x2="435.28" y2="287.60" stroke="#151515" stroke-width="1.3"/><line x1="361.10" y1="472.84" x2="363.60" y2="472.84" stroke="#151515" stroke-width="1.3"/><line x1="623.60" y1="472.84" x2="621.10" y2="472.84" stroke="#151515" stroke-width="1.3"/><line x1="463.82" y1="546.80" x2="463.82" y2="542.80" stroke="#151515" stroke-width="1.3"/><line x1="463.82" y1="285.10" x2="463.82" y2="289.10" stroke="#151515" stroke-width="1.3"/><line x1="361.10" y1="444.40" x2="365.10" y2="444.40" stroke="#151515" stroke-width="1.3"/><line x1="623.60" y1="444.40" x2="619.60" y2="444.40" stroke="#151515" stroke-width="1.3"/><line x1="492.35" y1="546.80" x2="492.35" y2="544.30" stroke="#151515" stroke-width="1.3"/><line x1="492.35" y1="285.10" x2="492.35" y2="287.60" stroke="#151515" stroke-width="1.3"/><line x1="361.10" y1="415.95" x2="363.60" y2="415.95" stroke="#151515" stroke-width="1.3"/><line x1="623.60" y1="415.95" x2="621.10" y2="415.95" stroke="#151515" stroke-width="1.3"/><line x1="520.88" y1="546.80" x2="520.88" y2="542.80" stroke="#151515" stroke-width="1.3"/><line x1="520.88" y1="285.10" x2="520.88" y2="289.10" stroke="#151515" stroke-width="1.3"/><line x1="361.10" y1="387.50" x2="365.10" y2="387.50" stroke="#151515" stroke-width="1.3"/><line x1="623.60" y1="387.50" x2="619.60" y2="387.50" stroke="#151515" stroke-width="1.3"/><line x1="549.42" y1="546.80" x2="549.42" y2="544.30" stroke="#151515" stroke-width="1.3"/><line x1="549.42" y1="285.10" x2="549.42" y2="287.60" stroke="#151515" stroke-width="1.3"/><line x1="361.10" y1="359.06" x2="363.60" y2="359.06" stroke="#151515" stroke-width="1.3"/><line x1="623.60" y1="359.06" x2="621.10" y2="359.06" stroke="#151515" stroke-width="1.3"/><line x1="577.95" y1="546.80" x2="577.95" y2="542.80" stroke="#151515" stroke-width="1.3"/><line x1="577.95" y1="285.10" x2="577.95" y2="289.10" stroke="#151515" stroke-width="1.3"/><line x1="361.10" y1="330.61" x2="365.10" y2="330.61" stroke="#151515" stroke-width="1.3"/><line x1="623.60" y1="330.61" x2="619.60" y2="330.61" stroke="#151515" stroke-width="1.3"/><line x1="606.48" y1="546.80" x2="606.48" y2="544.30" stroke="#151515" stroke-width="1.3"/><line x1="606.48" y1="285.10" x2="606.48" y2="287.60" stroke="#151515" stroke-width="1.3"/><line x1="361.10" y1="302.17" x2="363.60" y2="302.17" stroke="#151515" stroke-width="1.3"/><line x1="623.60" y1="302.17" x2="621.10" y2="302.17" stroke="#151515" stroke-width="1.3"/><text x="73.40" y="305.60" font-family='"Liberation Sans", sans-serif' font-size="22.50" fill="#000" text-anchor="start" font-weight="bold">c</text><text x="369.60" y="310.00" font-family='"Liberation Sans", sans-serif' font-size="22.50" fill="#000" text-anchor="start" font-weight="bold">d</text><text x="74.0" y="342.3" font-family='"Liberation Serif", serif' font-size="17" fill="#111">&#916;<tspan font-style="italic">&#934;</tspan><tspan font-family='"Liberation Sans", sans-serif'> </tspan><tspan font-family='"Liberation Sans", sans-serif' dy="1.4">=</tspan><tspan font-family='"Liberation Sans", sans-serif' dy="-1.4"> </tspan><tspan font-style="italic" font-size="18.5">&#960;</tspan></text><text x="128.8" y="407.2" font-family='"Liberation Serif", serif' font-size="17" fill="#111">&#916;<tspan font-style="italic">&#934;</tspan><tspan font-family='"Liberation Sans", sans-serif'> </tspan><tspan font-family='"Liberation Sans", sans-serif' dy="1.0">=</tspan><tspan font-family='"Liberation Sans", sans-serif' dy="-1.0"> 0</tspan></text><text x="211.5" y="474.7" font-family='"Liberation Serif", serif' font-size="16.5" fill="#111">&#916;<tspan font-style="italic">&#934;</tspan><tspan font-family='"Liberation Sans", sans-serif'> = &#8722;&#960; / 2</tspan></text><text x="203.20" y="324.10" font-family='"Liberation Sans", sans-serif' font-size="11.60" fill="#111" text-anchor="middle">-0.5&#960;</text><text x="262.30" y="324.10" font-family='"Liberation Sans", sans-serif' font-size="11.60" fill="#111" text-anchor="middle">1.5&#960;</text><text x="269.0" y="302.8" font-family='"Liberation Serif", serif' font-size="11.5" fill="#111" font-style="italic">&#934;</text><text x="278.00" y="307.00" font-family='"Liberation Sans", sans-serif' font-size="8.80" fill="#111" text-anchor="start">res</text><text x="503.20" y="324.10" font-family='"Liberation Sans", sans-serif' font-size="11.60" fill="#111" text-anchor="middle">-1.5&#960;</text><text x="563.60" y="324.10" font-family='"Liberation Sans", sans-serif' font-size="11.60" fill="#111" text-anchor="middle">1.5&#960;</text><text x="565.8" y="303.7" font-family='"Liberation Serif", serif' font-size="11" fill="#111">&#916;<tspan font-style="italic">&#934;</tspan></text><text x="107.25" y="567.00" font-family='"Liberation Sans", sans-serif' font-size="17.40" fill="#111" text-anchor="middle">200</text><text x="406.75" y="567.00" font-family='"Liberation Sans", sans-serif' font-size="17.40" fill="#111" text-anchor="middle">200</text><text x="54.80" y="507.29" font-family='"Liberation Sans", sans-serif' font-size="17.40" fill="#111" text-anchor="end">200</text><text x="630.00" y="507.29" font-family='"Liberation Sans", sans-serif' font-size="17.40" fill="#111" text-anchor="start">200</text><text x="164.32" y="567.00" font-family='"Liberation Sans", sans-serif' font-size="17.40" fill="#111" text-anchor="middle">300</text><text x="463.82" y="567.00" font-family='"Liberation Sans", sans-serif' font-size="17.40" fill="#111" text-anchor="middle">300</text><text x="54.80" y="450.40" font-family='"Liberation Sans", sans-serif' font-size="17.40" fill="#111" text-anchor="end">300</text><text x="630.00" y="450.40" font-family='"Liberation Sans", sans-serif' font-size="17.40" fill="#111" text-anchor="start">300</text><text x="221.38" y="567.00" font-family='"Liberation Sans", sans-serif' font-size="17.40" fill="#111" text-anchor="middle">400</text><text x="520.88" y="567.00" font-family='"Liberation Sans", sans-serif' font-size="17.40" fill="#111" text-anchor="middle">400</text><text x="54.80" y="393.50" font-family='"Liberation Sans", sans-serif' font-size="17.40" fill="#111" text-anchor="end">400</text><text x="630.00" y="393.50" font-family='"Liberation Sans", sans-serif' font-size="17.40" fill="#111" text-anchor="start">400</text><text x="278.45" y="567.00" font-family='"Liberation Sans", sans-serif' font-size="17.40" fill="#111" text-anchor="middle">500</text><text x="577.95" y="567.00" font-family='"Liberation Sans", sans-serif' font-size="17.40" fill="#111" text-anchor="middle">500</text><text x="54.80" y="336.61" font-family='"Liberation Sans", sans-serif' font-size="17.40" fill="#111" text-anchor="end">500</text><text x="630.00" y="336.61" font-family='"Liberation Sans", sans-serif' font-size="17.40" fill="#111" text-anchor="start">500</text><text x="193.00" y="590.6" font-family='"Liberation Sans", sans-serif' font-size="17.5" fill="#111" text-anchor="middle"><tspan font-style="italic">L</tspan><tspan font-size="12.5" dy="5.5">u</tspan><tspan dy="-5.5"> (nm)</tspan></text><text x="493.00" y="590.6" font-family='"Liberation Sans", sans-serif' font-size="17.5" fill="#111" text-anchor="middle"><tspan font-style="italic">L</tspan><tspan font-size="12.5" dy="5.5">u</tspan><tspan dy="-5.5"> (nm)</tspan></text><text transform="translate(13.0,417.5) rotate(-90)" font-family='"Liberation Sans", sans-serif' font-size="17.5" fill="#111" text-anchor="middle"><tspan font-style="italic">L</tspan><tspan font-size="12.5" dy="3.9">v</tspan><tspan dy="-3.9"> (nm)</tspan></text><text transform="translate(671.8,417.0) rotate(90)" font-family='"Liberation Sans", sans-serif' font-size="17.5" fill="#111" text-anchor="middle"><tspan font-style="italic">L</tspan><tspan font-size="12.5" dy="4.9">v</tspan><tspan dy="-4.9"> (nm)</tspan></text><line x1="519.1" y1="6.0" x2="519.1" y2="228" stroke="#111" stroke-width="2.3" stroke-dasharray="8,15.5"/><path d="M361.50,82.83 C362.62,83.40 365.98,85.12 368.21,86.25 C370.45,87.38 372.69,88.49 374.93,89.61 C377.16,90.72 379.40,91.82 381.64,92.92 C383.88,94.02 386.11,95.11 388.35,96.21 C390.59,97.30 392.83,98.39 395.06,99.48 C397.30,100.57 399.54,101.66 401.78,102.75 C404.01,103.85 406.25,104.94 408.49,106.04 C410.73,107.14 412.96,108.24 415.20,109.35 C417.44,110.46 419.68,111.57 421.92,112.69 C424.15,113.81 426.39,114.94 428.63,116.07 C430.87,117.21 433.10,118.35 435.34,119.50 C437.58,120.65 439.82,121.81 442.05,122.98 C444.29,124.15 446.53,125.33 448.77,126.51 C451.00,127.70 453.24,128.90 455.48,130.11 C457.72,131.32 459.95,132.53 462.19,133.76 C464.43,134.99 466.67,136.23 468.91,137.47 C471.14,138.72 473.38,139.98 475.62,141.24 C477.86,142.51 480.09,143.78 482.33,145.07 C484.57,146.35 486.81,147.64 489.04,148.94 C491.28,150.24 493.52,151.55 495.76,152.86 C497.99,154.18 500.23,155.50 502.47,156.82 C504.71,158.15 506.94,159.48 509.18,160.81 C511.42,162.15 513.66,163.48 515.89,164.82 C518.13,166.16 520.37,167.51 522.61,168.85 C524.85,170.19 527.08,171.53 529.32,172.87 C531.56,174.20 533.80,175.54 536.03,176.87 C538.27,178.20 540.51,179.53 542.75,180.85 C544.98,182.16 547.22,183.48 549.46,184.78 C551.70,186.07 553.93,187.37 556.17,188.64 C558.41,189.92 560.65,191.18 562.88,192.43 C565.12,193.67 567.36,194.90 569.60,196.11 C571.84,197.31 574.07,198.50 576.31,199.67 C578.55,200.83 580.79,201.97 583.02,203.08 C585.26,204.19 587.50,205.27 589.74,206.32 C591.97,207.37 594.21,208.39 596.45,209.37 C598.69,210.35 600.92,211.29 603.16,212.19 C605.40,213.09 607.64,213.95 609.87,214.77 C612.11,215.58 614.35,216.35 616.59,217.06 C618.82,217.77 622.18,218.71 623.30,219.04" fill="none" stroke="#c9231e" stroke-width="4.7" stroke-linecap="butt"/><path d="M361.50,48.16 C362.62,48.15 365.98,48.10 368.21,48.09 C370.45,48.09 372.69,48.10 374.93,48.14 C377.16,48.18 379.40,48.23 381.64,48.31 C383.88,48.39 386.11,48.50 388.35,48.63 C390.59,48.75 392.83,48.91 395.06,49.08 C397.30,49.26 399.54,49.46 401.78,49.68 C404.01,49.91 406.25,50.16 408.49,50.43 C410.73,50.69 412.96,50.99 415.20,51.30 C417.44,51.60 419.68,51.94 421.92,52.28 C424.15,52.63 426.39,52.99 428.63,53.36 C430.87,53.74 433.10,54.13 435.34,54.52 C437.58,54.92 439.82,55.33 442.05,55.74 C444.29,56.15 446.53,56.56 448.77,56.98 C451.00,57.39 453.24,57.81 455.48,58.22 C457.72,58.63 459.95,59.04 462.19,59.43 C464.43,59.83 466.67,60.22 468.91,60.59 C471.14,60.96 473.38,61.32 475.62,61.66 C477.86,62.00 480.09,62.32 482.33,62.62 C484.57,62.92 486.81,63.20 489.04,63.44 C491.28,63.69 493.52,63.91 495.76,64.10 C497.99,64.29 500.23,64.44 502.47,64.57 C504.71,64.69 506.94,64.78 509.18,64.83 C511.42,64.88 513.66,64.89 515.89,64.86 C518.13,64.84 520.37,64.77 522.61,64.66 C524.85,64.55 527.08,64.41 529.32,64.21 C531.56,64.02 533.80,63.79 536.03,63.51 C538.27,63.24 540.51,62.92 542.75,62.57 C544.98,62.21 547.22,61.81 549.46,61.37 C551.70,60.94 553.93,60.46 556.17,59.95 C558.41,59.44 560.65,58.90 562.88,58.32 C565.12,57.75 567.36,57.14 569.60,56.51 C571.84,55.88 574.07,55.23 576.31,54.56 C578.55,53.89 580.79,53.19 583.02,52.50 C585.26,51.81 587.50,51.10 589.74,50.40 C591.97,49.70 594.21,48.99 596.45,48.31 C598.69,47.63 600.92,46.95 603.16,46.32 C605.40,45.68 607.64,45.06 609.87,44.50 C612.11,43.93 614.35,43.40 616.59,42.94 C618.82,42.49 622.18,41.96 623.30,41.76" fill="none" stroke="#173c6a" stroke-width="4.3" stroke-linecap="butt"/><line x1="361.30" y1="5.10" x2="623.30" y2="5.10" stroke="#222" stroke-width="1.3"/><line x1="361.30" y1="228.70" x2="623.30" y2="228.70" stroke="#222" stroke-width="1.3"/><line x1="361.30" y1="5.10" x2="361.30" y2="228.70" stroke="#cf2626" stroke-width="1.3"/><line x1="623.30" y1="5.10" x2="623.30" y2="228.70" stroke="#1c4c7c" stroke-width="1.3"/><line x1="361.30" y1="210.20" x2="364.80" y2="210.20" stroke="#cf2626" stroke-width="1.3"/><line x1="361.30" y1="163.47" x2="364.80" y2="163.47" stroke="#cf2626" stroke-width="1.3"/><line x1="361.30" y1="116.75" x2="364.80" y2="116.75" stroke="#cf2626" stroke-width="1.3"/><line x1="361.30" y1="70.02" x2="364.80" y2="70.02" stroke="#cf2626" stroke-width="1.3"/><line x1="361.30" y1="23.30" x2="364.80" y2="23.30" stroke="#cf2626" stroke-width="1.3"/><line x1="623.30" y1="192.40" x2="619.80" y2="192.40" stroke="#1c4c7c" stroke-width="1.3"/><line x1="623.30" y1="98.90" x2="619.80" y2="98.90" stroke="#1c4c7c" stroke-width="1.3"/><line x1="623.30" y1="5.40" x2="619.80" y2="5.40" stroke="#1c4c7c" stroke-width="1.3"/><line x1="361.50" y1="228.70" x2="361.50" y2="225.70" stroke="#222" stroke-width="1.3"/><line x1="426.95" y1="228.70" x2="426.95" y2="225.70" stroke="#222" stroke-width="1.3"/><line x1="426.95" y1="5.10" x2="426.95" y2="7.30" stroke="#222" stroke-width="1.3"/><line x1="492.40" y1="228.70" x2="492.40" y2="225.70" stroke="#222" stroke-width="1.3"/><line x1="492.40" y1="5.10" x2="492.40" y2="7.30" stroke="#222" stroke-width="1.3"/><line x1="557.85" y1="228.70" x2="557.85" y2="225.70" stroke="#222" stroke-width="1.3"/><line x1="557.85" y1="5.10" x2="557.85" y2="7.30" stroke="#222" stroke-width="1.3"/><line x1="623.30" y1="228.70" x2="623.30" y2="225.70" stroke="#222" stroke-width="1.3"/><text x="355.00" y="216.20" font-family='"Liberation Sans", sans-serif' font-size="17.40" fill="#cc1b1b" text-anchor="end">0</text><text x="355.00" y="122.75" font-family='"Liberation Sans", sans-serif' font-size="17.40" fill="#cc1b1b" text-anchor="end">1</text><text x="355.00" y="29.30" font-family='"Liberation Sans", sans-serif' font-size="17.40" fill="#cc1b1b" text-anchor="end">2</text><text x="629.60" y="198.40" font-family='"Liberation Sans", sans-serif' font-size="17.40" fill="#16568a" text-anchor="start">0</text><text x="629.60" y="12.00" font-family='"Liberation Sans", sans-serif' font-size="17.40" fill="#16568a" text-anchor="start">1</text><text x="361.70" y="250.00" font-family='"Liberation Sans", sans-serif' font-size="17.40" fill="#111" text-anchor="middle">1200</text><text x="491.90" y="250.00" font-family='"Liberation Sans", sans-serif' font-size="17.40" fill="#111" text-anchor="middle">1600</text><text x="622.80" y="250.00" font-family='"Liberation Sans", sans-serif' font-size="17.40" fill="#111" text-anchor="middle">2000</text><text x="492.00" y="269.20" font-family='"Liberation Sans", sans-serif' font-size="17.50" fill="#111" text-anchor="middle">Wavelength (nm)</text><text transform="translate(650.0,112.5) rotate(90)" font-family='"Liberation Sans", sans-serif' font-size="17.6" fill="#1a5a8e" text-anchor="middle">Reflectance</text><text x="375.20" y="29.80" font-family='"Liberation Sans", sans-serif' font-size="22.50" fill="#000" text-anchor="start" font-weight="bold">b</text><text x="413.0" y="204.7" font-family='"Liberation Sans", sans-serif' font-size="15.5" fill="#111"><tspan font-family='"Liberation Serif", serif' font-style="italic">&#955;</tspan><tspan font-size="11.5" dy="3.6">res</tspan><tspan dy="-3.6">=1672 nm</tspan></text><rect x="563.7" y="127.8" width="49.5" height="19.6" fill="#111"/><rect x="561.2" y="125.4" width="48.7" height="19.7" fill="#fff" stroke="#c8c8c8" stroke-width="0.8"/><rect x="563.7" y="149.0" width="50.0" height="19.6" fill="#111"/><rect x="560.4" y="146.8" width="50.4" height="18.8" fill="#fff" stroke="#c8c8c8" stroke-width="0.8"/><line x1="562.3" y1="137.4" x2="585.3" y2="137.4" stroke="#cc2a22" stroke-width="1.1"/><circle cx="573.8" cy="137.4" r="2.3" fill="#cc2a22"/><line x1="562.3" y1="157.7" x2="585.3" y2="157.7" stroke="#5a7fae" stroke-width="1.1"/><rect x="572.1" y="156.0" width="3.4" height="3.4" fill="#1c4c7c"/><text x="592.4" y="140.3" font-family='"Liberation Serif", serif' font-size="11.5" fill="#111" font-style="italic">&#934;</text><text x="601.30" y="144.00" font-family='"Liberation Sans", sans-serif' font-size="8.60" fill="#111" text-anchor="start">u</text><text x="592.40" y="160.40" font-family='"Liberation Sans", sans-serif' font-size="11.30" fill="#111" text-anchor="start" font-style="italic">R</text><text x="600.60" y="164.00" font-family='"Liberation Sans", sans-serif' font-size="8.60" fill="#111" text-anchor="start">u</text><polygon points="75.50,160.80 209.20,160.80 246.50,123.30 112.80,123.30" fill="#e8e8e8"/><rect x="75.50" y="160.80" width="133.70" height="40.60" fill="#e3e3e3"/><polygon points="209.20,160.80 246.50,123.30 246.50,163.50 209.20,201.40" fill="#dadada"/><line x1="112.80" y1="123.30" x2="112.80" y2="163.50" stroke="#e0e0e0" stroke-width="0.6"/><polygon points="75.50,201.40 209.20,201.40 246.50,163.50 112.80,163.50" fill="url(#slabT)"/><polygon points="128.5,171.0 141.6,163.6 159.1,174.6 178.1,163.6 191.2,170.2 172.3,181.9 191.2,192.8 177.4,199.7 159.1,190.0 140.1,199.7 128.5,193.6 146.7,181.9" fill="#d3c4a2"/><polygon points="76.50,224.00 209.20,224.00 245.50,186.10 247.50,189.60 210.70,228.00 76.50,228.00" fill="#9a9a9a" opacity="0.55" filter="url(#shblur)"/><rect x="75.50" y="201.40" width="133.70" height="23.60" fill="url(#slabF)"/><polygon points="209.20,201.40 246.50,163.50 246.50,187.10 209.20,225.00" fill="url(#slabR)"/><polygon points="129.48,152.17 180.06,123.35 193.45,131.23 142.87,160.05" fill="#805e10"/><polygon points="142.92,123.86 193.00,153.29 179.50,160.98 129.43,131.55" fill="#805e10"/><polygon points="129.48,151.77 180.06,122.95 193.45,130.83 142.87,159.65" fill="#886410"/><polygon points="142.92,123.46 193.00,152.89 179.50,160.58 129.43,131.15" fill="#886410"/><polygon points="129.48,151.37 180.06,122.55 193.45,130.43 142.87,159.25" fill="#906a11"/><polygon points="142.92,123.06 193.00,152.49 179.50,160.18 129.43,130.75" fill="#906a11"/><polygon points="129.48,150.97 180.06,122.15 193.45,130.03 142.87,158.85" fill="#987012"/><polygon points="142.92,122.66 193.00,152.09 179.50,159.78 129.43,130.35" fill="#987012"/><polygon points="129.48,150.57 180.06,121.75 193.45,129.63 142.87,158.45" fill="#a07713"/><polygon points="142.92,122.26 193.00,151.69 179.50,159.38 129.43,129.95" fill="#a07713"/><polygon points="129.48,150.17 180.06,121.35 193.45,129.23 142.87,158.05" fill="#a87d14"/><polygon points="142.92,121.86 193.00,151.29 179.50,158.98 129.43,129.55" fill="#a87d14"/><polygon points="129.48,149.77 180.06,120.95 193.45,128.83 142.87,157.65" fill="#b08315"/><polygon points="142.92,121.46 193.00,150.89 179.50,158.58 129.43,129.15" fill="#b08315"/><polygon points="129.48,149.37 180.06,120.55 193.45,128.43 142.87,157.25" fill="#b88a16"/><polygon points="142.92,121.06 193.00,150.49 179.50,158.18 129.43,128.75" fill="#b88a16"/><polygon points="129.48,148.87 180.06,120.05 193.45,127.93 142.87,156.75" fill="url(#crossTop)"/><polygon points="142.92,120.56 193.00,149.99 179.50,157.68 129.43,128.25" fill="url(#crossTop)"/><line x1="138.22" y1="150.25" x2="184.71" y2="124.20" stroke="#1b4584" stroke-width="1.70"/><polygon points="184.71,124.20 181.10,129.20 180.22,126.72 178.56,124.67" fill="#1b4584"/><polygon points="138.22,150.25 141.83,145.25 142.71,147.74 144.37,149.78" fill="#1b4584"/><line x1="140.26" y1="123.17" x2="185.22" y2="150.77" stroke="#1b4584" stroke-width="1.70"/><polygon points="185.22,150.77 179.09,150.05 180.83,148.07 181.81,145.62" fill="#1b4584"/><polygon points="140.26,123.17 146.40,123.89 144.65,125.87 143.68,128.32" fill="#1b4584"/><line x1="163.0" y1="137.2" x2="227" y2="137.2" stroke="#000" stroke-width="1.4" stroke-dasharray="5.3,4.9"/><path d="M174.3,130.8 Q178.9,132.2 178.0,136.7" fill="none" stroke="#1b4584" stroke-width="1.25"/><line x1="179.60" y1="159.60" x2="192.60" y2="152.00" stroke="#0a0a0a" stroke-width="1.80"/><polygon points="192.60,152.00 189.57,157.13 188.47,154.41 186.65,152.12" fill="#0a0a0a"/><polygon points="179.60,159.60 182.63,154.47 183.73,157.19 185.55,159.48" fill="#0a0a0a"/><line x1="198.5" y1="130.2" x2="198.5" y2="146.5" stroke="#111" stroke-width="1.2"/><polygon points="198.50,146.50 195.80,140.90 198.50,141.46 201.20,140.90" fill="#111"/><line x1="194" y1="147.0" x2="204.6" y2="147.0" stroke="#0a0a0a" stroke-width="1.5"/><line x1="194" y1="152.4" x2="204.6" y2="152.4" stroke="#0a0a0a" stroke-width="1.5"/><line x1="198.5" y1="152.5" x2="198.5" y2="168.0" stroke="#111" stroke-width="1.2"/><polygon points="198.50,152.70 201.20,158.30 198.50,157.74 195.80,158.30" fill="#111"/><line x1="250.60" y1="143.00" x2="250.60" y2="124.00" stroke="#111" stroke-width="1.30"/><polygon points="250.60,124.00 253.40,130.00 250.60,128.50 247.80,130.00" fill="#111"/><line x1="250.60" y1="143.00" x2="250.60" y2="162.60" stroke="#111" stroke-width="1.30"/><polygon points="250.60,162.60 247.80,156.60 250.60,158.10 253.40,156.60" fill="#111"/><line x1="250.60" y1="176.00" x2="250.60" y2="164.60" stroke="#111" stroke-width="1.30"/><polygon points="250.60,164.60 253.40,170.60 250.60,169.10 247.80,170.60" fill="#111"/><line x1="250.60" y1="176.00" x2="250.60" y2="188.20" stroke="#111" stroke-width="1.30"/><polygon points="250.60,188.20 247.80,182.20 250.60,183.70 253.40,182.20" fill="#111"/><line x1="142.00" y1="231.00" x2="76.00" y2="231.00" stroke="#111" stroke-width="1.30"/><polygon points="76.00,231.00 83.00,228.00 81.25,231.00 83.00,234.00" fill="#111"/><line x1="142.00" y1="231.00" x2="209.20" y2="231.00" stroke="#111" stroke-width="1.30"/><polygon points="209.20,231.00 202.20,234.00 203.95,231.00 202.20,228.00" fill="#111"/><line x1="231.00" y1="210.50" x2="249.70" y2="192.40" stroke="#111" stroke-width="1.30"/><polygon points="249.70,192.40 246.76,199.42 245.93,196.05 242.58,195.11" fill="#111"/><line x1="231.00" y1="210.50" x2="212.10" y2="228.60" stroke="#111" stroke-width="1.30"/><polygon points="212.10,228.60 215.08,221.59 215.89,224.97 219.23,225.93" fill="#111"/><line x1="218.50" y1="74.00" x2="217.40" y2="32.80" stroke="#111" stroke-width="1.70"/><polygon points="217.40,32.80 222.47,42.67 217.60,40.30 212.87,42.92" fill="#111"/><line x1="218.50" y1="74.00" x2="258.30" y2="74.00" stroke="#111" stroke-width="1.70"/><polygon points="258.30,74.00 248.30,78.80 250.80,74.00 248.30,69.20" fill="#111"/><line x1="218.50" y1="74.00" x2="255.60" y2="37.50" stroke="#111" stroke-width="1.70"/><polygon points="255.60,37.50 251.84,47.93 250.25,42.76 245.11,41.09" fill="#111"/><text x="213.00" y="28.30" font-family='"Liberation Sans", sans-serif' font-size="14.50" fill="#111" text-anchor="start" font-style="italic">z</text><text x="259.50" y="34.00" font-family='"Liberation Sans", sans-serif' font-size="14.50" fill="#111" text-anchor="start" font-style="italic">y</text><text x="262.60" y="79.20" font-family='"Liberation Sans", sans-serif' font-size="14.50" fill="#111" text-anchor="start" font-style="italic">x</text><text x="73.20" y="29.80" font-family='"Liberation Sans", sans-serif' font-size="22.50" fill="#000" text-anchor="start" font-weight="bold">a</text><text x="113.6" y="106.4" font-family='"Liberation Sans", sans-serif' font-size="16.5" fill="#2a5a96"><tspan font-style="italic">L</tspan><tspan font-size="12.5" dy="4.3">v</tspan></text><text x="102.6" y="156.6" font-family='"Liberation Sans", sans-serif' font-size="16.5" fill="#2a5a96"><tspan font-style="italic">L</tspan><tspan font-size="12.5" dy="4.3">u</tspan></text><text x="193.2" y="116.7" font-family='"Liberation Serif", serif' font-size="17.2" fill="#2a5a96" font-style="italic">&#958;</text><text x="170.20" y="174.00" font-family='"Liberation Sans", sans-serif' font-size="15.00" fill="#111" text-anchor="start" font-style="italic">w</text><text x="208.60" y="155.70" font-family='"Liberation Sans", sans-serif' font-size="15.6" fill="#111"><tspan font-style="italic">h</tspan><tspan font-size="12" dy="4.5">1</tspan></text><text x="261.40" y="147.80" font-family='"Liberation Sans", sans-serif' font-size="15.6" fill="#111"><tspan font-style="italic">h</tspan><tspan font-size="12" dy="4.5">2</tspan></text><text x="261.40" y="181.20" font-family='"Liberation Sans", sans-serif' font-size="15.6" fill="#111"><tspan font-style="italic">h</tspan><tspan font-size="12" dy="4.5">3</tspan></text><text x="135.2" y="253.0" font-family='"Liberation Sans", sans-serif' font-size="16" fill="#111"><tspan font-style="italic">P</tspan><tspan font-size="12" dy="3.5">1</tspan></text><text x="236.6" y="226.6" font-family='"Liberation Sans", sans-serif' font-size="16" fill="#111"><tspan font-style="italic">P</tspan><tspan font-size="12" dy="3.5">2</tspan></text></svg></body></html>
